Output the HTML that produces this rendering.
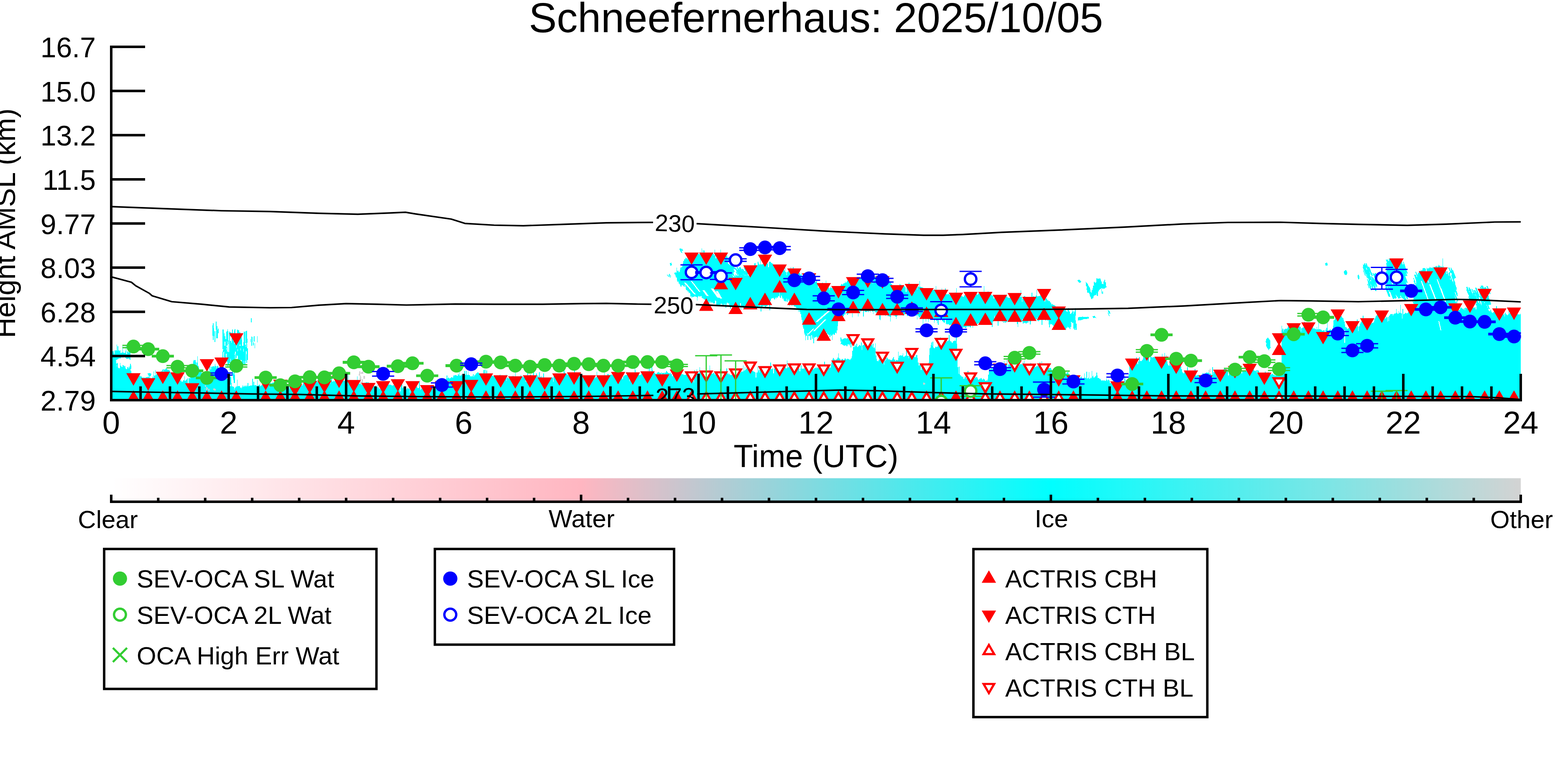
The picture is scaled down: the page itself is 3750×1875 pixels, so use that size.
<!DOCTYPE html><html><head><meta charset="utf-8"><title>Schneefernerhaus: 2025/10/05</title><style>html,body{margin:0;padding:0;background:#fff;font-family:"Liberation Sans",sans-serif}svg{display:block}</style></head><body><svg width="3750" height="1875" viewBox="0 0 3750 1875"><defs><clipPath id="ax"><rect x="266.0" y="0" width="3371.5" height="957.0"/></clipPath><linearGradient id="cb" x1="0" x2="1" y1="0" y2="0"><stop offset="0" stop-color="#ffffff"/><stop offset="0.33333" stop-color="#ffb6c1"/><stop offset="0.66667" stop-color="#00ffff"/><stop offset="1" stop-color="#d3d3d3"/></linearGradient></defs><rect width="3750" height="1875" fill="#fff"/><g clip-path="url(#ax)"><g shape-rendering="crispEdges"><path d="M266 957V841.1H267.4V842H268.8V840H270.2V840.4H271.6V844.6H273V847.7H274.4V838.1H275.8V838.4H277.2V837.8H278.6V824.4H280V838.7H281.4V828.3H282.8V837.4H284.2V839.3H285.6V837.6H287V838.4H288.4V844.3H289.8V844H291.2V843.4H292.6V828.1H294V841.7H295.4V843.7H296.8V843.6H298.2V843.5H299.6V839.1H301V826.4H302.4V847.1H303.8V840.1H305.2V840.6H306.6V843.7H308V840.9H309.4V840.3H310.8V841.6H312.2V872.4H313.6V892.4H315V893.4H316.4V896H317.8V895H319.2V895H320.6V896.2H322V899.6H323.4V901.5H324.8V900.5H326.2V892.7H327.6V896.5H329V895.6H330.4V892.7H331.8V895.7H333.2V898.1H334.6V898.9H336V900.6H337.4V900.3H338.8V902.2H340.2V902.5H341.6V905.4H343V902H344.4V903.2H345.8V905.1H347.2V903.1H348.6V901.6H350V902H351.4V901.7H352.8V901.3H354.2V901.3H355.6V903.4H357V897.4H358.4V903.4H359.8V905.5H361.2V908.6H362.6V905H364V899.6H365.4V903.3H366.8V887.7H368.2V898.1H369.6V898.5H371V884.9H372.4V897.4H373.8V893.9H375.2V895.1H376.6V891.7H378V894.6H379.4V892.4H380.8V893.2H382.2V890.7H383.6V896.9H385V886.5H386.4V887.8H387.8V885.1H389.2V882.9H390.6V891.2H392V883.4H393.4V883.7H394.8V882.9H396.2V880.9H397.6V881.3H399V882.8H400.4V884.2H401.8V886.2H403.2V884H404.6V886.6H406V888.2H407.4V890.8H408.8V892.8H410.2V892.4H411.6V894.5H413V896.6H414.4V896.2H415.8V893.2H417.2V893.4H418.6V895.2H420V895.2H421.4V895.4H422.8V894.2H424.2V899.7H425.6V903.4H427V904.8H428.4V905.7H429.8V906H431.2V909.5H432.6V910.2H434V912.5H435.4V913H436.8V911.4H438.2V909.3H439.6V910.4H441V900.1H442.4V910.7H443.8V909.2H445.2V908.1H446.6V906H448V903.7H449.4V917.1H450.8V905.4H452.2V904.4H453.6V905.7H455V900.2H456.4V892.4H457.8V879.6H459.2V873.6H460.6V870.1H462V863.5H463.4V860.5H464.8V861.9H466.2V860.7H467.6V865.8H469V873.4H470.4V866.5H471.8V852H473.2V875.1H474.6V879.4H476V882.6H477.4V884.8H478.8V887.4H480.2V887.6H481.6V892.4H483V891.8H484.4V894.9H485.8V898.1H487.2V899.5H488.6V897.9H490V900.1H491.4V897.3H492.8V899.6H494.2V899.3H495.6V897.6H497V878H498.4V896.3H499.8V894.9H501.2V875.2H502.6V883.6H504V882.6H505.4V876.8H506.8V877.9H508.2V878.9H509.6V877H511V877H512.4V877.5H513.8V869.6H515.2V876.8H516.6V881.3H518V891.5H519.4V901.1H520.8V900.2H522.2V900.6H523.6V899.6H525V900.9H526.4V902H527.8V903.3H529.2V900.6H530.6V900.6H532V901.5H533.4V904.5H534.8V904H536.2V905.4H537.6V908.7H539V908.1H540.4V918.1H541.8V906.1H543.2V906.3H544.6V906.4H546V912.2H547.4V916.8H548.8V922.2H550.2V923.5H551.6V921H553V915.6H554.4V923.6H555.8V924H557.2V924.6H558.6V925.2H560V932.2H561.4V927.7H562.8V924.6H564.2V925.2H565.6V923.4H567V908.2H568.4V924.2H569.8V923.4H571.2V922.8H572.6V923.7H574V927.3H575.4V927.3H576.8V928.5H578.2V926.4H579.6V921.8H581V922.3H582.4V925.1H583.8V923.9H585.2V921.5H586.6V924.1H588V924.8H589.4V922.4H590.8V924.4H592.2V915.7H593.6V924.3H595V923H596.4V923H597.8V922.4H599.2V921.7H600.6V922.1H602V921.9H603.4V906.1H604.8V920.8H606.2V913.2H607.6V920.6H609V921.9H610.4V920.6H611.8V920.8H613.2V923.4H614.6V909.4H616V922.6H617.4V921.7H618.8V920.4H620.2V920.3H621.6V923.4H623V923.9H624.4V921.5H625.8V919.8H627.2V917.9H628.6V916.9H630V911.1H631.4V917H632.8V913.8H634.2V896.3H635.6V916.9H637V916.7H638.4V912.6H639.8V914H641.2V916.9H642.6V916.1H644V925.9H645.4V915.5H646.8V916.1H648.2V916.9H649.6V915H651V916.4H652.4V915.4H653.8V915.2H655.2V919.7H656.6V919.6H658V922.2H659.4V924H660.8V922.6H662.2V923.2H663.6V920.9H665V919.6H666.4V919.8H667.8V924.3H669.2V924.3H670.6V923.9H672V923H673.4V916.8H674.8V921.2H676.2V919.4H677.6V918.7H679V919.3H680.4V930.3H681.8V919.8H683.2V920.3H684.6V919.5H686V920.5H687.4V919.4H688.8V919H690.2V921.1H691.6V930.6H693V915.2H694.4V918.8H695.8V918.3H697.2V918.6H698.6V918.1H700V919.5H701.4V920.2H702.8V919.8H704.2V920.6H705.6V919.8H707V920.2H708.4V923.2H709.8V920.6H711.2V920.6H712.6V919H714V921.8H715.4V919.8H716.8V918.5H718.2V919.4H719.6V919.7H721V921.3H722.4V921.8H723.8V919.4H725.2V907.8H726.6V918.7H728V914.7H729.4V913.4H730.8V915.8H732.2V920.5H733.6V925.2H735V913.2H736.4V913.6H737.8V911.8H739.2V912.7H740.6V911.4H742V910H743.4V914.5H744.8V912.3H746.2V912.3H747.6V910.4H749V912.8H750.4V914.3H751.8V911.8H753.2V911.2H754.6V910.4H756V909.7H757.4V911.4H758.8V913.6H760.2V913.7H761.6V912.8H763V904.7H764.4V915.5H765.8V916.9H767.2V918.1H768.6V918.2H770V918.4H771.4V917.9H772.8V917.5H774.2V919.4H775.6V919.1H777V919.4H778.4V917.7H779.8V918.9H781.2V917.8H782.6V920.3H784V915.4H785.4V913.8H786.8V917.3H788.2V917.7H789.6V915H791V914.2H792.4V901.7H793.8V912H795.2V912.7H796.6V910.1H798V911.1H799.4V912.3H800.8V910.1H802.2V910.3H803.6V909.8H805V892.9H806.4V917.6H807.8V909.9H809.2V911.9H810.6V913.1H812V910.5H813.4V909.3H814.8V917.3H816.2V909.7H817.6V908.4H819V908.7H820.4V900.1H821.8V911H823.2V911.1H824.6V916.7H826V906.8H827.4V908.9H828.8V911.3H830.2V912H831.6V891.1H833V911.1H834.4V912.5H835.8V915.3H837.2V914.3H838.6V914.4H840V914.3H841.4V913.8H842.8V912.7H844.2V916.9H845.6V920H847V927.9H848.4V918.6H849.8V917.8H851.2V917.4H852.6V917.3H854V900.1H855.4V920.1H856.8V917.8H858.2V917.9H859.6V917.2H861V908.2H862.4V917.5H863.8V913.7H865.2V914.6H866.6V915.3H868V915.8H869.4V916H870.8V917.5H872.2V915.3H873.6V916.6H875V914.1H876.4V914.4H877.8V915.6H879.2V914.1H880.6V915.2H882V918.4H883.4V923.6H884.8V916.9H886.2V916.8H887.6V916.6H889V919.1H890.4V922H891.8V924.9H893.2V923.7H894.6V923.3H896V924.4H897.4V922.5H898.8V922H900.2V925.7H901.6V926H903V920.4H904.4V926.8H905.8V930.7H907.2V928.9H908.6V930.5H910V920.1H911.4V925.3H912.8V926.2H914.2V927.3H915.6V925.7H917V925.4H918.4V925.1H919.8V924.8H921.2V926.9H922.6V926.1H924V924.3H925.4V922.7H926.8V918.1H928.2V919.6H929.6V919.1H931V921H932.4V919.8H933.8V920.3H935.2V920.9H936.6V922.1H938V922.5H939.4V920.9H940.8V921.1H942.2V921.5H943.6V905.5H945V921.4H946.4V922.2H947.8V924.2H949.2V927.7H950.6V928.9H952V929.7H953.4V927.9H954.8V927.7H956.2V935.6H957.6V927.1H959V920.5H960.4V909.4H961.8V928.9H963.2V927.4H964.6V923.7H966V929.1H967.4V928H968.8V929.7H970.2V929H971.6V931.7H973V929.5H974.4V928.1H975.8V929.4H977.2V930.2H978.6V929.7H980V939.3H981.4V929.1H982.8V931.5H984.2V929H985.6V927.6H987V916.6H988.4V923.8H989.8V926.8H991.2V927.2H992.6V929.6H994V927.7H995.4V924.9H996.8V924.3H998.2V928.3H999.6V927.9H1001V927.5H1002.4V912.1H1003.8V925.8H1005.2V931.8H1006.6V929.4H1008V929.4H1009.4V930.6H1010.8V922.7H1012.2V930.5H1013.6V927.6H1015V930.2H1016.4V927.9H1017.8V927.4H1019.2V928.1H1020.6V926.4H1022V926.1H1023.4V924.9H1024.8V925.8H1026.2V925.4H1027.6V923.6H1029V925.5H1030.4V926.3H1031.8V928.7H1033.2V928.5H1034.6V928.7H1036V926.1H1037.4V925.3H1038.8V927.9H1040.2V928.4H1041.6V909.7H1043V931.2H1044.4V928.1H1045.8V927.5H1047.2V927.4H1048.6V928H1050V926.8H1051.4V937.2H1052.8V927.6H1054.2V928.7H1055.6V919.4H1057V927.2H1058.4V916.3H1059.8V932.1H1061.2V932.3H1062.6V925.5H1064V919.5H1065.4V912.7H1066.8V904.5H1068.2V898.1H1069.6V904.8H1071V903.9H1072.4V903.2H1073.8V904.6H1075.2V905.1H1076.6V903.6H1078V902.5H1079.4V901.7H1080.8V902.6H1082.2V902.5H1083.6V899.1H1085V897.2H1086.4V898.2H1087.8V896.9H1089.2V896.5H1090.6V897.6H1092V898H1093.4V899H1094.8V894.1H1096.2V896.3H1097.6V881.8H1099V898.5H1100.4V898.4H1101.8V898.7H1103.2V895.8H1104.6V898.4H1106V897.8H1107.4V898.6H1108.8V898.8H1110.2V887.1H1111.6V896.1H1113V896.9H1114.4V887.1H1115.8V895.7H1117.2V897H1118.6V888.4H1120V895.9H1121.4V897.2H1122.8V897.3H1124.2V900H1125.6V900.2H1127V901.2H1128.4V898.5H1129.8V900.6H1131.2V895.3H1132.6V900.5H1134V897.7H1135.4V896.7H1136.8V895.4H1138.2V892.8H1139.6V891.8H1141V889.5H1142.4V890.5H1143.8V891.2H1145.2V893.5H1146.6V894.6H1148V894.8H1149.4V895.9H1150.8V897.2H1152.2V905.1H1153.6V897.7H1155V897.8H1156.4V884.9H1157.8V894.3H1159.2V883.9H1160.6V896.4H1162V895.1H1163.4V886.2H1164.8V897.5H1166.2V896.3H1167.6V897.2H1169V898.9H1170.4V897.5H1171.8V899.1H1173.2V897.5H1174.6V896.1H1176V896H1177.4V899.3H1178.8V899.7H1180.2V899.4H1181.6V898.8H1183V900.3H1184.4V900.6H1185.8V901.6H1187.2V903.3H1188.6V902.8H1190V900.2H1191.4V900.3H1192.8V897.6H1194.2V897H1195.6V895.7H1197V899.1H1198.4V898.5H1199.8V896.6H1201.2V898.4H1202.6V900.6H1204V899.8H1205.4V900.9H1206.8V901H1208.2V902.3H1209.6V896.2H1211V910.6H1212.4V902.6H1213.8V903.5H1215.2V904.9H1216.6V899.1H1218V903.5H1219.4V903.1H1220.8V902.9H1222.2V905.3H1223.6V905H1225V901.5H1226.4V899.4H1227.8V901.1H1229.2V901.5H1230.6V900.9H1232V887.7H1233.4V902.1H1234.8V902.8H1236.2V902.4H1237.6V901.2H1239V900H1240.4V905.9H1241.8V903H1243.2V902.1H1244.6V896.9H1246V899.4H1247.4V899.9H1248.8V899H1250.2V901.8H1251.6V899.9H1253V901.3H1254.4V899.3H1255.8V901H1257.2V912.8H1258.6V902H1260V900.9H1261.4V887.7H1262.8V902H1264.2V903.3H1265.6V901.3H1267V896.4H1268.4V895.6H1269.8V901.5H1271.2V902.6H1272.6V902.4H1274V899.9H1275.4V888.9H1276.8V900.5H1278.2V899H1279.6V902.9H1281V899H1282.4V892.7H1283.8V902.7H1285.2V898H1286.6V900.8H1288V902.3H1289.4V890.1H1290.8V903.8H1292.2V901.2H1293.6V902.6H1295V900.1H1296.4V903.9H1297.8V906.3H1299.2V892.8H1300.6V909.2H1302V907H1303.4V907.1H1304.8V904.7H1306.2V905.8H1307.6V912.2H1309V904.5H1310.4V904.4H1311.8V906.2H1313.2V905.5H1314.6V905.2H1316V904H1317.4V903.2H1318.8V901.6H1320.2V902.8H1321.6V903H1323V913H1324.4V896.8H1325.8V898.4H1327.2V897.8H1328.6V896.6H1330V897.7H1331.4V896.9H1332.8V897.4H1334.2V896.9H1335.6V895.9H1337V895H1338.4V896.4H1339.8V894.5H1341.2V896.9H1342.6V898.6H1344V897.2H1345.4V895.5H1346.8V893.7H1348.2V878.6H1349.6V891H1351V892.2H1352.4V893.6H1353.8V895.2H1355.2V894.1H1356.6V896.5H1358V896.7H1359.4V895.7H1360.8V895.8H1362.2V898.5H1363.6V899.2H1365V895.9H1366.4V898.5H1367.8V899.1H1369.2V898.8H1370.6V896.5H1372V896.8H1373.4V885H1374.8V898H1376.2V896H1377.6V897.7H1379V895.5H1380.4V896H1381.8V898.6H1383.2V893.9H1384.6V901.7H1386V894.9H1387.4V897.4H1388.8V901.8H1390.2V903.4H1391.6V904.5H1393V901.9H1394.4V901.3H1395.8V901.2H1397.2V900.1H1398.6V899.2H1400V899.8H1401.4V900.6H1402.8V901.2H1404.2V901.8H1405.6V901H1407V901.8H1408.4V901.5H1409.8V899.9H1411.2V901.4H1412.6V903.1H1414V901.3H1415.4V902.2H1416.8V900.6H1418.2V902.7H1419.6V901.8H1421V904.9H1422.4V903.6H1423.8V901.7H1425.2V901.6H1426.6V888.7H1428V899.4H1429.4V901.5H1430.8V900.7H1432.2V898.7H1433.6V901.5H1435V904H1436.4V902.2H1437.8V904.6H1439.2V903.6H1440.6V909.5H1442V901.2H1443.4V902.8H1444.8V891.4H1446.2V902.3H1447.6V900.8H1449V901.9H1450.4V898.2H1451.8V895.7H1453.2V893.8H1454.6V896.3H1456V897.1H1457.4V897.2H1458.8V896.7H1460.2V895.9H1461.6V895.5H1463V896.3H1464.4V897.2H1465.8V897.6H1467.2V897.3H1468.6V895.9H1470V896H1471.4V877.4H1472.8V888.7H1474.2V896.7H1475.6V895.6H1477V895.4H1478.4V894.8H1479.8V895H1481.2V896.8H1482.6V897.7H1484V890.1H1485.4V899H1486.8V897H1488.2V907H1489.6V898.7H1491V901.9H1492.4V898.7H1493.8V896.4H1495.2V897.3H1496.6V897.3H1498V897H1499.4V890.3H1500.8V894.9H1502.2V899.2H1503.6V892.2H1505V911.6H1506.4V899H1507.8V900.3H1509.2V901.8H1510.6V900.4H1512V898.8H1513.4V899.2H1514.8V897.6H1516.2V898.6H1517.6V879.2H1519V884.8H1520.4V895.4H1521.8V901.3H1523.2V894.3H1524.6V896.1H1526V895.7H1527.4V895.6H1528.8V897.6H1530.2V897.3H1531.6V895.6H1533V894.6H1534.4V893.4H1535.8V892.8H1537.2V898.3H1538.6V892.6H1540V893.3H1541.4V891.7H1542.8V903.4H1544.2V894.1H1545.6V893.4H1547V894.7H1548.4V894.5H1549.8V880.2H1551.2V891.1H1552.6V871.7H1554V875.7H1555.4V890.2H1556.8V889.2H1558.2V869.7H1559.6V885.4H1561V888.1H1562.4V888.8H1563.8V890.4H1565.2V892.3H1566.6V893.5H1568V899.2H1569.4V894H1570.8V891.3H1572.2V891.1H1573.6V889.4H1575V890.2H1576.4V891.2H1577.8V892.5H1579.2V891.9H1580.6V889.9H1582V898.8H1583.4V892.1H1584.8V891.9H1586.2V892H1587.6V891.4H1589V893.8H1590.4V891.3H1591.8V890.6H1593.2V886.8H1594.6V888.6H1596V889.6H1597.4V891.5H1598.8V891.8H1600.2V892.7H1601.6V892.4H1603V890.9H1604.4V894.6H1605.8V893.8H1607.2V899.6H1608.6V896.2H1610V897.9H1611.4V897.5H1612.8V896H1614.2V896.1H1615.6V895.5H1617V894.2H1618.4V894.7H1619.8V896.3H1621.2V896.1H1622.6V893.7H1624V893.1H1625.4V891.9H1626.8V891.4H1628.2V894.9H1629.6V894.8H1631V895.1H1632.4V894.7H1633.8V895.9H1635.2V895.6H1636.6V896.8H1638V897.3H1639.4V896.4H1640.8V894.7H1642.2V893.7H1643.6V891.9H1645V889.3H1646.4V893.6H1647.8V895H1649.2V895.1H1650.6V896.7H1652V898.1H1653.4V896.9H1654.8V908.4H1656.2V900.4H1657.6V910.6H1659V914.6H1660.4V885.6H1661.8V897.9H1663.2V897H1664.6V894.6H1666V882.5H1667.4V892.9H1668.8V891.6H1670.2V891.6H1671.6V891.5H1673V878.4H1674.4V886.8H1675.8V886.3H1677.2V886.9H1678.6V889.3H1680V893.7H1681.4V893.1H1682.8V893.4H1684.2V893.3H1685.6V892.4H1687V890.5H1688.4V892.5H1689.8V887.8H1691.2V891.7H1692.6V892.8H1694V892.1H1695.4V890.4H1696.8V874.1H1698.2V891.1H1699.6V892.1H1701V890.8H1702.4V893.8H1703.8V893.9H1705.2V892.4H1706.6V892.2H1708V892.6H1709.4V895.9H1710.8V895.4H1712.2V896.8H1713.6V896.3H1715V898.1H1716.4V897.2H1717.8V899.7H1719.2V898.2H1720.6V898.7H1722V882.1H1723.4V895.5H1724.8V895.4H1726.2V896.6H1727.6V893.8H1729V896.3H1730.4V897.6H1731.8V898.9H1733.2V898.3H1734.6V895.9H1736V895.3H1737.4V881.1H1738.8V892.5H1740.2V892.9H1741.6V893.7H1743V896.6H1744.4V894H1745.8V896.8H1747.2V897.1H1748.6V896H1750V897.3H1751.4V894.8H1752.8V893.9H1754.2V894.2H1755.6V894.8H1757V885.9H1758.4V894.7H1759.8V895.1H1761.2V892.2H1762.6V891.1H1764V883.2H1765.4V892.7H1766.8V894.2H1768.2V893H1769.6V891.7H1771V891.2H1772.4V889.1H1773.8V888.4H1775.2V888.5H1776.6V874.3H1778V887.9H1779.4V886.4H1780.8V878.4H1782.2V884.5H1783.6V882.1H1785V882.4H1786.4V875.8H1787.8V884H1789.2V882.8H1790.6V884.2H1792V882.1H1793.4V884.9H1794.8V883H1796.2V882.7H1797.6V883.2H1799V887H1800.4V887.4H1801.8V888.5H1803.2V888.9H1804.6V890.3H1806V891.4H1807.4V902.6H1808.8V890.8H1810.2V891.3H1811.6V876.7H1813V887.7H1814.4V885.1H1815.8V891.3H1817.2V881.5H1818.6V882H1820V881.6H1821.4V882.1H1822.8V883.6H1824.2V881.1H1825.6V879.7H1827V880.2H1828.4V878.8H1829.8V879.6H1831.2V878.7H1832.6V879.3H1834V881.3H1835.4V879.1H1836.8V878.6H1838.2V876.7H1839.6V877.9H1841V877.8H1842.4V866.5H1843.8V882.9H1845.2V883.4H1846.6V881.3H1848V881.2H1849.4V892.8H1850.8V882.2H1852.2V881.3H1853.6V881.8H1855V877.4H1856.4V878.2H1857.8V878.4H1859.2V879.8H1860.6V877.1H1862V876.8H1863.4V876.3H1864.8V878.3H1866.2V879.1H1867.6V878.1H1869V876.6H1870.4V877.1H1871.8V879.1H1873.2V878.2H1874.6V875.5H1876V877.7H1877.4V877.8H1878.8V881.2H1880.2V880.9H1881.6V861.6H1883V879.7H1884.4V877.6H1885.8V878.8H1887.2V878.4H1888.6V873.7H1890V878H1891.4V880.3H1892.8V879.3H1894.2V880.7H1895.6V881.8H1897V881.8H1898.4V882.1H1899.8V880.3H1901.2V881.7H1902.6V881.2H1904V880.4H1905.4V874.2H1906.8V879.8H1908.2V879.9H1909.6V879.2H1911V882.2H1912.4V888H1913.8V881.5H1915.2V873.8H1916.6V881.9H1918V881.3H1919.4V881.9H1920.8V882H1922.2V880.5H1923.6V880.6H1925V880.6H1926.4V877.5H1927.8V883.3H1929.2V882.5H1930.6V882.7H1932V880.5H1933.4V881H1934.8V882.2H1936.2V883.1H1937.6V881.3H1939V881.3H1940.4V881.3H1941.8V884.2H1943.2V882.7H1944.6V883.8H1946V882.3H1947.4V881.1H1948.8V879.4H1950.2V880.2H1951.6V878H1953V880.9H1954.4V879H1955.8V880.7H1957.2V880.1H1958.6V876.4H1960V875H1961.4V876.8H1962.8V873.1H1964.2V873.1H1965.6V875.9H1967V876.8H1968.4V876.5H1969.8V876.3H1971.2V864.7H1972.6V881.7H1974V882.3H1975.4V880.6H1976.8V880.7H1978.2V878H1979.6V877.7H1981V876H1982.4V878.4H1983.8V880.6H1985.2V878.9H1986.6V873.9H1988V868.3H1989.4V864H1990.8V858.9H1992.2V856.3H1993.6V857.9H1995V859.6H1996.4V861.4H1997.8V860.8H1999.2V860.4H2000.6V859.4H2002V858.1H2003.4V855.3H2004.8V844.5H2006.2V856.6H2007.6V857.6H2009V858.7H2010.4V862.4H2011.8V859.5H2013.2V859.2H2014.6V857.8H2016V860.7H2017.4V860.8H2018.8V859.7H2020.2V857.1H2021.6V857.6H2023V859.4H2024.4V860H2025.8V857.8H2027.2V858H2028.6V859.1H2030V860.3H2031.4V859.7H2032.8V861.1H2034.2V857.5H2035.6V856.1H2037V851.8H2038.4V839.4H2039.8V830H2041.2V829.6H2042.6V811.4H2044V830H2045.4V826.1H2046.8V828.4H2048.2V822.3H2049.6V830.1H2051V829.8H2052.4V828H2053.8V825.5H2055.2V825H2056.6V826.9H2058V826.6H2059.4V818.7H2060.8V837.1H2062.2V826H2063.6V824.8H2065V825.2H2066.4V823.9H2067.8V822.9H2069.2V822.4H2070.6V824.1H2072V822.8H2073.4V823.4H2074.8V824.3H2076.2V808.6H2077.6V825H2079V824.8H2080.4V826.7H2081.8V825.1H2083.2V824.3H2084.6V825.7H2086V829.9H2087.4V821.8H2088.8V831.9H2090.2V831.3H2091.6V834.3H2093V821H2094.4V850.1H2095.8V858.3H2097.2V862.8H2098.6V863.8H2100V863.5H2101.4V861H2102.8V857.7H2104.2V859H2105.6V857.5H2107V858.7H2108.4V859H2109.8V859.1H2111.2V859.7H2112.6V860.6H2114V871.5H2115.4V862.1H2116.8V863.2H2118.2V856.2H2119.6V861.2H2121V854H2122.4V857H2123.8V858.5H2125.2V859.6H2126.6V859.3H2128V860.3H2129.4V860.5H2130.8V861.5H2132.2V860.7H2133.6V857H2135V858.1H2136.4V854H2137.8V860.3H2139.2V860.1H2140.6V863.6H2142V862.6H2143.4V860.9H2144.8V860.9H2146.2V861.5H2147.6V840.7H2149V855.8H2150.4V850.8H2151.8V848.8H2153.2V849.7H2154.6V851.4H2156V850.1H2157.4V849.5H2158.8V845.3H2160.2V853.4H2161.6V854.1H2163V851.6H2164.4V851.2H2165.8V850.4H2167.2V832.4H2168.6V850.7H2170V850.9H2171.4V850.9H2172.8V856.6H2174.2V850.6H2175.6V851.2H2177V851.6H2178.4V852.1H2179.8V853.4H2181.2V851H2182.6V850H2184V851.9H2185.4V852H2186.8V854.9H2188.2V854.2H2189.6V849.8H2191V848.6H2192.4V848.9H2193.8V856.3H2195.2V866.6H2196.6V873.9H2198V874.5H2199.4V872.1H2200.8V870H2202.2V884.5H2203.6V872.8H2205V869.9H2206.4V873.9H2207.8V873.2H2209.2V876.4H2210.6V876.2H2212V877H2213.4V878H2214.8V877.7H2216.2V876.8H2217.6V875.6H2219V877.5H2220.4V868.2H2221.8V848.8H2223.2V833.3H2224.6V830.7H2226V824.9H2227.4V819H2228.8V827.3H2230.2V816.5H2231.6V831.3H2233V832.2H2234.4V832.6H2235.8V830.7H2237.2V828.7H2238.6V830.3H2240V829.9H2241.4V829.4H2242.8V815H2244.2V822.1H2245.6V819.7H2247V817.2H2248.4V806.5H2249.8V817.9H2251.2V816.9H2252.6V815.1H2254V809.3H2255.4V811.8H2256.8V819.9H2258.2V820.2H2259.6V820.3H2261V818.4H2262.4V817.7H2263.8V814.2H2265.2V816.1H2266.6V814.3H2268V814.9H2269.4V801.3H2270.8V813.2H2272.2V815.8H2273.6V816.6H2275V816.9H2276.4V819.5H2277.8V818.9H2279.2V815.6H2280.6V815.5H2282V814H2283.4V814.5H2284.8V815.2H2286.2V800.4H2287.6V821.8H2289V850.2H2290.4V877.9H2291.8V894H2293.2V877.4H2294.6V895.4H2296V896.6H2297.4V897.7H2298.8V900.3H2300.2V901.3H2301.6V901H2303V900.8H2304.4V906.1H2305.8V905H2307.2V901.4H2308.6V902.4H2310V904.8H2311.4V905.4H2312.8V906.4H2314.2V887H2315.6V908H2317V907.1H2318.4V897.4H2319.8V907.5H2321.2V903.6H2322.6V902.8H2324V901.9H2325.4V902.1H2326.8V902.8H2328.2V901.9H2329.6V906.2H2331V901.2H2332.4V902.8H2333.8V901.7H2335.2V901.8H2336.6V903.3H2338V905.5H2339.4V907.5H2340.8V907.7H2342.2V905.5H2343.6V903.9H2345V905.7H2346.4V904.4H2347.8V906.6H2349.2V908.4H2350.6V906H2352V904.5H2353.4V906.6H2354.8V909.1H2356.2V910.6H2357.6V909.7H2359V910H2360.4V910.3H2361.8V905.9H2363.2V895.6H2364.6V888H2366V882.4H2367.4V882.8H2368.8V881.8H2370.2V880.7H2371.6V883.3H2373V880H2374.4V879.2H2375.8V878.5H2377.2V877.9H2378.6V878H2380V879.1H2381.4V878.3H2382.8V877.1H2384.2V884.4H2385.6V876.7H2387V876.8H2388.4V878.6H2389.8V877.8H2391.2V877.4H2392.6V874.6H2394V874.1H2395.4V873.2H2396.8V870.8H2398.2V871H2399.6V876.3H2401V862.8H2402.4V871.2H2403.8V871.1H2405.2V870.2H2406.6V870H2408V859.2H2409.4V880.6H2410.8V871.1H2412.2V871.8H2413.6V871H2415V869.6H2416.4V868.7H2417.8V873.6H2419.2V870.3H2420.6V852.6H2422V873.1H2423.4V871.6H2424.8V872.7H2426.2V872.4H2427.6V873.4H2429V872.7H2430.4V873H2431.8V876.2H2433.2V876.6H2434.6V877H2436V875.7H2437.4V872.5H2438.8V870.9H2440.2V871.4H2441.6V871.1H2443V869.9H2444.4V871.7H2445.8V866.9H2447.2V868.8H2448.6V861.9H2450V870.2H2451.4V871.5H2452.8V872.4H2454.2V874.1H2455.6V871.3H2457V870.2H2458.4V871.4H2459.8V872H2461.2V871.9H2462.6V870.6H2464V868H2465.4V869.1H2466.8V871.4H2468.2V870.5H2469.6V873.1H2471V877.6H2472.4V878.2H2473.8V878.7H2475.2V877.8H2476.6V876.6H2478V876H2479.4V876.1H2480.8V873H2482.2V875.5H2483.6V876.9H2485V877.7H2486.4V867.3H2487.8V878.6H2489.2V877.1H2490.6V863.9H2492V878H2493.4V879.9H2494.8V881.3H2496.2V885H2497.6V881.4H2499V881.6H2500.4V874.5H2501.8V881.5H2503.2V880.4H2504.6V880.6H2506V878.7H2507.4V880H2508.8V880.8H2510.2V879.7H2511.6V879.5H2513V880.1H2514.4V884.2H2515.8V885.7H2517.2V886.5H2518.6V886.5H2520V887.8H2521.4V887.7H2522.8V887.9H2524.2V886.3H2525.6V886.9H2527V887.2H2528.4V889.6H2529.8V897.2H2531.2V888.1H2532.6V887.9H2534V890.1H2535.4V901.6H2536.8V891.4H2538.2V891.1H2539.6V890.8H2541V890.2H2542.4V888.8H2543.8V889.6H2545.2V893.1H2546.6V891.5H2548V891.8H2549.4V893.7H2550.8V890.7H2552.2V889.6H2553.6V895.4H2555V889.8H2556.4V897.1H2557.8V899.4H2559.2V901.9H2560.6V903.5H2562V899.8H2563.4V899.8H2564.8V899.1H2566.2V900.8H2567.6V899.8H2569V898.8H2570.4V899.4H2571.8V903.3H2573.2V904.4H2574.6V901.2H2576V903.4H2577.4V904.1H2578.8V904.2H2580.2V904H2581.6V907.5H2583V903.8H2584.4V902.4H2585.8V900.4H2587.2V904H2588.6V905.5H2590V904.2H2591.4V904.3H2592.8V893.1H2594.2V903.3H2595.6V903.5H2597V904.7H2598.4V888.8H2599.8V905.1H2601.2V904.8H2602.6V902.6H2604V890.2H2605.4V906.1H2606.8V904.9H2608.2V903.1H2609.6V905.3H2611V887.2H2612.4V899.7H2613.8V898.3H2615.2V902.5H2616.6V903.2H2618V901.2H2619.4V900.3H2620.8V898.1H2622.2V891H2623.6V898.4H2625V903.8H2626.4V904.1H2627.8V904.1H2629.2V906.2H2630.6V908.1H2632V905.8H2633.4V910H2634.8V909.9H2636.2V910H2637.6V909.4H2639V911.2H2640.4V910.4H2641.8V910.2H2643.2V911.3H2644.6V908.7H2646V904.6H2647.4V908.7H2648.8V911.6H2650.2V907.5H2651.6V908.5H2653V911H2654.4V916.1H2655.8V916.1H2657.2V916H2658.6V916.8H2660V917.3H2661.4V918.8H2662.8V917.1H2664.2V914.4H2665.6V916.1H2667V924.2H2668.4V917.1H2669.8V917.7H2671.2V900.8H2672.6V897.7H2674V917.2H2675.4V900.6H2676.8V918.2H2678.2V918.9H2679.6V920.9H2681V922.4H2682.4V922.2H2683.8V919.8H2685.2V919.6H2686.6V920.9H2688V921H2689.4V899.9H2690.8V919.5H2692.2V908.5H2693.6V917.9H2695V919H2696.4V918.8H2697.8V913.1H2699.2V895.3H2700.6V875.8H2702V866.8H2703.4V865.5H2704.8V865.1H2706.2V864.6H2707.6V866.3H2709V866H2710.4V866.3H2711.8V862.9H2713.2V865.7H2714.6V863.8H2716V864.3H2717.4V855H2718.8V865.8H2720.2V871.4H2721.6V864.3H2723V864.6H2724.4V853.7H2725.8V864.4H2727.2V862.7H2728.6V864.3H2730V862.5H2731.4V860.6H2732.8V858.1H2734.2V853H2735.6V852.9H2737V853.8H2738.4V854.8H2739.8V848.8H2741.2V856.8H2742.6V854.8H2744V855.3H2745.4V854.7H2746.8V854.4H2748.2V864.5H2749.6V861.4H2751V851.5H2752.4V853.2H2753.8V854.8H2755.2V855H2756.6V854.1H2758V853.7H2759.4V853.8H2760.8V854.8H2762.2V853.3H2763.6V855.2H2765V852.9H2766.4V856.1H2767.8V857.3H2769.2V857.1H2770.6V859H2772V859.1H2773.4V855.9H2774.8V856.1H2776.2V856.4H2777.6V856.2H2779V845.5H2780.4V859.1H2781.8V860.3H2783.2V861.7H2784.6V843.9H2786V859.5H2787.4V859.4H2788.8V850.1H2790.2V864.2H2791.6V869.5H2793V871.7H2794.4V873.5H2795.8V874.8H2797.2V866.2H2798.6V871.9H2800V874.5H2801.4V871.4H2802.8V873.9H2804.2V874.7H2805.6V870.6H2807V876.2H2808.4V863.5H2809.8V875.9H2811.2V873.2H2812.6V871.3H2814V871H2815.4V870.9H2816.8V873.3H2818.2V872H2819.6V874.7H2821V874.3H2822.4V860.6H2823.8V876.9H2825.2V883.4H2826.6V888.9H2828V890.5H2829.4V892H2830.8V894H2832.2V889.8H2833.6V888.5H2835V887.5H2836.4V887.1H2837.8V887.4H2839.2V878.1H2840.6V887.6H2842V889.6H2843.4V888.6H2844.8V887.2H2846.2V887.5H2847.6V888.6H2849V890.4H2850.4V892.4H2851.8V892.4H2853.2V892H2854.6V898H2856V893.3H2857.4V882.5H2858.8V896.4H2860.2V898.6H2861.6V896.3H2863V896.9H2864.4V896.7H2865.8V896H2867.2V898.3H2868.6V897.8H2870V897.4H2871.4V898.9H2872.8V898.5H2874.2V897.3H2875.6V892.2H2877V893.1H2878.4V894.1H2879.8V894.7H2881.2V893.1H2882.6V892H2884V891.1H2885.4V890.7H2886.8V891.2H2888.2V891.9H2889.6V889.1H2891V892.2H2892.4V891.6H2893.8V892.5H2895.2V894.4H2896.6V897.2H2898V898H2899.4V878.1H2900.8V895.4H2902.2V890.4H2903.6V888H2905V889.1H2906.4V890.2H2907.8V890.9H2909.2V890.7H2910.6V888H2912V886.7H2913.4V885.9H2914.8V888.1H2916.2V888.4H2917.6V888.6H2919V889.2H2920.4V887.6H2921.8V886.6H2923.2V887.2H2924.6V884.2H2926V883H2927.4V882.9H2928.8V881.1H2930.2V882.6H2931.6V882.7H2933V886.2H2934.4V884.3H2935.8V883.5H2937.2V898.1H2938.6V880.3H2940V878.8H2941.4V884.3H2942.8V884.5H2944.2V879.3H2945.6V883.5H2947V885.3H2948.4V886.4H2949.8V884.4H2951.2V884.4H2952.6V897.2H2954V884.5H2955.4V884.5H2956.8V889.3H2958.2V886.1H2959.6V883.3H2961V883.3H2962.4V881.1H2963.8V880.1H2965.2V882.3H2966.6V882.4H2968V887.8H2969.4V893.4H2970.8V885.6H2972.2V886.4H2973.6V887.3H2975V888.6H2976.4V885.9H2977.8V886.1H2979.2V885.9H2980.6V888.4H2982V883H2983.4V882.9H2984.8V884.5H2986.2V883.6H2987.6V880.9H2989V881.9H2990.4V883.6H2991.8V885.1H2993.2V883.9H2994.6V885.4H2996V884.9H2997.4V884.3H2998.8V885.6H3000.2V887.1H3001.6V886.3H3003V887.8H3004.4V884.5H3005.8V892.7H3007.2V884.8H3008.6V885.6H3010V887.6H3011.4V896.5H3012.8V896.8H3014.2V898.7H3015.6V898.3H3017V898.3H3018.4V893H3019.8V901H3021.2V900.6H3022.6V899H3024V897.2H3025.4V889.1H3026.8V894.2H3028.2V894.4H3029.6V892.8H3031V892.6H3032.4V890.2H3033.8V890.7H3035.2V892.1H3036.6V890.5H3038V893.5H3039.4V895.5H3040.8V893.8H3042.2V893.8H3043.6V893.6H3045V896.6H3046.4V896.1H3047.8V898H3049.2V898.1H3050.6V895.4H3052V897.5H3053.4V897.3H3054.8V896.3H3056.2V899.4H3057.6V889.4H3059V897.8H3060.4V898.7H3061.8V898.5H3063.2V880.8H3064.6V779H3066V788.7H3067.4V786.3H3068.8V793.3H3070.2V788.3H3071.6V788.3H3073V786.6H3074.4V786.3H3075.8V786.6H3077.2V785.8H3078.6V784H3080V781.1H3081.4V780.2H3082.8V778.7H3084.2V778.8H3085.6V783.1H3087V784.3H3088.4V784.3H3089.8V781.9H3091.2V782H3092.6V783.9H3094V783H3095.4V785.7H3096.8V779.9H3098.2V779.9H3099.6V778.5H3101V777.9H3102.4V777.1H3103.8V780.7H3105.2V780.9H3106.6V780.6H3108V780.1H3109.4V781.9H3110.8V793.4H3112.2V785H3113.6V784.7H3115V783.3H3116.4V782.9H3117.8V780.5H3119.2V769.7H3120.6V781.7H3122V782.4H3123.4V772.1H3124.8V780.5H3126.2V781.8H3127.6V782.1H3129V782H3130.4V784.5H3131.8V784.6H3133.2V786.5H3134.6V786.4H3136V775.7H3137.4V782.2H3138.8V780.8H3140.2V785.5H3141.6V783.7H3143V785.6H3144.4V786.4H3145.8V787H3147.2V787.7H3148.6V782.3H3150V787.3H3151.4V787.7H3152.8V769.3H3154.2V786.7H3155.6V787.5H3157V787.1H3158.4V787.9H3159.8V788.7H3161.2V790.9H3162.6V790.8H3164V789.7H3165.4V789.9H3166.8V789.8H3168.2V799.3H3169.6V788.3H3171V788.7H3172.4V783.6H3173.8V770.9H3175.2V791.7H3176.6V790.1H3178V789.7H3179.4V789.1H3180.8V787.3H3182.2V788.9H3183.6V789.6H3185V791.4H3186.4V786.3H3187.8V778.6H3189.2V765.5H3190.6V764.7H3192V764H3193.4V758.5H3194.8V757.7H3196.2V756.5H3197.6V753.1H3199V751.5H3200.4V752.1H3201.8V752.6H3203.2V752.2H3204.6V752.2H3206V753.8H3207.4V755.7H3208.8V758.6H3210.2V759.5H3211.6V761.4H3213V765H3214.4V768.9H3215.8V775.6H3217.2V782.4H3218.6V782.9H3220V782.5H3221.4V786.2H3222.8V787.4H3224.2V785.4H3225.6V769H3227V782.8H3228.4V781.9H3229.8V781.4H3231.2V782H3232.6V770H3234V769.4H3235.4V779.5H3236.8V789.6H3238.2V778.6H3239.6V778.8H3241V771.5H3242.4V770.5H3243.8V781.5H3245.2V764H3246.6V780.5H3248V792.2H3249.4V781.2H3250.8V779.4H3252.2V773.8H3253.6V769.9H3255V770.7H3256.4V767.7H3257.8V766.4H3259.2V754.7H3260.6V767.9H3262V770.4H3263.4V770.1H3264.8V771.5H3266.2V773.6H3267.6V773.1H3269V774.3H3270.4V773.6H3271.8V773.8H3273.2V766.3H3274.6V771.9H3276V770.9H3277.4V762.5H3278.8V773.6H3280.2V773.3H3281.6V772.4H3283V771.9H3284.4V771H3285.8V767.8H3287.2V762H3288.6V759.4H3290V756.1H3291.4V755.3H3292.8V753.1H3294.2V752H3295.6V756.4H3297V753.7H3298.4V753.7H3299.8V756H3301.2V757.7H3302.6V758.5H3304V758.6H3305.4V756.2H3306.8V756.6H3308.2V756.5H3309.6V760.6H3311V759.8H3312.4V762.2H3313.8V756H3315.2V759.1H3316.6V758.9H3318V768.7H3319.4V758.1H3320.8V767.7H3322.2V754.6H3323.6V753.4H3325V750.6H3326.4V750.8H3327.8V751.1H3329.2V751.3H3330.6V754.7H3332V751.5H3333.4V750.6H3334.8V749.2H3336.2V750H3337.6V748.3H3339V739.1H3340.4V747.5H3341.8V750.6H3343.2V750H3344.6V743.6H3346V747.6H3347.4V747.6H3348.8V729.2H3350.2V749.2H3351.6V749.6H3353V761.7H3354.4V739.1H3355.8V751.5H3357.2V751.3H3358.6V750.4H3360V749.2H3361.4V748.1H3362.8V749.8H3364.2V749.2H3365.6V748.9H3367V747.1H3368.4V744.7H3369.8V742.9H3371.2V729.5H3372.6V754.2H3374V744H3375.4V743.4H3376.8V744.7H3378.2V744.2H3379.6V733.7H3381V735.1H3382.4V715.4H3383.8V701.6H3385.2V688.9H3386.6V674.4H3388V663.6H3389.4V660.3H3390.8V653.9H3392.2V651.8H3393.6V648.3H3395V648.1H3396.4V647.5H3397.8V644.9H3399.2V646.8H3400.6V645.6H3402V641.8H3403.4V641.4H3404.8V640.5H3406.2V640.9H3407.6V642.4H3409V642.5H3410.4V651H3411.8V640.2H3413.2V642.3H3414.6V643.4H3416V641.2H3417.4V641H3418.8V638.3H3420.2V639.7H3421.6V640.3H3423V640.1H3424.4V641.4H3425.8V637.9H3427.2V640.2H3428.6V638.4H3430V639.2H3431.4V638.9H3432.8V636.9H3434.2V635.5H3435.6V638.3H3437V645.4H3438.4V636.8H3439.8V633.1H3441.2V634.6H3442.6V635.7H3444V644.8H3445.4V636.7H3446.8V638.2H3448.2V639.4H3449.6V618.3H3451V637H3452.4V639.6H3453.8V640.9H3455.2V644.3H3456.6V647.3H3458V651H3459.4V655.2H3460.8V649.1H3462.2V658.9H3463.6V668H3465V663.7H3466.4V651.1H3467.8V668.5H3469.2V668.3H3470.6V668H3472V668.7H3473.4V673.9H3474.8V679.7H3476.2V685.1H3477.6V697.5H3479V709H3480.4V720.5H3481.8V732.6H3483.2V720.3H3484.6V738.4H3486V739.7H3487.4V740.6H3488.8V741H3490.2V741H3491.6V738.2H3493V734.9H3494.4V735.7H3495.8V738.2H3497.2V738.4H3498.6V739.5H3500V739.6H3501.4V737.4H3502.8V742.1H3504.2V736.4H3505.6V735.9H3507V737.2H3508.4V738.1H3509.8V738H3511.2V738.8H3512.6V736.2H3514V736.5H3515.4V737.6H3516.8V734.4H3518.2V735.6H3519.6V735.3H3521V735.4H3522.4V736.1H3523.8V735.1H3525.2V735.5H3526.6V734.8H3528V734.9H3529.4V739.8H3530.8V734H3532.2V734.7H3533.6V732.2H3535V732.2H3536.4V735.4H3537.8V730.1H3539.2V724.8H3540.6V731.5H3542V732H3543.4V710.1H3544.8V728.4H3546.2V731.2H3547.6V727.6H3549V727.4H3550.4V728.4H3551.8V727.9H3553.2V710.3H3554.6V730.4H3556V732H3557.4V736.3H3558.8V740.3H3560.2V742.6H3561.6V743.8H3563V744.9H3564.4V740.7H3565.8V743.9H3567.2V747.1H3568.6V748.4H3570V749.1H3571.4V745.5H3572.8V746.9H3574.2V746.3H3575.6V744.8H3577V744.3H3578.4V732.2H3579.8V741.7H3581.2V742.5H3582.6V743.5H3584V743.6H3585.4V742.8H3586.8V745.6H3588.2V747.3H3589.6V749.5H3591V748.6H3592.4V747.4H3593.8V748.3H3595.2V751.8H3596.6V751.2H3598V757.2H3599.4V747.8H3600.8V750.6H3602.2V752.4H3603.6V753.5H3605V753.8H3606.4V751.9H3607.8V735.2H3609.2V748.6H3610.6V747.5H3612V748.2H3613.4V748H3614.8V747.6H3616.2V749.2H3617.6V749.3H3619V748.6H3620.4V747.3H3621.8V749.8H3623.2V750.9H3624.6V751.6H3626V750.9H3627.4V750.8H3628.8V750.6H3630.2V751.6H3631.6V751.9H3633V752H3634.4V752H3635.8V749.7H3637V957Z" fill="#00ffff"/><path d="M1612 644V644H1613.4V651.5H1614.8V650.6H1616.2V651.7H1617.6V640.2H1619V647H1620.4V648.1H1621.8V647.4H1623.2V650.8H1624.6V649.3H1626V644.7H1627.4V640.4H1628.8V639.5H1630.2V638H1631.6V634.1H1633V629.2H1634.4V624.1H1635.8V620.2H1637.2V620H1638.6V617H1640V615.6H1641.4V618.3H1642.8V616.7H1644.2V620.2H1645.6V612.3H1647V610.2H1648.4V608.1H1649.8V608.2H1651.2V604H1652.6V608.5H1654V610H1655.4V609.3H1656.8V608.8H1658.2V607.3H1659.6V606.4H1661V605.6H1662.4V607H1663.8V606.2H1665.2V606.6H1666.6V606.9H1668V605.1H1669.4V606.9H1670.8V608.3H1672.2V607.6H1673.6V604.6H1675V603H1676.4V603.5H1677.8V593.5H1679.2V607.2H1680.6V598.1H1682V604.9H1683.4V598.6H1684.8V610.2H1686.2V606.9H1687.6V606.7H1689V610.6H1690.4V611H1691.8V610.4H1693.2V611.4H1694.6V609.1H1696V609.4H1697.4V607.8H1698.8V607.6H1700.2V607.1H1701.6V609H1703V608.9H1704.4V607.4H1705.8V606.6H1707.2V611H1708.6V597.2H1710V608.5H1711.4V618.4H1712.8V609H1714.2V610.2H1715.6V610.2H1717V611H1718.4V612.6H1719.8V612.4H1721.2V611.4H1722.6V597.3H1724V610.9H1725.4V612.4H1726.8V611.2H1728.2V610.9H1729.6V611.2H1731V609.7H1732.4V609.8H1733.8V609H1735.2V612.5H1736.6V614.9H1738V606.3H1739.4V627.1H1740.8V633.6H1742.2V643.2H1743.6V645.3H1745V649.2H1746.4V651.5H1747.8V653.9H1749.2V655H1750.6V657.8H1752V661.1H1753.4V661.7H1754.8V662.9H1756.2V660.6H1757.6V659.6H1759V661.4H1760.4V663.3H1761.8V664.3H1763.2V666.5H1764.6V664.5H1766V663H1767.4V660.6H1768.8V661.5H1770.2V665.1H1771.6V666.1H1773V653.6H1774.4V660.3H1775.8V661.3H1777.2V661.8H1778.6V661.6H1780V660H1781.4V659.4H1782.8V659.1H1784.2V659.6H1785.6V658.4H1787V661.4H1788.4V660.5H1789.8V658H1791.2V655.1H1792.6V652.6H1794V649.4H1795.4V648.5H1796.8V647.9H1798.2V647.8H1799.6V646.6H1801V644.8H1802.4V643.1H1803.8V629.9H1805.2V629.2H1806.6V643.7H1808V634.1H1809.4V634.9H1810.8V635.3H1812.2V625.7H1813.6V630.1H1815V631.3H1816.4V633H1817.8V618.4H1819.2V632.2H1820.6V633.1H1822V632.3H1823.4V631.9H1824.8V629.6H1826.2V627.6H1827.6V627H1829V628.7H1830.4V619.1H1831.8V628.8H1833.2V624.9H1834.6V630.5H1836V629.4H1837.4V638.7H1838.8V626.2H1840.2V626.3H1841.6V626.2H1843V626.7H1844.4V628.7H1845.8V629.3H1847.2V630.6H1848.6V632.9H1850V634.7H1851.4V632.9H1852.8V634.3H1854.2V637.8H1855.6V641.8H1857V639.6H1858.4V634.5H1859.8V641.8H1861.2V640.3H1862.6V639.5H1864V642.2H1865.4V642H1866.8V644.8H1868.2V645.3H1869.6V653.6H1871V646.4H1872.4V644.2H1873.8V644.6H1875.2V647.3H1876.6V636.5H1878V649.5H1879.4V650.9H1880.8V657.6H1882.2V651.1H1883.6V649.4H1885V647.6H1886.4V648.2H1887.8V650.4H1889.2V650.5H1890.6V638.8H1892V650.2H1893.4V649.1H1894.8V651.1H1896.2V639.3H1897.6V649.8H1899V649.4H1900.4V650.6H1901.8V653.8H1903.2V655.4H1904.6V656H1906V654.4H1907.4V655.1H1908.8V654.2H1910.2V651.6H1911.6V652.5H1913V656H1914.4V657.3H1915.8V652.7H1917.2V659.6H1918.6V658.9H1920V658.5H1921.4V657.6H1922.8V655.4H1924.2V656.2H1925.6V655.6H1927V658.6H1928.4V659.9H1929.8V661.1H1931.2V664.2H1932.6V654.2H1934V665.7H1935.4V665.1H1936.8V664.2H1938.2V666.7H1939.6V665.8H1941V668.9H1942.4V668.3H1943.8V657.3H1945.2V668.7H1946.6V670H1948V672.4H1949.4V674H1950.8V673.8H1952.2V669.4H1953.6V677.4H1955V679.6H1956.4V687.8H1957.8V682.4H1959.2V683.1H1960.6V690.5H1962V684.5H1963.4V684H1964.8V685H1966.2V675.7H1967.6V682.3H1969V686H1970.4V687.8H1971.8V688H1973.2V686.9H1974.6V670.9H1976V687.1H1977.4V684.8H1978.8V684.2H1980.2V686.9H1981.6V687.5H1983V693.4H1984.4V688.6H1985.8V686.2H1987.2V688.4H1988.6V690.1H1990V687.8H1991.4V690.4H1992.8V689.1H1994.2V688H1995.6V688.9H1997V690.9H1998.4V692.2H1999.8V695.3H2001.2V695.6H2002.6V695H2004V693.2H2005.4V690.8H2006.8V689.5H2008.2V686.4H2009.6V683.1H2011V681H2012.4V679.2H2013.8V682H2015.2V680.2H2016.6V677.2H2018V677.9H2019.4V676.6H2020.8V673H2022.2V676H2023.6V674.5H2025V673H2026.4V670.6H2027.8V668.7H2029.2V670.9H2030.6V668.5H2032V667.6H2033.4V665.4H2034.8V663.2H2036.2V670.7H2037.6V671.3H2039V664.7H2040.4V674.8H2041.8V667.8H2043.2V665.2H2044.6V666.2H2046V666.1H2047.4V665.3H2048.8V667.6H2050.2V663.5H2051.6V662.9H2053V665.5H2054.4V663.4H2055.8V666.7H2057.2V666.9H2058.6V657.3H2060V666H2061.4V653.4H2062.8V667.5H2064.2V668.8H2065.6V669.4H2067V666.7H2068.4V669.2H2069.8V670.4H2071.2V669.7H2072.6V670.3H2074V669.4H2075.4V666.1H2076.8V665.3H2078.2V666.8H2079.6V670.1H2081V671.4H2082.4V669.4H2083.8V666.2H2085.2V669.3H2086.6V677.7H2088V664.4H2089.4V664.9H2090.8V667H2092.2V661.1H2093.6V669.7H2095V655.5H2096.4V671.8H2097.8V670.5H2099.2V668.6H2100.6V667.2H2102V667.6H2103.4V668.6H2104.8V671.4H2106.2V672.1H2107.6V671H2109V672.2H2110.4V668.7H2111.8V674.9H2113.2V674.8H2114.6V676.2H2116V675.1H2117.4V673.8H2118.8V673.4H2120.2V676.1H2121.6V676.5H2123V674.7H2124.4V673.5H2125.8V670.8H2127.2V674.6H2128.6V677.2H2130V676.4H2131.4V678.5H2132.8V681H2134.2V685.7H2135.6V682.1H2137V682.7H2138.4V681.5H2139.8V682.5H2141.2V683.8H2142.6V686.3H2144V685.6H2145.4V684.5H2146.8V685.9H2148.2V685.9H2149.6V683.5H2151V679.4H2152.4V681.3H2153.8V680.4H2155.2V682.5H2156.6V683.4H2158V683.1H2159.4V683.5H2160.8V683.8H2162.2V684.9H2163.6V685.2H2165V687.7H2166.4V698.4H2167.8V684H2169.2V680.9H2170.6V681.8H2172V679.7H2173.4V676.1H2174.8V683.2H2176.2V685.2H2177.6V681.7H2179V684.7H2180.4V685.6H2181.8V693.7H2183.2V688.9H2184.6V689.8H2186V699.7H2187.4V688.3H2188.8V688.5H2190.2V684.4H2191.6V684.1H2193V693.1H2194.4V685.5H2195.8V684H2197.2V685.7H2198.6V671.6H2200V685.9H2201.4V685.7H2202.8V687.3H2204.2V686.7H2205.6V688.1H2207V687.5H2208.4V689.4H2209.8V689.7H2211.2V690.7H2212.6V690.2H2214V692.1H2215.4V693.2H2216.8V695.2H2218.2V694.7H2219.6V694.3H2221V695.5H2222.4V696.8H2223.8V698.2H2225.2V696.6H2226.6V695.2H2228V692H2229.4V692.9H2230.8V694H2232.2V693H2233.6V692H2235V692.9H2236.4V693.8H2237.8V684.1H2239.2V693.6H2240.6V692.8H2242V693.5H2243.4V694.9H2244.8V699H2246.2V698.7H2247.6V698.8H2249V700.6H2250.4V699.2H2251.8V690.2H2253.2V703.5H2254.6V706H2256V704.2H2257.4V706H2258.8V704.2H2260.2V690.2H2261.6V702H2263V704.4H2264.4V704.3H2265.8V704.3H2267.2V702.6H2268.6V703.9H2270V703.6H2271.4V706H2272.8V704.6H2274.2V706H2275.6V703.4H2277V703.8H2278.4V703.3H2279.8V702.6H2281.2V701.6H2282.6V700.3H2284V699.2H2285.4V699.5H2286.8V689.2H2288.2V702.3H2289.6V703.1H2291V706.7H2292.4V709.1H2293.8V707.1H2295.2V707.6H2296.6V708H2298V706.8H2299.4V707.8H2300.8V708.4H2302.2V710.4H2303.6V710.2H2305V708.3H2306.4V706.1H2307.8V704.9H2309.2V704.7H2310.6V704.6H2312V704.7H2313.4V703.5H2314.8V700.5H2316.2V700.4H2317.6V700.2H2319V699.9H2320.4V702.1H2321.8V702.7H2323.2V701.6H2324.6V702.4H2326V703.7H2327.4V703.7H2328.8V704.9H2330.2V705.2H2331.6V706H2333V707.8H2334.4V704.2H2335.8V704.3H2337.2V705.1H2338.6V702.4H2340V702.1H2341.4V702.6H2342.8V703H2344.2V699.9H2345.6V702.4H2347V697.8H2348.4V699.4H2349.8V698.2H2351.2V697.7H2352.6V684H2354V708.3H2355.4V699.4H2356.8V700.2H2358.2V700.4H2359.6V701.8H2361V702.1H2362.4V697.4H2363.8V702.5H2365.2V701H2366.6V702.1H2368V703.8H2369.4V703.8H2370.8V706.4H2372.2V706.6H2373.6V707.2H2375V706.1H2376.4V714H2377.8V709.2H2379.2V707.3H2380.6V709.2H2382V708.1H2383.4V708.9H2384.8V710H2386.2V710.1H2387.6V709.7H2389V709.9H2390.4V708.3H2391.8V721.1H2393.2V709.4H2394.6V710.9H2396V711.4H2397.4V709.7H2398.8V707.9H2400.2V707.3H2401.6V705.8H2403V703.6H2404.4V705.3H2405.8V706.5H2407.2V709H2408.6V711.2H2410V711.7H2411.4V712.1H2412.8V712.7H2414.2V711.5H2415.6V709.8H2417V701.7H2418.4V708H2419.8V706.6H2421.2V707.6H2422.6V707.8H2424V706.1H2425.4V707.2H2426.8V706.5H2428.2V706.6H2429.6V705.2H2431V703.3H2432.4V704.8H2433.8V709.6H2435.2V706.4H2436.6V708.1H2438V708.4H2439.4V709.7H2440.8V694H2442.2V709.9H2443.6V722.4H2445V712.8H2446.4V715.1H2447.8V708.5H2449.2V708.1H2450.6V708.1H2452V712.8H2453.4V711.9H2454.8V712.8H2456.2V713.6H2457.6V712.4H2459V712.4H2460.4V712.8H2461.8V713.2H2463.2V715.3H2464.6V717.4H2466V713.2H2467.4V700.4H2468.8V711.5H2470.2V709.4H2471.6V708H2473V708.7H2474.4V710.2H2475.8V708.7H2477.2V706.5H2478.6V693.1H2480V708.3H2481.4V709H2482.8V707.6H2484.2V708H2485.6V707.5H2487V707.2H2488.4V700.3H2489.8V701.5H2491.2V703H2492.6V708.6H2494V692.3H2495.4V704.9H2496.8V701.7H2498.2V720.5H2499.6V712.5H2501V714H2502.4V713.6H2503.8V719.2H2505.2V716.8H2506.6V719.8H2508V719.6H2509.4V719.7H2510.8V722H2512.2V723.8H2513.6V727.1H2515V729.1H2516.4V726.8H2517.8V730.4H2519.2V728.8H2520.6V731.4H2522V730.3H2523.4V732.4H2524.8V734.4H2526.2V735.5H2527.6V736.1H2529V737.7H2530.4V741H2531.8V749.5H2533.2V741.7H2534.6V742.4H2536V741.5H2537.4V740.2H2538.8V743.6H2540.2V743.9H2541.6V742.7H2543V742H2544.4V745.1H2545.8V742.2H2547.2V744.8H2548.6V743.8H2550V742.8H2551.4V746.2H2552.8V748.7H2554.2V747.2H2555.6V749H2557V750H2558.4V750.5H2559.8V750H2561.2V750.5H2562.6V749.8H2564V742.7H2565.4V746.3H2566.8V750.9H2568V770.5H2566.8V772.4H2565.4V773.2H2564V771H2562.6V770.4H2561.2V772.2H2559.8V786.6H2558.4V772.6H2557V776.2H2555.6V781.2H2554.2V781.4H2552.8V783.6H2551.4V784.2H2550V782.7H2548.6V778.9H2547.2V785.7H2545.8V783.5H2544.4V783.7H2543V782.3H2541.6V782.9H2540.2V783.5H2538.8V789.2H2537.4V782H2536V784.6H2534.6V785.2H2533.2V786.7H2531.8V788.1H2530.4V784.9H2529V783.2H2527.6V781.1H2526.2V773.9H2524.8V778.5H2523.4V780.2H2522V777.5H2520.6V779.3H2519.2V779.1H2517.8V776.8H2516.4V775.4H2515V774.6H2513.6V775.8H2512.2V773.7H2510.8V782.9H2509.4V775.9H2508V765.4H2506.6V766.9H2505.2V763.2H2503.8V765H2502.4V767.4H2501V766.1H2499.6V764.7H2498.2V753.6H2496.8V760H2495.4V760H2494V759.8H2492.6V776.8H2491.2V760.5H2489.8V759.7H2488.4V762.3H2487V765H2485.6V766.7H2484.2V768.8H2482.8V766.9H2481.4V759.1H2480V763.9H2478.6V762.6H2477.2V763.6H2475.8V765.2H2474.4V762.9H2473V762.5H2471.6V758.4H2470.2V759H2468.8V763.1H2467.4V766.4H2466V769.3H2464.6V775.6H2463.2V768.9H2461.8V764.4H2460.4V772.4H2459V768.5H2457.6V771.6H2456.2V772.4H2454.8V774.3H2453.4V771.9H2452V771.9H2450.6V771.8H2449.2V772.4H2447.8V774H2446.4V762.8H2445V769.8H2443.6V767.5H2442.2V768.7H2440.8V770.7H2439.4V769.1H2438V770.1H2436.6V768.9H2435.2V781.7H2433.8V774.7H2432.4V766.6H2431V766.6H2429.6V766.6H2428.2V766.3H2426.8V763.9H2425.4V764H2424V765.3H2422.6V763.7H2421.2V765.8H2419.8V765.3H2418.4V767.1H2417V768.2H2415.6V765.7H2414.2V769.9H2412.8V770.4H2411.4V769.2H2410V766.8H2408.6V770.2H2407.2V768.8H2405.8V771.6H2404.4V769.9H2403V766.3H2401.6V771.7H2400.2V764.3H2398.8V768.8H2397.4V768.8H2396V762.3H2394.6V767.9H2393.2V758.4H2391.8V763.9H2390.4V762.8H2389V762.4H2387.6V779.1H2386.2V763.6H2384.8V760.6H2383.4V763.1H2382V761.3H2380.6V759.3H2379.2V755H2377.8V767.4H2376.4V768.5H2375V769.9H2373.6V782.1H2372.2V774.2H2370.8V775.4H2369.4V775.9H2368V775.4H2366.6V773.1H2365.2V774.7H2363.8V777.2H2362.4V774.1H2361V774.3H2359.6V774.9H2358.2V767.7H2356.8V774.9H2355.4V775.1H2354V774.7H2352.6V774.5H2351.2V773H2349.8V774.2H2348.4V772.4H2347V771.9H2345.6V774.4H2344.2V772.9H2342.8V777.4H2341.4V773H2340V772.7H2338.6V774.2H2337.2V774.7H2335.8V776H2334.4V774.3H2333V776.1H2331.6V776.5H2330.2V776.2H2328.8V769.9H2327.4V783.5H2326V776.3H2324.6V778.7H2323.2V779.3H2321.8V783.1H2320.4V781.1H2319V780H2317.6V780.8H2316.2V779.5H2314.8V780.7H2313.4V778.4H2312V782.1H2310.6V784.6H2309.2V783.8H2307.8V782.6H2306.4V782.5H2305V781.8H2303.6V784H2302.2V784.5H2300.8V782.7H2299.4V782.3H2298V790.9H2296.6V776.7H2295.2V776.6H2293.8V778.9H2292.4V779.2H2291V783H2289.6V781.1H2288.2V781.8H2286.8V782.5H2285.4V781H2284V783.3H2282.6V779.6H2281.2V781.4H2279.8V777.7H2278.4V776.9H2277V776.5H2275.6V775.6H2274.2V778.4H2272.8V777.2H2271.4V778.3H2270V776.6H2268.6V774.9H2267.2V774.5H2265.8V776.1H2264.4V774H2263V775.1H2261.6V765.2H2260.2V771.2H2258.8V771.5H2257.4V769.8H2256V768.9H2254.6V767.5H2253.2V763.6H2251.8V765.3H2250.4V765.8H2249V766.1H2247.6V764.6H2246.2V764.7H2244.8V777.4H2243.4V766.1H2242V772.7H2240.6V767.4H2239.2V764.2H2237.8V765.3H2236.4V766.5H2235V771.9H2233.6V761.3H2232.2V759.5H2230.8V761H2229.4V755.1H2228V763.9H2226.6V763.7H2225.2V762.9H2223.8V763.1H2222.4V764.2H2221V770.3H2219.6V763.3H2218.2V763.2H2216.8V760.1H2215.4V768.7H2214V757H2212.6V758.4H2211.2V755.4H2209.8V763.4H2208.4V777.1H2207V759.1H2205.6V756.8H2204.2V756H2202.8V757.1H2201.4V756.6H2200V758.8H2198.6V758.8H2197.2V756.3H2195.8V754.2H2194.4V763.6H2193V751.9H2191.6V755.1H2190.2V752.4H2188.8V753.3H2187.4V752H2186V751H2184.6V751H2183.2V749H2181.8V750.1H2180.4V749.4H2179V747.7H2177.6V750.5H2176.2V747.2H2174.8V746.9H2173.4V750.3H2172V749.8H2170.6V756.3H2169.2V749.5H2167.8V750.5H2166.4V744.8H2165V751.6H2163.6V752H2162.2V751.9H2160.8V755.4H2159.4V752.6H2158V750.8H2156.6V752.3H2155.2V751.4H2153.8V751.3H2152.4V752H2151V751.1H2149.6V753.3H2148.2V754.3H2146.8V755H2145.4V757.4H2144V763.3H2142.6V756.9H2141.2V754.8H2139.8V755.1H2138.4V752.4H2137V754.9H2135.6V752.8H2134.2V754.2H2132.8V754.3H2131.4V757.9H2130V769.3H2128.6V756.5H2127.2V755.8H2125.8V756.4H2124.4V756.2H2123V753.8H2121.6V751.9H2120.2V751.1H2118.8V755H2117.4V753.5H2116V751.5H2114.6V749.3H2113.2V749H2111.8V749.8H2110.4V749.3H2109V749.3H2107.6V751.1H2106.2V766.3H2104.8V764.2H2103.4V753.6H2102V748.9H2100.6V748.8H2099.2V751.3H2097.8V748.9H2096.4V747.4H2095V745.4H2093.6V746.7H2092.2V744.1H2090.8V744.4H2089.4V751.3H2088V745.3H2086.6V745.2H2085.2V737H2083.8V743.1H2082.4V746.9H2081V744.2H2079.6V744.2H2078.2V747.3H2076.8V745.3H2075.4V744.3H2074V745.9H2072.6V745.8H2071.2V745.6H2069.8V745.5H2068.4V742.9H2067V740.3H2065.6V756.8H2064.2V743.1H2062.8V741.6H2061.4V743H2060V744.5H2058.6V744.2H2057.2V747.5H2055.8V747.3H2054.4V748.8H2053V757.4H2051.6V741.6H2050.2V743.9H2048.8V738.3H2047.4V739.5H2046V739.7H2044.6V742.8H2043.2V745.7H2041.8V745.3H2040.4V748.2H2039V758.5H2037.6V747.8H2036.2V746.4H2034.8V746.5H2033.4V747.2H2032V748.7H2030.6V749.9H2029.2V748.1H2027.8V752.6H2026.4V749.4H2025V750.3H2023.6V743.7H2022.2V752.4H2020.8V752.1H2019.4V753.8H2018V756.4H2016.6V756.6H2015.2V756.7H2013.8V760.1H2012.4V763.9H2011V764.5H2009.6V767H2008.2V767H2006.8V768.4H2005.4V768.9H2004V779.6H2002.6V790H2001.2V798.1H1999.8V796.3H1998.4V795.7H1997V800.1H1995.6V801.2H1994.2V798.1H1992.8V799.9H1991.4V812.6H1990V801.8H1988.6V803.1H1987.2V800.3H1985.8V805.7H1984.4V801.4H1983V801.1H1981.6V799.9H1980.2V796.8H1978.8V799.2H1977.4V794.4H1976V802.6H1974.6V802.1H1973.2V802H1971.8V806.9H1970.4V807.9H1969V806.4H1967.6V809H1966.2V809H1964.8V805.8H1963.4V807.6H1962V806.2H1960.6V805.3H1959.2V815.9H1957.8V806.2H1956.4V808.2H1955V815H1953.6V804.9H1952.2V806.6H1950.8V806.3H1949.4V807.8H1948V807H1946.6V821.1H1945.2V804.7H1943.8V809.8H1942.4V801.1H1941V802.4H1939.6V813H1938.2V803.4H1936.8V804H1935.4V803H1934V801.5H1932.6V812.6H1931.2V796.3H1929.8V803.2H1928.4V803.7H1927V814.3H1925.6V800H1924.2V795.8H1922.8V785.9H1921.4V781.5H1920V774.1H1918.6V765.1H1917.2V758.8H1915.8V750.5H1914.4V745.9H1913V745.5H1911.6V739.1H1910.2V746.2H1908.8V741.1H1907.4V738.8H1906V737.3H1904.6V735.5H1903.2V732.7H1901.8V733.3H1900.4V732.5H1899V730.5H1897.6V729.9H1896.2V729.1H1894.8V731H1893.4V728.4H1892V726.3H1890.6V724.9H1889.2V732.1H1887.8V718.5H1886.4V714.7H1885V718.4H1883.6V721.8H1882.2V714.4H1880.8V721H1879.4V720.2H1878V720.7H1876.6V719.6H1875.2V717.5H1873.8V714.4H1872.4V715.1H1871V711.4H1869.6V707.3H1868.2V712.7H1866.8V711.6H1865.4V700H1864V709.1H1862.6V708H1861.2V710.7H1859.8V711.6H1858.4V711.2H1857V714.6H1855.6V712.3H1854.2V716H1852.8V715.5H1851.4V713.7H1850V712.3H1848.6V712.9H1847.2V714.4H1845.8V713.9H1844.4V717.8H1843V720.3H1841.6V742.1H1840.2V730.8H1838.8V725.2H1837.4V726H1836V731H1834.6V732.2H1833.2V732.5H1831.8V733.6H1830.4V734.3H1829V732.4H1827.6V731H1826.2V731.7H1824.8V732.8H1823.4V732.7H1822V733.6H1820.6V744.7H1819.2V725.9H1817.8V733.3H1816.4V735H1815V731.6H1813.6V736.1H1812.2V734.2H1810.8V734.6H1809.4V735.7H1808V739.5H1806.6V736.3H1805.2V736.8H1803.8V734H1802.4V737.4H1801V735.6H1799.6V736.4H1798.2V734.8H1796.8V734.9H1795.4V734.9H1794V734.9H1792.6V736H1791.2V735.6H1789.8V735.4H1788.4V734.4H1787V737.1H1785.6V728.3H1784.2V737.2H1782.8V739.5H1781.4V739.3H1780V738.1H1778.6V736.9H1777.2V735.2H1775.8V734.6H1774.4V734H1773V741.2H1771.6V725.4H1770.2V738.7H1768.8V735H1767.4V731.6H1766V733.2H1764.6V731.5H1763.2V741.7H1761.8V730.4H1760.4V746.7H1759V727.4H1757.6V727H1756.2V730.4H1754.8V730.6H1753.4V732.2H1752V732.3H1750.6V734.3H1749.2V730.5H1747.8V737.8H1746.4V730.9H1745V730.3H1743.6V725.1H1742.2V726.5H1740.8V723.9H1739.4V723.5H1738V728.2H1736.6V736.1H1735.2V726.2H1733.8V728.6H1732.4V726.4H1731V731.7H1729.6V730.3H1728.2V727.5H1726.8V725.5H1725.4V727.6H1724V726.4H1722.6V730.8H1721.2V730.3H1719.8V731.1H1718.4V730H1717V729.4H1715.6V728.9H1714.2V730.1H1712.8V719.5H1711.4V718.3H1710V724.7H1708.6V725.5H1707.2V726.2H1705.8V725.4H1704.4V722.8H1703V722.3H1701.6V723.8H1700.2V723.6H1698.8V721.2H1697.4V725.3H1696V723.6H1694.6V720.7H1693.2V722.4H1691.8V731.4H1690.4V719.9H1689V718.7H1687.6V717.2H1686.2V716.1H1684.8V715.5H1683.4V713.8H1682V713.6H1680.6V712.9H1679.2V711.7H1677.8V707.7H1676.4V708.4H1675V709.5H1673.6V708.5H1672.2V707.3H1670.8V708.7H1669.4V712H1668V719.2H1666.6V709.9H1665.2V710.3H1663.8V709.4H1662.4V708.7H1661V708.9H1659.6V710.4H1658.2V709.9H1656.8V710.7H1655.4V708.1H1654V712.1H1652.6V708.9H1651.2V701.6H1649.8V700.2H1648.4V700.5H1647V696.8H1645.6V696.9H1644.2V693.6H1642.8V694.4H1641.4V692H1640V678.8H1638.6V685.9H1637.2V682.3H1635.8V685.2H1634.4V682.6H1633V682H1631.6V681.8H1630.2V686.1H1628.8V685.2H1627.4V681.3H1626V679.5H1624.6V677.8H1623.2V673.3H1621.8V673.9H1620.4V670.6H1619V664.6H1617.6V662.7H1616.2V659.3H1614.8V655.5H1613.4V644H1612Z" fill="#00ffff"/><path d="M277.2 862L282.4 858.3L284.8 856.9L288.4 857.3L289.8 854.5L295.2 855.1L298.1 853.2L300.6 856.5L303.4 858.4L309 856.8L309.8 859.5L313.5 862.1L312.3 865.4L312.6 867.9L313.9 872.2L313.2 874.9L313.2 879.1L313.4 881.2L315.1 886.3L314.5 888.7L314.1 888L310.1 883.7L309.6 882.9L307.9 880.1L302.9 883.2L299.8 880.3L300 878.5L297.3 875.2L293.9 876.5L294.3 879.3L290.5 876.6L290.1 873.9L287.6 876L286.4 879.9L284.9 881.6L280.9 876.6L278.7 875.5L280.7 872.1L278 867.7L278.3 866.3Z" fill="#ffffff"/><path d="M310.5 879.4h1.3v6.6h-1.3ZM306.6 876.8h1.5v12.7h-1.5ZM299 875.3h1.4v11.8h-1.4ZM293.2 872.7h2.2v13.2h-2.2ZM310.3 874.5h1.5v10.4h-1.5ZM280.2 868.3h1.5v10.6h-1.5ZM291.5 878.7h1.8v11.3h-1.8ZM286.8 868.3h1.3v9.3h-1.3ZM295.8 880h1.4v12.7h-1.4ZM308.5 877.6h2.1v13.3h-2.1ZM304.2 877.5h2.2v9.5h-2.2ZM310.7 869.9h1.9v13.5h-1.9ZM294.2 874.4h2.1v10.9h-2.1ZM295.5 878h2.1v9.5h-2.1Z" fill="#00ffff"/><path d="M352.5 893.1L357.7 892.2L362.3 894.1L360 900.7L357.5 899.5L356 899.9L354.7 896.5Z" fill="#00ffff"/><path d="M544.9 793.7h1.4v16.7h-1.4ZM534.9 813.1h2.5v28.2h-2.5ZM576.1 801.4h1.6v19.8h-1.6ZM541.2 793.9h2.7v12.7h-2.7ZM579.9 839.4h1.5v25.6h-1.5ZM549.3 827.8h2.6v24.1h-2.6ZM582.9 792.6h2.3v21.3h-2.3ZM560.9 798.6h1.3v18.4h-1.3ZM586.1 843.3h1.7v20h-1.7ZM584.6 824.2h2.6v27.4h-2.6ZM561 813.9h1.9v21.2h-1.9ZM540.5 806.8h1.3v25.9h-1.3ZM533.7 827.7h2.1v14.2h-2.1ZM558.8 809.3h1.5v29.9h-1.5ZM555.4 800.2h1.6v21.9h-1.6ZM552 835.6h2.1v15.1h-2.1ZM584.4 793.6h1.6v9.4h-1.6ZM576.1 827h1.7v13.2h-1.7ZM541.5 816.8h2.3v8.9h-2.3ZM583.9 849.1h2.7v24.2h-2.7ZM532.1 805.8h2.4v29.3h-2.4ZM555.2 848.3h2.5v21.7h-2.5ZM548.3 799.4h1.4v17.8h-1.4ZM553.5 849.5h1.2v15.3h-1.2ZM533.6 798h1.8v25.2h-1.8ZM548.1 793.3h1.9v29.6h-1.9ZM543.3 790.9h1.5v9.2h-1.5ZM570.9 796.7h2v8.9h-2ZM545.7 851.8h2v10.7h-2ZM576.7 813.6h2v29.7h-2ZM545.3 813.7h1.9v8.8h-1.9ZM545.7 844.8h2v26.3h-2ZM532.9 803.5h1.5v13.3h-1.5ZM544.7 843.5h1.3v11.1h-1.3ZM585.8 823.7h1.8v29.8h-1.8ZM584.2 829.5h2.4v25.4h-2.4ZM560.2 793h2.6v12.6h-2.6ZM584.1 847.1h2.3v15.4h-2.3ZM578.2 828.8h2v25.9h-2ZM569.6 831.6h2.7v13.9h-2.7ZM587.4 791.8h2.7v29.4h-2.7ZM570.4 789.9h1.4v27.8h-1.4ZM588.1 830.4h1.5v9.3h-1.5ZM568.5 824h2.7v24.4h-2.7ZM543.9 787.2h1.2v28.3h-1.2ZM582.7 794.5h2.5v25.8h-2.5ZM582.8 822.8h1.5v27.3h-1.5ZM570.6 808.5h2.4v27.6h-2.4ZM558.8 821.2h1.3v8.6h-1.3ZM566.1 818.8h2.2v27h-2.2ZM539.2 810.6h2v24.9h-2ZM531.6 841.4h1.3v26.2h-1.3ZM563.1 811.8h1.7v25.3h-1.7ZM544.8 818.6h1.4v29.3h-1.4ZM537.8 827.4h2v27.5h-2ZM556.6 842.8h1.3v25.1h-1.3ZM583 799.7h2.5v14.7h-2.5ZM555.9 838.9h2.6v11.7h-2.6ZM541.4 796.7h1.7v18.9h-1.7ZM563 845.8h1.2v23.6h-1.2ZM549.4 822.4h2.3v18.7h-2.3ZM559.6 791.9h2.6v13.4h-2.6ZM552.1 836.8h2.2v29.7h-2.2ZM570.9 826.6h2.7v14.9h-2.7ZM558.6 846.2h2.6v14.7h-2.6ZM577.4 826.8h1.4v17.7h-1.4ZM576.5 810.5h1.4v22.6h-1.4ZM535.9 796.4h1.5v25.8h-1.5ZM584.2 811.2h1.8v20.7h-1.8ZM567.6 793.1h2.7v16.9h-2.7ZM541.6 829.5h1.7v15.2h-1.7ZM532.4 788.3h2.5v28.9h-2.5ZM578.3 839.5h1.5v29h-1.5ZM565.5 819.2h2.7v20.6h-2.7ZM575.9 850h2.2v10.6h-2.2ZM570.8 835.4h2.5v21.6h-2.5ZM548.9 847.3h2.2v16.9h-2.2ZM583.9 832.7h1.6v14.8h-1.6ZM550.3 827.7h2.6v29.9h-2.6ZM554.6 813h1.7v26h-1.7ZM555.3 787.9h2.1v12h-2.1ZM571.9 827h2.7v16h-2.7ZM567.8 797.1h2.8v9.5h-2.8ZM589.3 846.8h1.7v21.3h-1.7ZM536.4 803.8h2.7v12.9h-2.7ZM583.7 837.6h1.6v11.3h-1.6ZM548.7 848.6h2.5v11.6h-2.5ZM571.2 822.6h1.6v29.1h-1.6ZM561.9 797.2h1.3v10.1h-1.3ZM549.7 794.9h2.8v9.3h-2.8ZM548.1 844.9h2.4v23.4h-2.4ZM569.7 848.9h2.4v27.3h-2.4ZM564 832.1h2.1v23.9h-2.1ZM560.7 797h2v26.6h-2ZM535 797.9h1.6v27.2h-1.6ZM554.1 831.3h1.7v27h-1.7ZM553.8 814.5h2.6v8.6h-2.6ZM532.1 849.4h1.5v11.4h-1.5ZM581.1 840.5h2.1v13.1h-2.1ZM559.1 833.7h2.5v12.1h-2.5ZM589.8 832.9h2.7v28.3h-2.7ZM553.4 842.1h2.1v26.3h-2.1ZM537.3 827.3h1.7v28.1h-1.7ZM569.2 845.3h1.3v21.2h-1.3ZM568.3 803.6h2.3v26.9h-2.3ZM549.1 845.2h1.7v21.8h-1.7ZM580.2 845h2.6v27.7h-2.6ZM569.8 832.4h2v21.3h-2ZM589.3 809.9h2.3v9.8h-2.3ZM560.4 822.5h1.6v21.2h-1.6ZM542.9 791.6h2.7v25.2h-2.7ZM572.1 794.6h2.5v29.5h-2.5ZM561 787.1h2.2v26.6h-2.2ZM567.7 788.2h1.3v24.1h-1.3ZM559.2 796.4h2.6v15.9h-2.6ZM575.2 840h1.8v14.6h-1.8ZM566.7 789.2h2.8v17.1h-2.8ZM575.5 843.1h2.3v14.6h-2.3ZM577.5 832.8h1.5v17.6h-1.5ZM532.1 844.7h1.6v28.5h-1.6ZM575.6 813.5h2.5v21.8h-2.5ZM550 827.3h2v13.6h-2ZM532.8 804.1h2.7v14.3h-2.7ZM538.8 836.3h2.8v9.9h-2.8ZM540.8 793h2.7v12.7h-2.7ZM570.5 844.9h1.4v19h-1.4ZM551.1 816.6h1.5v29.8h-1.5ZM545.4 841.8h2.8v10.5h-2.8ZM548.5 823.9h2.7v22.5h-2.7ZM535.5 842h2.3v11.9h-2.3ZM532.6 836.8h1.5v12h-1.5ZM533.1 808.1h2.8v15.2h-2.8ZM566.8 810.7h1.5v29.8h-1.5ZM543.7 849.1h2.3v28.9h-2.3ZM588.7 790.7h2.3v27.9h-2.3ZM570.4 841.8h1.5v10.3h-1.5ZM539.1 818.1h2.1v20h-2.1ZM552.4 835.3h2.4v26.4h-2.4ZM533.2 796.9h1.6v12.8h-1.6ZM564.9 799.6h1.8v21.7h-1.8ZM552.5 833h1.5v28.8h-1.5ZM551.5 850.8h1.2v12.7h-1.2ZM542.3 840.7h2.7v24.1h-2.7ZM560.3 789.7h2.4v14.7h-2.4ZM554.2 796.1h1.9v16.3h-1.9ZM552 816h1.2v11h-1.2ZM577.2 834.6h1.4v17.2h-1.4ZM548.4 823.3h2v27.7h-2ZM588.5 821.3h2.2v12h-2.2ZM566.4 825.9h1.2v23.9h-1.2Z" fill="#00ffff"/><path d="M571.7 838.4h3.9v22.7h-3.9ZM576.1 846.5h2.9v10.5h-2.9ZM583.8 834.2h2.2v24.4h-2.2ZM565.8 816.1h3.1v18.7h-3.1ZM548.5 814.8h3.8v14.5h-3.8ZM577.1 812.2h2.3v22.8h-2.3ZM571.5 810.7h3.7v10h-3.7ZM556 814.7h3.7v25.7h-3.7ZM559 848.3h3.4v18.6h-3.4ZM555.8 847.3h3.9v21.1h-3.9ZM582 818.4h2.3v15.8h-2.3ZM553.5 807.9h3.2v14.8h-3.2ZM548.1 835.5h2.6v15.4h-2.6ZM579.1 826.6h3v15.1h-3ZM574.8 807.6h2v25.6h-2ZM576.5 843h3.6v10.3h-3.6ZM561.9 831h2.1v10.1h-2.1ZM554.9 848h3.5v13.1h-3.5ZM583.3 847.4h2.7v15.5h-2.7ZM567.9 839.9h3.5v11.7h-3.5ZM578.3 843.7h3.9v10.6h-3.9ZM551.5 820.3h3.8v19.8h-3.8Z" fill="#00ffff"/><path d="M520.7 886.6h2.3v8.3h-2.3ZM520 888.4h1.8v19h-1.8ZM558.3 895.1h2.1v13.7h-2.1ZM538.5 881.3h1.8v20h-1.8ZM559.2 899.5h1.6v6.4h-1.6ZM532.8 898.1h2.1v8.5h-2.1ZM527.1 897.1h2.3v19h-2.3ZM518.1 896.1h2.4v12.1h-2.4ZM532.4 901.5h2.4v19.8h-2.4ZM551 898.3h1.4v14.3h-1.4ZM559.3 885.2h1.8v6.2h-1.8ZM529.6 875.4h1.4v19.4h-1.4ZM555 888.3h1.7v8.5h-1.7ZM531.4 872.4h2.1v16.7h-2.1ZM559.1 898.7h2.6v17h-2.6ZM556.5 891.8h1.9v13.5h-1.9ZM550.3 902.2h2.4v17.6h-2.4ZM509.4 883.6h2v7.2h-2ZM538.2 888.7h1.5v18h-1.5ZM545.9 889.7h2.6v9h-2.6ZM510.8 885.2h2v13.5h-2ZM559.1 888.4h1.6v18.4h-1.6ZM533 873.4h1.8v15h-1.8ZM548.8 872.2h2.5v12.5h-2.5ZM508.6 892.4h2.2v15.5h-2.2ZM537 886.5h1.6v19.4h-1.6ZM544.6 892.7h1.9v16.2h-1.9ZM508.9 896.7h2.3v9.9h-2.3ZM559.3 896.7h2.4v11.6h-2.4ZM528.1 879.8h2.1v14h-2.1Z" fill="#00ffff"/><path d="M519.1 793.9h1.5v14.8h-1.5ZM508 788.5h2.1v14.6h-2.1ZM513.2 792.2h2.2v11.8h-2.2ZM518.2 780.1h2v15.5h-2ZM510.7 784.8h1.5v19.3h-1.5ZM519.2 789.3h1.6v19.8h-1.6ZM509.3 793.2h1.7v19.3h-1.7ZM509.3 772.7h1.5v16.9h-1.5ZM521.3 786h2v10.8h-2ZM513 797.7h1.8v20.7h-1.8ZM517 789.7h2.4v19.3h-2.4ZM508.4 778.3h1.6v16.4h-1.6ZM516.2 769h1.8v20.3h-1.8ZM509.6 788.5h1.4v12.4h-1.4Z" fill="#00ffff"/><path d="M603.5 805.9h1.3v12.5h-1.3ZM607.1 809.9h1.8v6.6h-1.8ZM598.6 811.2h1.3v6.7h-1.3ZM605.2 818.7h1.5v7.2h-1.5ZM608.7 821h1.7v11.8h-1.7ZM614.6 803.9h1.5v14.6h-1.5ZM600.5 805.2h2.2v9.1h-2.2ZM601.1 814.1h1.6v12.4h-1.6ZM607.3 804.2h1.4v6.6h-1.4Z" fill="#00ffff"/><path d="M600.5 763.8h1.5v6.5h-1.5ZM600.2 761h1.3v10h-1.3Z" fill="#00ffff"/><path d="M510.4 912.5h2.4v8.2h-2.4ZM478.5 915.1h1.3v20.4h-1.3ZM516.8 917.3h1.7v6.7h-1.7ZM527.2 914h1.4v17.6h-1.4ZM494.7 907.2h2.5v14.1h-2.5ZM519.3 920.5h2.2v12.1h-2.2ZM485.1 910.8h2.2v16.8h-2.2ZM507.5 906.8h1.5v10.3h-1.5ZM497.7 921.2h2.4v9.2h-2.4ZM539.6 906.1h1.9v12.1h-1.9ZM479.6 913.5h1.4v20.5h-1.4ZM519.8 907.4h2.5v15.3h-2.5ZM492.2 905.2h2v7.3h-2ZM479.2 906.7h2.5v13.9h-2.5ZM507.4 913h1.3v16.2h-1.3ZM518.6 908.5h2.5v15.7h-2.5ZM481.8 916.1h1.4v15.7h-1.4ZM496.8 924.9h1.4v22h-1.4ZM527.4 924h2.1v9.8h-2.1ZM481 912.3h2v16.8h-2ZM532.2 906.7h2.4v11.6h-2.4ZM518.9 914h2.6v12.4h-2.6ZM518.2 905.4h1.7v18.8h-1.7ZM508.4 909.3h1.7v13.1h-1.7ZM484.2 917.6h2.3v7.6h-2.3ZM479.8 920.6h1.9v18.9h-1.9ZM527.7 910h1.8v17.8h-1.8ZM494.2 924.3h1.7v12.4h-1.7ZM538.2 912.4h1.4v16.7h-1.4ZM537 910.2h2.6v6.8h-2.6ZM490.1 923.9h2v21.8h-2ZM478.8 906.2h1.7v9.3h-1.7ZM520.8 924.3h1.4v11.7h-1.4ZM517.3 907.7h2v7.4h-2ZM526.7 906.3h2.2v13.2h-2.2ZM531.5 912.7h1.4v20.2h-1.4ZM528.1 920.4h1.9v20.1h-1.9ZM484.9 906h1.4v14.5h-1.4ZM522.1 906.7h1.5v18.5h-1.5ZM478.9 908.5h2v13.3h-2Z" fill="#00ffff"/><path d="M514.9 880.9h1.8v14.9h-1.8ZM517.8 887.2h1.7v15.8h-1.7ZM514.2 879.2h2.9v11h-2.9ZM520 874.7h2.4v18.3h-2.4ZM512.6 878.5h2.2v16.1h-2.2ZM516.2 884.6h2.7v9.6h-2.7ZM519.8 889.5h1.6v15.4h-1.6ZM508 876.1h2v19.3h-2ZM512.4 888.4h2.3v11.8h-2.3ZM513.2 875h2.8v15h-2.8ZM509.9 877.6h1.6v13h-1.6ZM514 887.1h2.3v15.9h-2.3ZM518.3 876.4h2.1v14.8h-2.1ZM515.2 875.8h1.6v17.3h-1.6ZM510 886.9h2.1v19.4h-2.1ZM513 877.9h2.4v11.3h-2.4ZM510.1 875.9h1.7v13.5h-1.7ZM515.8 887.1h2.2v17.3h-2.2Z" fill="#00ffff"/><path d="M493.1 926h2.2v5.7h-2.2ZM493.6 926.3h2.3v2.7h-2.3ZM494.7 928.1h2v2.4h-2ZM489.8 928.3h1.6v4.8h-1.6ZM497.8 929.7h2.4v4.6h-2.4ZM490.4 921.1h1.6v4.1h-1.6ZM490.7 923.2h2.2v2.1h-2.2ZM493 928.6h2.5v4.1h-2.5ZM493.5 927h1.9v3.8h-1.9ZM498 930h2.6v5.4h-2.6Z" fill="#d3d3d3"/><path d="M512.4 930.3h1.7v4h-1.7ZM510.1 928.9h2.7v2.8h-2.7ZM513.5 930h2.5v3.7h-2.5ZM510.7 929.2h2.9v2.5h-2.9ZM510.3 931.1h2.5v2.2h-2.5Z" fill="#d3d3d3"/><path d="M861.1 911.5h3.2v7.1h-3.2ZM860.2 891.9h2v3.9h-2ZM866.8 887.6h1.9v6.2h-1.9ZM861.5 900.6h2.7v8h-2.7ZM858.2 893.9h3.2v3.9h-3.2ZM867.7 916.7h3v8h-3ZM869.4 916.1h3.2v4.5h-3.2ZM863.8 914.5h2.4v6.4h-2.4ZM862.4 900.5h1.7v4.9h-1.7ZM867.8 916.3h2.9v8.9h-2.9ZM864.7 914.2h2.9v3.8h-2.9ZM863.3 889.6h2.5v4.2h-2.5ZM861 901.8h2.3v6.6h-2.3ZM859.6 903.1h2v4.4h-2ZM860.3 897.8h2.8v3.4h-2.8ZM869.4 898.8h3.4v7.3h-3.4ZM858.5 888.1h3.2v7.8h-3.2ZM865.7 888.9h3.2v5.5h-3.2ZM868.6 916.5h3.2v4.2h-3.2ZM862.5 912.8h3.4v3.8h-3.4ZM865.2 913.1h2.7v4.3h-2.7ZM865 907.4h3v5.2h-3Z" fill="#d3d3d3"/><path d="M2207.7 917.5h2.9v2.3h-2.9ZM2208.9 915.3h2.5v2.5h-2.5ZM2209.1 917.4h2.7v1.8h-2.7ZM2207.8 915.1h2v2.8h-2ZM2208.8 918h1.7v2.3h-1.7ZM2210.9 917.3h2.5v1.3h-2.5Z" fill="#d3d3d3"/><path d="M2892.7 882.1h1.7v4.2h-1.7ZM2892.9 882.2h2.5v4.6h-2.5ZM2891.7 892h2v2.7h-2ZM2890.4 884.8h1.8v2.8h-1.8ZM2891.7 890.7h1.8v4.4h-1.8ZM2892.3 887.1h2.2v2.7h-2.2Z" fill="#d3d3d3"/><path d="M2595.2 673.1L2597.7 675L2600 677.6L2601.8 679.4L2602.2 681.9L2604.4 684.9L2606.9 688.9L2608.2 694.5L2608.3 697.8L2611.8 700.5L2610.4 696.6L2613.5 692.8L2613.4 689.6L2614.7 687.8L2616.1 683.4L2618.2 681.9L2618.3 675.9L2621.6 675.4L2622.2 671.3L2621.6 667L2623 664.9L2625.7 666.8L2631.3 665.7L2632.8 670.2L2634.2 673.1L2635 675.9L2635.6 679L2636.8 679L2640.5 681L2644.1 682.6L2647.4 686.8L2643.4 688L2642.5 689.8L2638.6 690.7L2634.3 689.3L2630.8 691.7L2627.4 695.7L2627.2 696.4L2624.2 701.9L2622.1 702.3L2619.4 705.6L2615.6 707.7L2615.1 713.3L2612.2 713.6L2611.5 715.9L2610 715.2L2608.3 710.1L2605.8 707.5L2606.7 706.8L2605 701L2602.6 699.1L2600.7 695.2L2600.3 694.6L2598.2 691.8L2599.5 686.9L2596.8 682.6L2597.5 681.2L2597.4 675.7Z" fill="#00ffff"/><path d="M2622.5 693.8h1.5v13.6h-1.5ZM2634 690.5h1.3v11h-1.3ZM2599.3 680.3h1.5v11.7h-1.5ZM2621.6 678.2h2.1v12.6h-2.1ZM2616.9 700h2v5.6h-2ZM2639.1 672.8h1.8v11.4h-1.8ZM2642.9 674.7h2.1v9.9h-2.1ZM2628 677.9h2.1v5.7h-2.1ZM2620.3 699.9h2v6.3h-2ZM2636.2 697.4h1.6v5.2h-1.6ZM2600.4 692.1h2.2v8.2h-2.2ZM2615.6 692.8h1.4v12.8h-1.4ZM2624.2 698.6h1.6v9.7h-1.6ZM2610.6 693.2h1.8v6.7h-1.8ZM2624.1 685.7h1.9v6.2h-1.9ZM2641.1 678.2h2.1v8h-2.1ZM2625.2 676.7h2v5.1h-2ZM2614.4 682.9h1.8v7.5h-1.8ZM2632.3 677.9h2.2v5.7h-2.2ZM2640.8 668.7h1.9v10.1h-1.9ZM2616.9 691.4h1.8v13.6h-1.8ZM2616.4 674.3h1.4v7.3h-1.4Z" fill="#00ffff"/><path d="M2576.5 670.3L2581.7 668.5L2584 671.5L2586 673.9L2582.6 676.6L2579.3 674.7Z" fill="#00ffff"/><path d="M2577.4 761.6L2580.3 760.5L2583.3 761L2586.3 758.8L2589.5 758.5L2592.7 758.3L2595.2 758.3L2598.6 758.5L2601.4 757.3L2604.4 758.1L2603.8 762.5L2601.1 762.3L2596.2 763.5L2594 763.3L2590.3 763.6L2587.8 765.2L2584.6 765.9L2580.5 765.6L2578.5 766.6Z" fill="#00ffff"/><path d="M2612.6 756.3L2615.4 756.1L2617.6 755.2L2621.6 760.6L2618.1 759.5L2614.9 760.8Z" fill="#00ffff"/><path d="M2649 747.5l1.6 0l2.6 6.5l-1.6 0ZM2649.3 748.3l1.6 0l2.9 7.2l-1.6 0ZM2651 743.9l1.5 0l1.6 4l-1.5 0ZM2651.5 742.6l1.4 0l2.9 7.2l-1.4 0ZM2649.4 742.3l1.8 0l3.2 8l-1.8 0Z" fill="#00ffff"/><path d="M3027.9 811.3L3029 811L3032.4 807.2L3035.3 811.2L3037.8 814.5L3038.1 818L3037.6 822.7L3038 826L3038.2 827.7L3038.8 832.2L3035.6 834.4L3034.7 838.2L3033.2 835.9L3031.6 832.8L3029.4 830.2L3028.2 827.9L3028 824.6L3028.9 821.3L3027 818.7L3027.7 814.4Z" fill="#00ffff"/><path d="M2034 821.1h1.6v9.4h-1.6ZM2025 812.2h1.7v7.2h-1.7ZM2014.2 812.6h2.2v5.3h-2.2ZM2009.7 806.5h2.1v8.3h-2.1ZM2022.8 817.5h1.6v6.2h-1.6ZM2030.1 815h2.4v7.9h-2.4ZM2035.2 811.2h2.1v8.6h-2.1ZM2024.4 816.2h1.6v5.9h-1.6ZM2021.8 817.2h2.2v7.5h-2.2ZM2026.3 808.1h2v5.1h-2ZM2031 808.3h1.6v4.7h-1.6ZM2010.1 809.7h2.7v7.4h-2.7ZM2017.9 811.3h2v5.7h-2ZM2030 814.3h1.7v5.6h-1.7ZM2030.2 817h1.9v9h-1.9ZM2023.7 820.6h2.9v7.6h-2.9Z" fill="#00ffff"/><path d="M2012.5 812.8L2014.6 811.9L2017.9 809.7L2021 808.6L2024.2 809.5L2028.5 810.6L2030.9 811.9L2035.2 811.1L2034.7 816.4L2035.9 818.5L2035.5 823.1L2031.8 823.4L2030.4 822.8L2026 823.9L2023.3 824.9L2020.9 827L2016.2 825.6L2012.3 822.4L2010.4 822.7L2011.4 819.8L2012.2 814.8Z" fill="#00ffff"/><path d="M1626.3 596.6l1.7 0l4.2 8.4l-1.7 0ZM1629.2 595.2l2.5 0l2.6 5.2l-2.5 0ZM1625.5 593.5l2.1 0l3.3 6.7l-2.1 0ZM1624.7 595.4l2 0l4.2 8.3l-2 0Z" fill="#00ffff"/><path d="M1602.3 629.6L1605.6 628.1L1606 631.3L1607.3 633.5L1603.2 636L1602.7 633.5Z" fill="#00ffff"/><path d="M1598.2 656.8l1.7 0l4.1 6.9l-1.7 0ZM1595.3 657.3l1.9 0l3 5l-1.9 0ZM1599.1 654.7l2 0l4 6.7l-2 0Z" fill="#00ffff"/><path d="M1749.7 614.1l2.2 0l7.4 14.7l-2.2 0ZM1749.2 627.5l1.7 0l8.5 17l-1.7 0ZM1749.9 627.7l2 0l4.1 8.2l-2 0ZM1744.8 613.3l1.5 0l5.3 10.6l-1.5 0ZM1737 618.5l1.9 0l4.4 8.8l-1.9 0ZM1746.9 627.8l2.8 0l8.1 16.3l-2.8 0ZM1748.5 648l2.5 0l6.5 12.9l-2.5 0ZM1748.3 632.7l2.3 0l3.9 7.7l-2.3 0ZM1743.4 618.8l1.8 0l3.6 7.1l-1.8 0ZM1745.8 642.9l2.1 0l6.9 13.9l-2.1 0ZM1736.4 612.2l2.3 0l6.9 13.9l-2.3 0ZM1742.4 618.5l1.8 0l3.7 7.5l-1.8 0ZM1737.8 634.8l2.3 0l4.8 9.7l-2.3 0ZM1742 632.8l2.7 0l7.5 14.9l-2.7 0ZM1738.1 648.5l2.7 0l8.1 16.2l-2.7 0ZM1742.3 648.2l1.9 0l7.9 15.7l-1.9 0ZM1745.6 644.3l2.8 0l7.5 15l-2.8 0ZM1743.4 637.5l2.5 0l3.5 6.9l-2.5 0ZM1738 639.5l2.1 0l8.4 16.8l-2.1 0ZM1737 613.6l1.7 0l6.1 12.2l-1.7 0ZM1746.3 635.2l2.5 0l6 12l-2.5 0ZM1738.1 629.4l2.3 0l3.3 6.6l-2.3 0ZM1747.1 617.9l3 0l7.1 14.3l-3 0ZM1740.5 619.9l2.7 0l4.5 9l-2.7 0ZM1737.1 641.5l2.6 0l4.6 9.1l-2.6 0ZM1748.4 644.2l2.3 0l4.2 8.3l-2.3 0ZM1740.4 645.3l1.8 0l4.8 9.5l-1.8 0ZM1741.7 615.3l2.6 0l4.3 8.7l-2.6 0ZM1740.6 619l1.9 0l8.6 17.2l-1.9 0ZM1747.1 638l2.5 0l6.3 12.7l-2.5 0ZM1744.1 644l1.9 0l7.2 14.3l-1.9 0ZM1745.2 631.3l1.7 0l8.5 17.1l-1.7 0ZM1742.3 648.7l2.6 0l3.4 6.8l-2.6 0ZM1748.6 635.1l2.7 0l3.3 6.7l-2.7 0ZM1739.7 631.7l2 0l7.9 15.8l-2 0ZM1739.4 616.4l1.7 0l5.1 10.1l-1.7 0ZM1745.7 643.5l2.3 0l3.3 6.7l-2.3 0ZM1747.1 641.6l2.3 0l4.6 9.2l-2.3 0ZM1745.6 631.8l2.9 0l9 18l-2.9 0ZM1749.5 616.8l2.4 0l3.1 6.3l-2.4 0ZM1744.1 622.1l2.7 0l4.5 8.9l-2.7 0ZM1747.1 612.5l2.6 0l3.7 7.5l-2.6 0ZM1741.9 617.9l2 0l8.7 17.4l-2 0ZM1737.1 627.6l2.5 0l5.4 10.9l-2.5 0ZM1746.7 615.1l2.9 0l5.8 11.7l-2.9 0ZM1742.8 645.7l2.7 0l8.4 16.8l-2.7 0ZM1745.1 616.2l2 0l8.9 17.8l-2 0ZM1740.3 631.2l2.7 0l6.2 12.4l-2.7 0ZM1743.6 647l2.5 0l7.7 15.4l-2.5 0ZM1739.8 636.2l2.6 0l6 12l-2.6 0Z" fill="#00ffff"/><path d="M1772.8 659.4l2.9 0l5.3 10.6l-2.9 0ZM1780.5 650.5l3 0l6.7 13.3l-3 0ZM1778.6 638.9l3.5 0l3.8 7.7l-3.5 0ZM1775.9 644.3l1.8 0l6.7 13.4l-1.8 0ZM1766.6 648.6l1.8 0l4.1 8.3l-1.8 0ZM1770.2 653.5l2.8 0l4.6 9.2l-2.8 0ZM1781.6 639.3l1.7 0l4.4 8.8l-1.7 0ZM1774.3 647.9l2 0l5.2 10.4l-2 0ZM1776.6 656.2l3.1 0l5.2 10.5l-3.1 0ZM1763.5 646.3l2 0l7.8 15.6l-2 0ZM1761.5 638.8l3.1 0l6.4 12.7l-3.1 0ZM1759.2 649.5l2.2 0l5 10l-2.2 0ZM1763.6 647.2l3.3 0l3.7 7.4l-3.3 0ZM1762.8 650.8l2.8 0l6.2 12.4l-2.8 0ZM1769.4 650.6l1.8 0l7.7 15.4l-1.8 0ZM1762.8 645.3l2.3 0l6.7 13.4l-2.3 0ZM1767.4 639.9l2.8 0l3.6 7.3l-2.8 0ZM1763.5 649.1l2.1 0l4.2 8.4l-2.1 0ZM1762.6 659.8l2.5 0l6.1 12.2l-2.5 0ZM1763.5 658.1l1.8 0l5.8 11.6l-1.8 0ZM1762.3 660.8l2.3 0l4.6 9.2l-2.3 0ZM1760.3 659l2.6 0l4.2 8.5l-2.6 0ZM1775.4 650.9l2 0l4.9 9.8l-2 0ZM1774.6 644.2l3.4 0l6.1 12.2l-3.4 0ZM1780.1 654.1l1.8 0l6 12l-1.8 0ZM1777.5 659.8l1.6 0l4.7 9.5l-1.6 0ZM1770.8 648.4l3 0l7.2 14.5l-3 0ZM1768.4 650.8l2.8 0l5.4 10.8l-2.8 0ZM1773.4 653.8l3.1 0l4.1 8.2l-3.1 0ZM1759.3 644.3l1.6 0l5.8 11.6l-1.6 0ZM1772.5 645.7l1.7 0l4.7 9.4l-1.7 0ZM1767.1 651.9l3.2 0l3.2 6.5l-3.2 0ZM1781.6 650.5l3.1 0l5.8 11.5l-3.1 0ZM1773.7 654l2.5 0l5.4 10.8l-2.5 0ZM1766.7 640.5l2.8 0l6.9 13.8l-2.8 0ZM1758.1 656.7l2.3 0l7.9 15.9l-2.3 0ZM1780 643.2l3.1 0l6.2 12.3l-3.1 0ZM1767.7 645l2.6 0l3.7 7.4l-2.6 0ZM1765.4 649.4l2 0l6.1 12.2l-2 0ZM1767.8 639l3 0l6.3 12.6l-3 0ZM1765.1 643l2.4 0l6.2 12.4l-2.4 0ZM1777.6 656l2.4 0l5.3 10.5l-2.4 0ZM1771.9 652.4l2.6 0l5.4 10.8l-2.6 0ZM1766.9 654.6l1.8 0l5.4 10.9l-1.8 0ZM1773.2 645.8l2.7 0l4.7 9.4l-2.7 0ZM1778.9 647.7l2.8 0l5 10l-2.8 0ZM1778.4 657.2l1.6 0l7.9 15.9l-1.6 0ZM1770.7 646.7l2.1 0l4.8 9.6l-2.1 0ZM1772.2 656.2l1.6 0l6.3 12.6l-1.6 0ZM1769.2 657.8l2.1 0l4.9 9.9l-2.1 0ZM1766.6 652.7l1.8 0l4.5 9l-1.8 0ZM1758.3 641.1l1.6 0l6.4 12.8l-1.6 0ZM1765.9 644.6l3.2 0l7.1 14.1l-3.2 0ZM1759 641.3l1.8 0l4.3 8.5l-1.8 0ZM1769.5 660.6l2.9 0l5 10l-2.9 0ZM1770.2 660.1l2.8 0l5 9.9l-2.8 0ZM1760.8 646.9l2.5 0l3.2 6.4l-2.5 0ZM1773.2 642.6l2.9 0l5.4 10.8l-2.9 0ZM1765.8 660.4l2.2 0l3.4 6.8l-2.2 0ZM1781.5 661.3l1.9 0l5.5 10.9l-1.9 0Z" fill="#00ffff"/><path d="M2543.6 741.1h1.9v13.2h-1.9ZM2544.2 754.1h1.9v11h-1.9ZM2552.5 768.8h1.9v7.6h-1.9ZM2540.9 745.4h3.5v7.1h-3.5ZM2550.1 774.6h3.3v7.6h-3.3ZM2556.2 762.9h2v13.9h-2ZM2547.4 762.5h1.5v7.6h-1.5ZM2564.7 760.7h2.5v9.1h-2.5ZM2569.1 746.9h2.3v7.5h-2.3ZM2545.4 750.4h3v6.4h-3ZM2565.8 750.6h2v10.5h-2ZM2570.5 770.2h1.8v13.9h-1.8ZM2545.5 765.9h2.9v8.3h-2.9ZM2553.5 737.2h3.3v8.4h-3.3ZM2550.3 762.3h2.3v15.1h-2.3ZM2556 769.5h2.5v14.7h-2.5ZM2557.4 753.5h2.8v11.1h-2.8ZM2547.8 769.8h2v9.5h-2ZM2570.8 736.6h2.6v10.9h-2.6ZM2554.1 768.4h2.5v14.1h-2.5ZM2540.1 774.4h2.2v10.4h-2.2ZM2547 743.7h1.8v7.2h-1.8ZM2561.5 747.6h2.8v12.1h-2.8ZM2542.3 765.6h3.1v8.3h-3.1ZM2568.4 753.6h2.5v9.8h-2.5ZM2568.8 774.2h2.3v14.6h-2.3ZM2552.8 763.2h3.1v10h-3.1ZM2550.9 758.5h2.6v12.2h-2.6ZM2566.9 770.7h2.8v15.4h-2.8ZM2552.7 751.3h3.2v11.5h-3.2ZM2563.5 739.6h1.6v8.9h-1.6ZM2549.7 768.3h1.5v13.5h-1.5ZM2564 760h1.6v11.7h-1.6ZM2540.5 738.8h2.3v16.5h-2.3ZM2541.8 767.7h2.2v11.8h-2.2ZM2552.6 744.1h3.1v6.4h-3.1ZM2568.3 749.7h3.2v12.9h-3.2ZM2540.8 774.9h2.2v7.4h-2.2ZM2542 743.9h2v7.9h-2ZM2554.4 760.8h3v12h-3ZM2570.3 744.6h2.7v10.3h-2.7ZM2546.5 737.5h2.5v16h-2.5ZM2551.9 761.2h2.2v9.3h-2.2ZM2544.8 752.7h2.6v9.8h-2.6ZM2568 766.6h2.7v13.9h-2.7ZM2567.6 742.5h1.8v17.4h-1.8ZM2568.2 755.3h3.5v14.4h-3.5ZM2541.1 748.4h2.1v7.5h-2.1ZM2548 761.7h2v16h-2ZM2553.1 740.6h1.8v7h-1.8ZM2542 768.8h2.9v9.5h-2.9ZM2564.5 745.4h2.8v11.5h-2.8ZM2554.5 760.2h3.2v6.9h-3.2ZM2571.8 773.7h2.7v15.6h-2.7ZM2546.9 740.1h1.9v11.3h-1.9ZM2559.7 772.4h2.7v9.3h-2.7ZM2547.2 773.7h2.7v13.8h-2.7ZM2556.4 745.2h2.5v17.3h-2.5ZM2570.7 766.2h2.1v16.7h-2.1ZM2560.6 759.5h3.2v6.8h-3.2Z" fill="#00ffff"/><path d="M2578.1 758.8L2581.6 758.2L2584 757.8L2586.9 758.3L2589.4 756.9L2591.6 761.8L2589.8 762.5L2586.2 763.4L2583.4 764.2L2579.5 764.9L2578.9 762.5Z" fill="#00ffff"/><path d="M3265.5 634.4l2.5 0l3.2 8.4l-2.5 0ZM3260.9 633.7l2.5 0l4.9 12.8l-2.5 0ZM3271.8 638.2l3 0l7.6 19.9l-3 0ZM3261.4 629.6l2.8 0l3.8 9.9l-2.8 0ZM3266.4 648.2l2.5 0l7.5 19.7l-2.5 0ZM3265.5 629.5l2.7 0l3.1 8.3l-2.7 0ZM3267.4 644.8l2.5 0l5.6 14.8l-2.5 0ZM3266.9 647.7l2.2 0l3.5 9.3l-2.2 0ZM3262.3 646.2l1.9 0l7 18.5l-1.9 0ZM3259.1 633.4l2.7 0l4.5 11.8l-2.7 0ZM3263.7 644.5l2.3 0l4.4 11.6l-2.3 0ZM3260.6 642.2l2.8 0l5.4 14.2l-2.8 0ZM3271.3 639.4l2.9 0l3.4 8.8l-2.9 0ZM3271.2 638.4l2.9 0l5.3 13.8l-2.9 0ZM3261.6 633.6l2.5 0l6.2 16.3l-2.5 0ZM3267.6 646.2l2.1 0l5.4 14.1l-2.1 0ZM3261.2 632.7l2.1 0l4.7 12.4l-2.1 0ZM3268.4 641.6l2.1 0l5.4 14.1l-2.1 0ZM3266.8 636.4l2.5 0l6.7 17.6l-2.5 0ZM3267.7 636.2l2.6 0l5.4 14.2l-2.6 0ZM3271.4 639.6l2.5 0l4.5 11.8l-2.5 0ZM3259.7 635.4l2.3 0l3.2 8.4l-2.3 0ZM3261.6 636.6l2.5 0l6.6 17.5l-2.5 0ZM3258.5 637.7l2.7 0l3.1 8.1l-2.7 0ZM3265 646.7l2.7 0l4.2 11.2l-2.7 0ZM3259.9 647.1l1.6 0l4.8 12.7l-1.6 0Z" fill="#00ffff"/><path d="M3268.2 649.8l2.5 0l5.1 13.5l-2.5 0ZM3270.8 649.8l2.6 0l4.3 11.2l-2.6 0ZM3270.9 671.2l1.7 0l6.6 17.3l-1.7 0ZM3278.7 661.2l3 0l5.2 13.8l-3 0ZM3269.9 646.7l2.1 0l8 21.2l-2.1 0ZM3272 657.2l2.9 0l5 13.1l-2.9 0ZM3272.2 653.4l2.3 0l6.2 16.2l-2.3 0ZM3287.1 674.5l1.8 0l4.9 13l-1.8 0ZM3284.7 679.6l2.6 0l3.2 8.4l-2.6 0ZM3285.4 668.1l2.7 0l4.2 11.1l-2.7 0ZM3282.6 652.6l1.8 0l6.4 17l-1.8 0ZM3268.8 657.4l2.1 0l4.8 12.7l-2.1 0ZM3280.9 674.4l3 0l8.2 21.5l-3 0ZM3287.9 672.9l1.8 0l4.7 12.3l-1.8 0ZM3280.5 664.6l1.6 0l6.6 17.4l-1.6 0ZM3271.9 677.3l2.5 0l6.2 16.4l-2.5 0ZM3269.9 659.6l2.5 0l7.9 20.7l-2.5 0ZM3287.8 652.7l2.7 0l5.5 14.4l-2.7 0ZM3276.9 672.8l1.7 0l6 15.9l-1.7 0ZM3270 679.4l1.8 0l3.7 9.7l-1.8 0ZM3274.7 670.3l2.2 0l7.6 20l-2.2 0ZM3278 672.8l2.1 0l4.5 11.9l-2.1 0ZM3280.3 667.6l1.7 0l3.2 8.5l-1.7 0ZM3270.8 670.7l3 0l6.7 17.7l-3 0ZM3283.4 654.7l3 0l7.1 18.7l-3 0ZM3275 646.4l1.9 0l5 13.3l-1.9 0ZM3271.5 647.5l2.8 0l3.7 9.7l-2.8 0ZM3269 666.9l1.8 0l4.1 10.9l-1.8 0ZM3284.4 656.2l2.2 0l4 10.6l-2.2 0ZM3281.9 663.8l2.1 0l7.6 20l-2.1 0ZM3278.5 670.4l2.6 0l5.5 14.5l-2.6 0ZM3277.3 650.5l2.7 0l3.7 9.7l-2.7 0ZM3282.9 678.1l2.4 0l6.7 17.7l-2.4 0ZM3271.3 675l2.1 0l3.7 9.7l-2.1 0ZM3270.8 658.9l2.1 0l4.7 12.3l-2.1 0ZM3282.2 664.4l2.7 0l4.3 11.4l-2.7 0ZM3282.7 674.1l2.4 0l3.2 8.5l-2.4 0ZM3285.9 654.8l2.7 0l4.1 10.8l-2.7 0ZM3275.3 659.6l2.1 0l7.4 19.4l-2.1 0ZM3272 653.3l2.5 0l4.9 12.8l-2.5 0Z" fill="#00ffff"/><path d="M3315.4 633.4l3.8 0l6.1 16.1l-3.8 0ZM3333.8 669.9l2.9 0l4.6 12l-2.9 0ZM3349.1 655.6l3.7 0l11 28.9l-3.7 0ZM3328.3 618.1l2.1 0l9.5 25.1l-2.1 0ZM3312.4 670.6l3.6 0l10.2 26.9l-3.6 0ZM3354 632.5l2.1 0l4.4 11.6l-2.1 0ZM3355 626.1l1.8 0l5 13.2l-1.8 0ZM3314.2 620.8l2.2 0l6.5 17.1l-2.2 0ZM3325.6 684.9l3.6 0l5.1 13.3l-3.6 0ZM3344.5 658.9l3.5 0l8.2 21.5l-3.5 0ZM3337.8 634.5l2.3 0l6.3 16.6l-2.3 0ZM3329.6 689.1l2 0l7 18.5l-2 0ZM3333 676.5l3.3 0l7.2 18.9l-3.3 0ZM3316 622.5l1.9 0l8.8 23.2l-1.9 0ZM3325.3 645.7l1.9 0l5.3 13.9l-1.9 0ZM3312.3 686.5l3.9 0l9 23.8l-3.9 0ZM3333.6 686.7l3.2 0l10.4 27.3l-3.2 0ZM3335.1 654.6l2.6 0l5.5 14.5l-2.6 0ZM3343.8 632.1l2.9 0l10.3 27l-2.9 0ZM3338.6 677.2l2.1 0l8.7 22.9l-2.1 0ZM3322.9 618.1l3.9 0l4 10.5l-3.9 0ZM3338.1 687.8l2.5 0l9.7 25.6l-2.5 0ZM3354.6 684.4l2 0l7.3 19.1l-2 0ZM3326 630l2 0l6.6 17.3l-2 0ZM3343.4 688.5l3.5 0l5.4 14.2l-3.5 0ZM3337.7 652.8l2.6 0l10.7 28.1l-2.6 0ZM3348.1 620.5l2.2 0l11.1 29.3l-2.2 0ZM3312.2 681.5l3.3 0l9.3 24.4l-3.3 0ZM3345.7 645.2l2.5 0l4.7 12.3l-2.5 0ZM3354 688.7l2.8 0l5.5 14.6l-2.8 0ZM3331.8 683.1l3.6 0l3.8 10.1l-3.6 0ZM3323.2 657.5l2 0l4.8 12.6l-2 0ZM3350.9 654.2l3.7 0l11.2 29.4l-3.7 0ZM3345.1 623.4l4 0l8.3 21.8l-4 0ZM3334.1 622.7l4 0l5.2 13.7l-4 0ZM3355 635.8l3.4 0l6.2 16.4l-3.4 0ZM3334.3 631.4l3.2 0l11.3 29.7l-3.2 0ZM3328.1 619.6l3.5 0l7.7 20.2l-3.5 0ZM3319.8 624.3l3.8 0l9.3 24.5l-3.8 0ZM3328.6 652.1l2.9 0l8.6 22.7l-2.9 0ZM3317.6 637.8l2.2 0l5.4 14.1l-2.2 0ZM3315.9 646.2l3.7 0l5.5 14.4l-3.7 0ZM3326.2 687.3l2.4 0l10 26.2l-2.4 0ZM3318.8 659.2l3 0l7.4 19.5l-3 0ZM3317.4 656.2l2.8 0l9.6 25.2l-2.8 0ZM3323.2 684.4l4 0l6.1 15.9l-4 0ZM3342.3 618.2l2.1 0l7.2 18.9l-2.1 0ZM3346.6 648.3l3.9 0l4.5 11.7l-3.9 0ZM3347.2 661.8l2 0l8.1 21.4l-2 0ZM3355.2 639.7l2.9 0l7.8 20.5l-2.9 0ZM3332.8 619.3l2.9 0l10.6 27.9l-2.9 0ZM3329.3 680l3.4 0l10.3 27.2l-3.4 0ZM3351.9 643.2l2.6 0l4.6 12.1l-2.6 0ZM3338.5 674.7l3.2 0l9.4 24.7l-3.2 0ZM3338.4 666l1.8 0l8.2 21.5l-1.8 0ZM3336.1 637.8l3.1 0l4.3 11.4l-3.1 0ZM3349 638.4l3.2 0l8.9 23.4l-3.2 0ZM3342 680.8l2 0l9.1 23.9l-2 0ZM3339.2 643.1l3.3 0l7 18.3l-3.3 0ZM3319.6 663.1l2 0l10.9 28.8l-2 0ZM3349.5 669l3.5 0l6.9 18.1l-3.5 0ZM3315.5 629.6l3.2 0l11.4 30l-3.2 0ZM3319.4 627.3l3 0l7.2 18.9l-3 0ZM3355.6 631.4l2.8 0l8.6 22.7l-2.8 0ZM3336.5 685.8l3.6 0l4.7 12.4l-3.6 0ZM3344.2 637.3l3.4 0l4.7 12.4l-3.4 0ZM3349.5 642.9l3 0l4.8 12.8l-3 0ZM3341.5 643.8l2 0l6.9 18.2l-2 0ZM3318.2 634l2.1 0l9.6 25.2l-2.1 0ZM3320.7 651.4l2.3 0l5.4 14.2l-2.3 0ZM3344.4 634.8l2 0l8.1 21.2l-2 0ZM3334.8 668.3l2.2 0l7.2 19l-2.2 0ZM3313.3 637.8l2 0l6.9 18.2l-2 0ZM3330.8 654.6l3.3 0l4.3 11.3l-3.3 0ZM3354.1 668.6l3.6 0l7.2 19l-3.6 0ZM3353.6 686.4l3.5 0l11 29l-3.5 0ZM3353.5 672.8l2.1 0l6.3 16.5l-2.1 0ZM3333.4 668.6l2.6 0l5.8 15.4l-2.6 0ZM3315.6 620.9l3.7 0l5.8 15.2l-3.7 0ZM3314.7 628.8l3.9 0l6.8 18l-3.9 0ZM3321.6 621.1l2.6 0l4.2 11l-2.6 0ZM3312.2 666.3l2.2 0l4.3 11.2l-2.2 0ZM3315.4 637.4l2.2 0l4.5 11.8l-2.2 0ZM3320.5 634.8l2.6 0l8.6 22.7l-2.6 0ZM3321.1 618.9l3.7 0l10.4 27.3l-3.7 0ZM3353.7 669.1l2.5 0l7.1 18.7l-2.5 0ZM3320.6 649.7l3.9 0l7 18.4l-3.9 0ZM3320.8 668.3l3.2 0l9.4 24.6l-3.2 0ZM3339 621l2.9 0l4.9 12.9l-2.9 0ZM3338.6 687.3l2.3 0l9.8 25.7l-2.3 0ZM3318.5 673.7l3.8 0l3.9 10.2l-3.8 0ZM3315.8 661.1l2 0l10.2 26.9l-2 0ZM3316.5 663.5l1.8 0l9.3 24.4l-1.8 0ZM3332.6 675.2l2.7 0l9.7 25.5l-2.7 0ZM3312.4 662.5l2.7 0l7.9 20.7l-2.7 0ZM3338.2 660.1l3 0l7.5 19.6l-3 0ZM3336.7 673.6l1.8 0l9.8 25.8l-1.8 0ZM3346.5 635.5l2.3 0l7 18.4l-2.3 0ZM3325.6 646.7l2 0l7.2 19.1l-2 0ZM3324.9 650.9l3 0l6.7 17.7l-3 0ZM3315 658.2l3.4 0l10.7 28.1l-3.4 0ZM3336.5 676l2.2 0l6.7 17.6l-2.2 0ZM3338.9 635.6l3.5 0l5.9 15.5l-3.5 0ZM3334.4 630.6l3.4 0l5.4 14.3l-3.4 0ZM3340.6 682.7l2.4 0l9.4 24.8l-2.4 0ZM3342.9 681.5l3.8 0l10.5 27.6l-3.8 0ZM3318.4 636l3.6 0l5.1 13.5l-3.6 0ZM3342.5 658.2l2.7 0l5.3 13.9l-2.7 0ZM3342.4 620.3l3.3 0l10.6 27.8l-3.3 0ZM3351.3 686.3l2.5 0l7.7 20.3l-2.5 0ZM3328.7 653.1l2.4 0l8.4 22.1l-2.4 0ZM3324.7 654.9l1.8 0l9.4 24.8l-1.8 0ZM3351.7 664.8l3 0l7.6 20l-3 0ZM3348.2 648.9l2 0l6.3 16.5l-2 0ZM3326.7 622.4l3.2 0l5.7 15.1l-3.2 0ZM3327.7 683.6l3.6 0l7.4 19.4l-3.6 0ZM3321.1 688.4l3.8 0l10.3 27l-3.8 0ZM3347.4 655.3l3.7 0l5 13.1l-3.7 0ZM3354.1 650.9l3.2 0l9.6 25.3l-3.2 0ZM3345.9 683.4l2.1 0l8.7 23l-2.1 0ZM3331.3 657l3.4 0l5.5 14.5l-3.4 0ZM3326.4 624.3l3.4 0l6.5 17.2l-3.4 0ZM3340 641.3l3.3 0l7 18.4l-3.3 0ZM3349.4 625.7l2.7 0l5.3 13.9l-2.7 0ZM3321.6 631l2.1 0l6.1 16l-2.1 0ZM3313.6 648.7l3.2 0l7.1 18.7l-3.2 0ZM3353 685.7l2.4 0l7.4 19.5l-2.4 0ZM3339.2 649.9l3.8 0l8.3 21.8l-3.8 0ZM3345.4 689l3.5 0l10 26.2l-3.5 0ZM3355.8 671l3.3 0l9.5 25l-3.3 0ZM3354.6 656.3l3.2 0l6.8 17.8l-3.2 0ZM3320.4 674.7l2.6 0l7.8 20.4l-2.6 0ZM3341.8 669.1l2.5 0l8.4 22.2l-2.5 0ZM3334.8 618.9l1.9 0l6.9 18.2l-1.9 0ZM3338.2 623.6l3.5 0l5.6 14.6l-3.5 0ZM3343.1 634l3.9 0l4 10.6l-3.9 0ZM3331 622.2l3.6 0l7.8 20.5l-3.6 0ZM3338.1 638.8l2.6 0l7.7 20.3l-2.6 0ZM3353.6 675.3l3.1 0l5.4 14.2l-3.1 0ZM3347.5 632.7l3.1 0l4.9 12.8l-3.1 0ZM3340.1 648.5l3.1 0l7.9 20.8l-3.1 0ZM3342.7 625.1l2.1 0l6.4 16.8l-2.1 0ZM3321.8 683.8l3.6 0l8.5 22.4l-3.6 0ZM3329.8 633.5l3.5 0l4.4 11.7l-3.5 0ZM3349.9 670.7l3.5 0l5.5 14.4l-3.5 0ZM3351.2 640.1l4 0l7.6 19.9l-4 0ZM3320.8 665l3 0l9.7 25.5l-3 0ZM3352.3 654l2.6 0l5 13.2l-2.6 0ZM3325.8 654.6l3.6 0l6.7 17.5l-3.6 0ZM3339.5 675.6l2 0l8.4 22l-2 0Z" fill="#00ffff"/><path d="M3339.1 671.6l3.8 0l10.3 27.1l-3.8 0ZM3341.6 684.5l3.6 0l10.8 28.5l-3.6 0ZM3341.6 670.9l5.9 0l8.4 22.1l-5.9 0ZM3337.8 662.3l4.9 0l11.1 29.1l-4.9 0ZM3331 655.5l3.2 0l8.3 21.9l-3.2 0ZM3340.2 676.8l5.5 0l7.9 20.8l-5.5 0ZM3349.8 667.8l3.4 0l9.5 24.9l-3.4 0ZM3323.7 689l3.6 0l7 18.6l-3.6 0ZM3348.9 677.5l4 0l6.1 16l-4 0ZM3329.3 653.6l4.6 0l5.4 14.1l-4.6 0ZM3331.1 659.7l3.3 0l6.4 17l-3.3 0ZM3323 683.6l4.7 0l9.9 26l-4.7 0ZM3325.7 647.4l3.9 0l6 15.9l-3.9 0ZM3323.7 653.8l3.6 0l6.6 17.2l-3.6 0ZM3341.6 662.9l4.1 0l8.2 21.6l-4.1 0ZM3338.2 679.3l3.2 0l7.2 18.9l-3.2 0ZM3336.4 659l3.3 0l10.1 26.5l-3.3 0ZM3348.2 640.7l4.3 0l8.6 22.7l-4.3 0ZM3331.5 684.4l3.5 0l9.6 25.2l-3.5 0ZM3336.8 670.6l3.3 0l5.5 14.5l-3.3 0ZM3340.1 676.5l4.3 0l8.1 21.4l-4.3 0ZM3337.2 653l5.9 0l10.6 28l-5.9 0ZM3336.5 641l5.4 0l7.7 20.4l-5.4 0ZM3331.7 645.3l5.1 0l6.4 17l-5.1 0ZM3340.7 654.3l5.3 0l9.1 24l-5.3 0ZM3351 681.6l5.4 0l8 20.9l-5.4 0ZM3349.8 683.4l4.8 0l9.9 26l-4.8 0ZM3337.3 682.5l5.2 0l9.1 24l-5.2 0ZM3328.8 644.6l4.8 0l7 18.3l-4.8 0ZM3339.2 649.9l5.9 0l6.5 17l-5.9 0ZM3324.1 686.3l4.7 0l10 26.4l-4.7 0ZM3351.9 674l5.8 0l5.4 14.1l-5.8 0ZM3334.4 685.8l3.4 0l10.3 27l-3.4 0ZM3323.2 641l5.4 0l10.1 26.5l-5.4 0ZM3328.8 645.6l5.4 0l7.5 19.9l-5.4 0ZM3344.2 683.4l5.3 0l11.2 29.5l-5.3 0ZM3347.1 640.8l5.6 0l5.4 14.1l-5.6 0ZM3340.6 656.3l4 0l6.1 16.1l-4 0ZM3332.2 664.8l3.6 0l8.1 21.2l-3.6 0ZM3324.5 650.2l3.3 0l6.1 16.1l-3.3 0ZM3334.4 646.5l4.6 0l10.2 26.8l-4.6 0ZM3335.8 672l3.1 0l6.7 17.8l-3.1 0ZM3324.4 656.9l3.8 0l7.5 19.8l-3.8 0ZM3331.2 681.7l4.3 0l5.4 14.1l-4.3 0ZM3333.5 654.1l3.7 0l9.7 25.6l-3.7 0ZM3323.3 648l4 0l11.3 29.7l-4 0ZM3325.5 688.5l5.9 0l9.2 24.3l-5.9 0ZM3331.9 680.5l3.7 0l5.6 14.7l-3.7 0ZM3345.8 665.8l4.2 0l10.1 26.6l-4.2 0ZM3348.3 643.9l3.6 0l9.1 24l-3.6 0ZM3328 684.2l5.4 0l7.9 20.9l-5.4 0ZM3330.5 676.5l4.9 0l10.8 28.5l-4.9 0ZM3329 673.4l5.4 0l11.1 29.2l-5.4 0ZM3335.3 660l5.3 0l5.9 15.6l-5.3 0ZM3326.7 650.9l3.5 0l5.5 14.5l-3.5 0ZM3333.5 663.8l4.3 0l6.4 16.8l-4.3 0ZM3344.7 644.8l4.6 0l6.1 16.2l-4.6 0ZM3349.1 685.9l3.3 0l8.8 23.1l-3.3 0ZM3348.2 689.6l4.6 0l10.8 28.4l-4.6 0ZM3333.5 669.3l6 0l10.1 26.6l-6 0Z" fill="#00ffff"/><path d="M3517.2 700.4l3 0l7.5 19.8l-3 0ZM3525.3 694.2l2.2 0l8.1 21.3l-2.2 0ZM3512 686.6l1.8 0l5.8 15.2l-1.8 0ZM3511.3 701.1l2.8 0l7.2 18.9l-2.8 0ZM3507 685.7l2.4 0l4.4 11.6l-2.4 0ZM3524.3 706.4l2.5 0l8 21.1l-2.5 0ZM3519.6 692.2l1.9 0l4.7 12.4l-1.9 0ZM3517.3 701l2.2 0l6.1 16l-2.2 0ZM3514.7 691l2.5 0l7.4 19.4l-2.5 0ZM3522.2 706.7l1.7 0l4.5 11.9l-1.7 0ZM3511.5 709.4l2.2 0l7.3 19.1l-2.2 0ZM3522.9 693.6l1.7 0l7.6 20.1l-1.7 0ZM3522 711.5l2.3 0l5.3 13.9l-2.3 0ZM3508 691.7l2 0l4.3 11.3l-2 0ZM3506.6 692.4l2.4 0l3.6 9.5l-2.4 0ZM3514.3 690.4l2 0l8.1 21.2l-2 0ZM3517.2 709.1l3.1 0l7.1 18.6l-3.1 0ZM3519 708.4l2.7 0l3.4 8.9l-2.7 0ZM3512.7 693l2.8 0l7.1 18.8l-2.8 0ZM3512.9 694.2l3.1 0l4.5 11.9l-3.1 0ZM3519.1 691.3l1.6 0l5.9 15.5l-1.6 0ZM3511.2 698l3 0l8.2 21.6l-3 0ZM3517.6 705.4l2.7 0l4.4 11.5l-2.7 0ZM3527.9 688.3l3.2 0l8 21.1l-3.2 0ZM3513.5 706.8l1.8 0l8.3 21.8l-1.8 0ZM3515.7 700.6l2 0l7.3 19.1l-2 0ZM3522.3 703.7l2.7 0l7.6 20l-2.7 0ZM3524.8 700.9l2.3 0l5.9 15.6l-2.3 0ZM3514.4 697l2.2 0l5.7 14.9l-2.2 0ZM3508.3 695.1l2 0l8.1 21.2l-2 0ZM3527.6 707.3l1.9 0l5.5 14.3l-1.9 0ZM3525.2 710.7l2.6 0l4.7 12.3l-2.6 0ZM3522.3 701.4l1.9 0l3.7 9.7l-1.9 0ZM3521.6 701.8l2 0l6.6 17.4l-2 0ZM3525.2 705.7l3 0l5.6 14.8l-3 0ZM3511.9 698.9l3.1 0l5.8 15.3l-3.1 0ZM3526.6 693.5l2 0l7.2 18.9l-2 0ZM3525.3 709l1.6 0l6.7 17.5l-1.6 0ZM3512 688.8l1.6 0l5.7 15.1l-1.6 0ZM3506.4 686.8l2.5 0l7.6 20.1l-2.5 0Z" fill="#00ffff"/><path d="M3542.5 716.8l4.2 0l7.6 20l-4.2 0ZM3534.6 726.5l3.9 0l6.5 17.1l-3.9 0ZM3548.6 724.8l2.9 0l4.7 12.4l-2.9 0ZM3547.5 709.3l2.9 0l7.6 20l-2.9 0ZM3554.7 683.5l2.9 0l7.4 19.5l-2.9 0ZM3526.8 713.4l2.6 0l3.4 8.8l-2.6 0ZM3535.7 690.1l2.2 0l4 10.6l-2.2 0ZM3551.4 686.7l2.2 0l4 10.6l-2.2 0ZM3553.3 707.6l4.4 0l8 21.2l-4.4 0ZM3540.9 700.8l2.7 0l5.4 14.2l-2.7 0ZM3543.8 726.5l3.9 0l6.1 16.1l-3.9 0ZM3552.7 720.4l3.4 0l7.1 18.7l-3.4 0ZM3528.9 700l3.1 0l8.2 21.7l-3.1 0ZM3546.4 694.7l2.5 0l6.6 17.3l-2.5 0ZM3549.6 719.6l3.7 0l3.1 8.3l-3.7 0ZM3528.8 725.7l2.3 0l4.1 10.8l-2.3 0ZM3552.8 710.7l3.2 0l3.1 8.2l-3.2 0ZM3550.9 690.4l2.7 0l7.6 20l-2.7 0ZM3539.3 700.8l3 0l3.4 8.9l-3 0ZM3541.7 710.8l2.4 0l6.3 16.6l-2.4 0ZM3544.2 696.1l2.2 0l8.5 22.4l-2.2 0ZM3549.3 686.8l2.9 0l6.5 17l-2.9 0ZM3539.8 713.9l2 0l7.9 20.8l-2 0ZM3552.5 712.3l3.7 0l3.7 9.7l-3.7 0ZM3550.3 699.8l2.4 0l8.4 22.1l-2.4 0ZM3539.7 693.9l2.8 0l8 21.2l-2.8 0ZM3533.5 728l3.2 0l5.5 14.6l-3.2 0ZM3547 691.1l3.7 0l8 21l-3.7 0ZM3540.8 718.9l2.2 0l8.4 22l-2.2 0ZM3554.8 706.5l3.7 0l7.8 20.5l-3.7 0ZM3554.9 717.4l2.4 0l4.5 11.9l-2.4 0ZM3538 694.6l3.4 0l4.4 11.7l-3.4 0ZM3541.1 700.9l2.4 0l7.7 20.1l-2.4 0ZM3539.2 702.9l4.2 0l6.8 17.8l-4.2 0ZM3543.7 683.1l2.9 0l6.7 17.5l-2.9 0ZM3538.6 708.7l4 0l4.4 11.5l-4 0ZM3537.1 699.4l2.1 0l6.4 16.7l-2.1 0ZM3535.7 727.6l3 0l3.8 9.9l-3 0ZM3549.1 704.3l4.1 0l6.8 17.9l-4.1 0ZM3551.3 702.2l2 0l5.2 13.6l-2 0ZM3548.3 689.2l2.3 0l5.9 15.4l-2.3 0ZM3548.4 703.6l3.5 0l3.7 9.8l-3.5 0ZM3528.7 698.7l3.9 0l4.8 12.6l-3.9 0ZM3544 692.6l3.1 0l5.1 13.4l-3.1 0ZM3550.9 698.7l2.2 0l7.6 20.1l-2.2 0ZM3529.6 718l2.1 0l5.2 13.8l-2.1 0ZM3532 702l2.9 0l3.6 9.4l-2.9 0ZM3555.8 686.4l2.8 0l5.2 13.7l-2.8 0ZM3530.6 725.6l2.5 0l4.7 12.4l-2.5 0ZM3539.2 686.2l2.4 0l5.9 15.6l-2.4 0ZM3540.8 689.5l3.3 0l8.3 21.9l-3.3 0ZM3545.4 693l2.6 0l3.3 8.7l-2.6 0ZM3541.1 683l4.3 0l4.2 11l-4.3 0ZM3534.8 691.3l2.7 0l8 21l-2.7 0ZM3542.6 706.6l2.1 0l6.1 15.9l-2.1 0ZM3546.6 697.8l4.4 0l8.3 21.7l-4.4 0ZM3537.1 721.6l2.4 0l8.8 23.2l-2.4 0ZM3534.8 723.9l2.5 0l8.3 21.9l-2.5 0ZM3532.3 721.8l2.5 0l3.5 9.3l-2.5 0ZM3531.1 695.6l2.3 0l5.8 15.2l-2.3 0Z" fill="#00ffff"/><path d="M3381.3 728.6l2.9 0l8.1 21.4l-2.9 0ZM3388.6 719.8l2.4 0l3 8l-2.4 0ZM3380 707.9l2.3 0l5.3 14.1l-2.3 0ZM3384.7 695.2l3 0l7.4 19.6l-3 0ZM3381.5 714.1l2.1 0l7.8 20.4l-2.1 0ZM3378 688.8l2.3 0l7.1 18.7l-2.3 0ZM3379 705.8l2.8 0l4.8 12.5l-2.8 0ZM3378.7 696.7l3 0l5.1 13.4l-3 0ZM3378.2 720.2l2.1 0l5.3 13.8l-2.1 0ZM3379.3 688.6l3 0l8 21l-3 0ZM3391 698.1l2.3 0l4.3 11.3l-2.3 0ZM3386.4 672.3l1.6 0l8.3 21.8l-1.6 0ZM3379.8 664.7l1.6 0l3.9 10.3l-1.6 0ZM3379.8 678.7l2.3 0l8 21.1l-2.3 0ZM3386 676.5l2.3 0l3.9 10.4l-2.3 0ZM3387.6 655l1.8 0l6.5 17.1l-1.8 0ZM3387 677.1l1.7 0l3.8 10.1l-1.7 0ZM3388.7 692.3l2.9 0l3.5 9.2l-2.9 0ZM3380.4 671l2 0l3.1 8l-2 0ZM3385 721.6l2.2 0l4.6 12.2l-2.2 0ZM3377.3 704.3l2.1 0l4.6 12.2l-2.1 0ZM3380.3 715.1l1.7 0l8.3 21.7l-1.7 0ZM3383.2 656.8l2.9 0l7 18.5l-2.9 0ZM3378 704l2.2 0l4.7 12.3l-2.2 0ZM3385.2 679.5l2 0l6.5 17.1l-2 0ZM3383.9 677.3l1.7 0l5.3 13.9l-1.7 0ZM3381.7 657.1l2.1 0l6.3 16.7l-2.1 0ZM3382.7 721.6l2.3 0l3.9 10.2l-2.3 0ZM3385.8 699.8l2 0l7.1 18.6l-2 0ZM3390.8 702.8l2.4 0l3.4 9l-2.4 0ZM3384.3 724.7l2.5 0l6.9 18.2l-2.5 0ZM3386.9 706.1l2.2 0l5.4 14.3l-2.2 0ZM3384.5 649.6l2.1 0l5.8 15.1l-2.1 0ZM3382.8 694.2l2.1 0l6.5 17.1l-2.1 0ZM3385.2 667.3l2.5 0l8.2 21.7l-2.5 0ZM3387.2 708.5l1.8 0l3.2 8.4l-1.8 0ZM3382.1 684l2.3 0l5.2 13.6l-2.3 0ZM3386 709.2l2.1 0l6.7 17.7l-2.1 0ZM3389.6 714.5l1.5 0l8.2 21.5l-1.5 0ZM3385.2 662.3l2.9 0l7.6 20.1l-2.9 0Z" fill="#00ffff"/><path d="M3471.6 645.5l3.2 0l7.3 19.1l-3.2 0ZM3474.7 670.9l2.2 0l7.4 19.4l-2.2 0ZM3468.6 646.5l2.7 0l7.7 20.3l-2.7 0ZM3463.6 662.7l2.4 0l8.1 21.3l-2.4 0ZM3477.2 698.3l1.7 0l8.8 23.1l-1.7 0ZM3459.5 657.3l2.9 0l5.5 14.5l-2.9 0ZM3474.5 673.8l2.6 0l7.4 19.5l-2.6 0ZM3458.7 671.6l2.3 0l4.5 11.8l-2.3 0ZM3458.2 679.3l1.6 0l9.3 24.4l-1.6 0ZM3469.6 641.4l1.8 0l5.4 14.3l-1.8 0ZM3475.2 683.7l1.9 0l9.2 24.1l-1.9 0ZM3472.4 682l3.3 0l6.5 17.2l-3.3 0ZM3470.5 657l2.5 0l7.9 20.9l-2.5 0ZM3462.3 677.1l2.4 0l3.4 8.9l-2.4 0ZM3469.1 640.2l1.7 0l7.5 19.7l-1.7 0ZM3471 660.5l3.5 0l3.2 8.5l-3.5 0ZM3459.3 649.4l2 0l6.5 17.1l-2 0ZM3468.6 668.4l2.6 0l7 18.4l-2.6 0ZM3463.9 652.7l2.4 0l7.8 20.5l-2.4 0ZM3468.4 695l2.1 0l3.1 8.2l-2.1 0ZM3469.3 643.2l2.3 0l8.2 21.6l-2.3 0ZM3464.3 651.7l1.6 0l9.7 25.4l-1.6 0ZM3474.4 682.3l2.9 0l9.2 24.2l-2.9 0ZM3464.9 673l1.6 0l9.3 24.6l-1.6 0ZM3475 680.4l3.4 0l4.4 11.5l-3.4 0ZM3464 640.3l2.5 0l4.9 12.8l-2.5 0ZM3458.6 675.5l2.2 0l6.1 16l-2.2 0ZM3473.1 677.1l3.2 0l9.6 25.4l-3.2 0ZM3475.2 696l2.5 0l8.9 23.3l-2.5 0ZM3459.4 666.8l3.4 0l7.3 19.2l-3.4 0Z" fill="#00ffff"/><path d="M3169.2 629.9L3174.3 627.5L3174.7 631.3L3175.1 634.6L3170.8 635.7L3169.8 633.3Z" fill="#00ffff"/><path d="M3213.5 649.8L3216 647.3L3219.1 645.2L3220.6 648.3L3222.5 652.5L3221.2 656.1L3219.3 658.2L3214.9 655.9L3214.9 653.6Z" fill="#00ffff"/><path d="M3246.4 659.4l1.8 0l1.6 8.1l-1.8 0ZM3247.9 658.3l1.8 0l1.7 8.5l-1.8 0ZM3247.6 657.2l2.4 0l1.6 8.1l-2.4 0Z" fill="#00ffff"/><path d="M3398 672L3400.5 672L3416.5 716L3414 716ZM3418 680L3421 680L3435 716L3432 716ZM3436 668L3438.2 668L3454.2 712L3452 712ZM3406 650L3407.8 650L3417.8 676L3416 676ZM3445 690L3447.5 690L3458.5 722L3456 722Z" fill="#ffffff"/><path d="M3440 768l2 0l5 22l-2 0Z M3215 790h1.5v30h-1.5Z" fill="#ffffff"/><path d="M1636 676L1640 676L1664 704L1660 704ZM1652 672L1655 672L1675 698L1672 698ZM1680 694L1685 694L1695 708L1690 708ZM1700 690L1706 690L1722 712L1716 712ZM1712 696L1717 696L1727 714L1722 714Z" fill="#ffffff"/><path d="M1950 770L1955 770L1987 742L1982 742ZM1944 792L1948 792L1976 764L1972 764ZM1930 800L1933 800L1947 786L1944 786Z" fill="#ffffff"/></g><path d="M319.2 933.6L336.3 963.4L302 963.4ZM354.3 933.6L371.5 963.4L337.2 963.4ZM389.4 933.6L406.6 963.4L372.3 963.4ZM424.6 933.6L441.7 963.4L407.4 963.4ZM459.7 933.6L476.8 963.4L442.5 963.4ZM494.8 933.6L512 963.4L477.7 963.4ZM529.9 933.6L547.1 963.4L512.8 963.4ZM565.1 933.6L582.2 963.4L547.9 963.4ZM635.3 933.6L652.5 963.4L618.2 963.4ZM670.4 933.6L687.6 963.4L653.3 963.4ZM705.6 933.6L722.7 963.4L688.4 963.4ZM740.7 933.6L757.8 963.4L723.5 963.4ZM775.8 933.6L793 963.4L758.7 963.4ZM810.9 933.6L828.1 963.4L793.8 963.4ZM846.1 933.6L863.2 963.4L828.9 963.4ZM881.2 933.6L898.3 963.4L864 963.4ZM916.3 933.6L933.4 963.4L899.1 963.4ZM951.4 933.6L968.6 963.4L934.3 963.4ZM986.5 933.6L1003.7 963.4L969.4 963.4ZM1021.7 933.6L1038.8 963.4L1004.5 963.4ZM1056.8 933.6L1073.9 963.4L1039.6 963.4ZM1091.9 933.6L1109.1 963.4L1074.8 963.4ZM1127 933.6L1144.2 963.4L1109.9 963.4ZM1162.2 933.6L1179.3 963.4L1145 963.4ZM1197.3 933.6L1214.4 963.4L1180.1 963.4ZM1232.4 933.6L1249.6 963.4L1215.3 963.4ZM1267.5 933.6L1284.7 963.4L1250.4 963.4ZM1302.7 933.6L1319.8 963.4L1285.5 963.4ZM1337.8 933.6L1354.9 963.4L1320.6 963.4ZM1372.9 933.6L1390.1 963.4L1355.8 963.4ZM1408 933.6L1425.2 963.4L1390.9 963.4ZM1443.2 933.6L1460.3 963.4L1426 963.4ZM1478.3 933.6L1495.4 963.4L1461.1 963.4ZM1513.4 933.6L1530.6 963.4L1496.3 963.4ZM1548.5 933.6L1565.7 963.4L1531.4 963.4ZM1583.7 933.6L1600.8 963.4L1566.5 963.4ZM1618.8 933.6L1635.9 963.4L1601.6 963.4ZM2286.2 933.6L2303.3 963.4L2269 963.4ZM2567.2 933.6L2584.3 963.4L2550 963.4ZM2672.5 933.6L2689.7 963.4L2655.4 963.4ZM2707.7 933.6L2724.8 963.4L2690.5 963.4ZM2742.8 933.6L2759.9 963.4L2725.6 963.4ZM2777.9 933.6L2795.1 963.4L2760.8 963.4ZM2813 933.6L2830.2 963.4L2795.9 963.4ZM2848.2 933.6L2865.3 963.4L2831 963.4ZM2883.3 933.6L2900.4 963.4L2866.1 963.4ZM2918.4 933.6L2935.6 963.4L2901.3 963.4ZM2953.5 933.6L2970.7 963.4L2936.4 963.4ZM2988.7 933.6L3005.8 963.4L2971.5 963.4ZM3023.8 933.6L3040.9 963.4L3006.6 963.4ZM3094 933.6L3111.2 963.4L3076.9 963.4ZM3129.1 933.6L3146.3 963.4L3112 963.4ZM3164.3 933.6L3181.4 963.4L3147.1 963.4ZM3199.4 933.6L3216.5 963.4L3182.2 963.4ZM3234.5 933.6L3251.7 963.4L3217.4 963.4ZM3269.6 933.6L3286.8 963.4L3252.5 963.4ZM3304.8 933.6L3321.9 963.4L3287.6 963.4ZM3339.9 933.6L3357 963.4L3322.7 963.4ZM3375 933.6L3392.2 963.4L3357.9 963.4ZM3410.1 933.6L3427.3 963.4L3393 963.4ZM3445.3 933.6L3462.4 963.4L3428.1 963.4ZM3480.4 933.6L3497.5 963.4L3463.2 963.4ZM3515.5 933.6L3532.7 963.4L3498.4 963.4ZM3550.6 933.6L3567.8 963.4L3533.5 963.4ZM3585.8 933.6L3602.9 963.4L3568.6 963.4ZM3620.9 933.6L3638 963.4L3603.7 963.4ZM1689 713.6L1706.2 743.4L1671.9 743.4ZM1724.2 662.2L1741.3 692L1707 692ZM1759.3 721.4L1776.4 751.1L1742.1 751.1ZM1794.4 710.1L1811.6 739.9L1777.3 739.9ZM1829.5 699.8L1846.7 729.5L1812.4 729.5ZM1864.7 669.6L1881.8 699.4L1847.5 699.4ZM1899.8 699.8L1916.9 729.5L1882.6 729.5ZM1934.9 746.8L1952.1 776.5L1917.8 776.5ZM1970 785.2L1987.2 815L1952.9 815ZM2005.2 738.2L2022.3 768L1988 768ZM2040.3 719.1L2057.4 748.9L2023.1 748.9ZM2075.4 713.5L2092.6 743.2L2058.3 743.2ZM2110.5 724.2L2127.7 754L2093.4 754ZM2145.7 724.2L2162.8 754L2128.5 754ZM2180.8 720.8L2197.9 750.5L2163.6 750.5ZM2215.9 733L2233.1 762.8L2198.8 762.8ZM2251 728.1L2268.2 757.9L2233.9 757.9ZM2286.2 757.8L2303.3 787.5L2269 787.5ZM2321.3 749.1L2338.4 778.9L2304.1 778.9ZM2356.4 747.4L2373.6 777.1L2339.3 777.1ZM2391.5 738.2L2408.7 768L2374.4 768ZM2426.7 740L2443.8 769.8L2409.5 769.8ZM2461.8 737.8L2478.9 767.5L2444.6 767.5ZM2496.9 735.4L2514.1 765.1L2479.8 765.1ZM2532 759.1L2549.2 788.9L2514.9 788.9ZM3058.9 819.2L3076 849L3041.7 849ZM302 892.6L336.3 892.6L319.2 922.4ZM337.2 904.5L371.5 904.5L354.3 934.2ZM372.3 888.9L406.6 888.9L389.4 918.6ZM407.4 890.5L441.7 890.5L424.6 920.2ZM442.5 916.4L476.8 916.4L459.7 946.1ZM477.7 859L512 859L494.8 888.8ZM512.8 854.9L547.1 854.9L529.9 884.6ZM547.9 796.9L582.2 796.9L565.1 826.6ZM618.2 903.6L652.5 903.6L635.3 933.4ZM653.3 908.1L687.6 908.1L670.4 937.9ZM688.4 918.1L722.7 918.1L705.6 947.9ZM723.5 911.1L757.8 911.1L740.7 940.9ZM758.7 910.1L793 910.1L775.8 939.9ZM793.8 898.1L828.1 898.1L810.9 927.9ZM828.9 908.8L863.2 908.8L846.1 938.5ZM864 915.8L898.3 915.8L881.2 945.5ZM899.1 911.5L933.4 911.5L916.3 941.2ZM934.3 906.9L968.6 906.9L951.4 936.6ZM969.4 911.5L1003.7 911.5L986.5 941.2ZM1004.5 920.9L1038.8 920.9L1021.7 950.6ZM1039.6 912.1L1073.9 912.1L1056.8 941.9ZM1074.8 911.5L1109.1 911.5L1091.9 941.2ZM1109.9 908.5L1144.2 908.5L1127 938.2ZM1145 892.9L1179.3 892.9L1162.2 922.6ZM1180.1 897.5L1214.4 897.5L1197.3 927.2ZM1215.3 899.9L1249.6 899.9L1232.4 929.6ZM1250.4 897.5L1284.7 897.5L1267.5 927.2ZM1285.5 902.8L1319.8 902.8L1302.7 932.5ZM1320.6 892.9L1354.9 892.9L1337.8 922.6ZM1355.8 890.6L1390.1 890.6L1372.9 920.4ZM1390.9 897.5L1425.2 897.5L1408 927.2ZM1426 897.5L1460.3 897.5L1443.2 927.2ZM1461.1 889.4L1495.4 889.4L1478.3 919.1ZM1496.3 890.6L1530.6 890.6L1513.4 920.4ZM1531.4 887.9L1565.7 887.9L1548.5 917.6ZM1566.5 895.2L1600.8 895.2L1583.7 925ZM1601.6 883.6L1635.9 883.6L1618.8 913.4ZM2514.9 895.4L2549.2 895.4L2532 925.1ZM2550 897.5L2584.3 897.5L2567.2 927.2ZM2655.4 911.9L2689.7 911.9L2672.5 941.6ZM2690.5 857.4L2724.8 857.4L2707.7 887.1ZM2725.6 833.4L2759.9 833.4L2742.8 863.1ZM2760.8 852.9L2795.1 852.9L2777.9 882.6ZM2795.9 864.6L2830.2 864.6L2813 894.4ZM2831 885.9L2865.3 885.9L2848.2 915.6ZM2866.1 897.5L2900.4 897.5L2883.3 927.2ZM2901.3 884L2935.6 884L2918.4 913.8ZM2936.4 875.4L2970.7 875.4L2953.5 905.1ZM2971.5 870L3005.8 870L2988.7 899.8ZM3006.6 891L3040.9 891L3023.8 920.8ZM3076.9 772.9L3111.2 772.9L3094 802.6ZM3112 771L3146.3 771L3129.1 800.8ZM3147.1 793.9L3181.4 793.9L3164.3 823.6ZM3182.2 739.9L3216.5 739.9L3199.4 769.6ZM3217.4 767.9L3251.7 767.9L3234.5 797.6ZM3252.5 760.9L3286.8 760.9L3269.6 790.6ZM3287.6 742.6L3321.9 742.6L3304.8 772.4ZM3322.7 618L3357 618L3339.9 647.8ZM3357.9 726.9L3392.2 726.9L3375 756.6ZM3393 648.8L3427.3 648.8L3410.1 678.5ZM3428.1 639.6L3462.4 639.6L3445.3 669.4ZM3463.2 725.6L3497.5 725.6L3480.4 755.4ZM3498.4 718.6L3532.7 718.6L3515.5 748.4ZM3533.5 690.8L3567.8 690.8L3550.6 720.5ZM3568.6 737.5L3602.9 737.5L3585.8 767.2ZM3603.7 735.6L3638 735.6L3620.9 765.4ZM1636.8 603.9L1671.1 603.9L1653.9 633.6ZM1671.9 603.9L1706.2 603.9L1689 633.6ZM1707 603.9L1741.3 603.9L1724.2 633.6ZM1742.1 664.5L1776.4 664.5L1759.3 694.2ZM1777.3 634.4L1811.6 634.4L1794.4 664.1ZM1812.4 608.9L1846.7 608.9L1829.5 638.6ZM1847.5 632.6L1881.8 632.6L1864.7 662.4ZM1882.6 641.9L1916.9 641.9L1899.8 671.6ZM1917.8 653.5L1952.1 653.5L1934.9 683.2ZM1952.9 676.9L1987.2 676.9L1970 706.6ZM1988 684.1L2022.3 684.1L2005.2 713.9ZM2023.1 662.8L2057.4 662.8L2040.3 692.5ZM2058.3 659L2092.6 659L2075.4 688.8ZM2093.4 660.6L2127.7 660.6L2110.5 690.4ZM2128.5 682L2162.8 682L2145.7 711.8ZM2163.6 679L2197.9 679L2180.8 708.8ZM2198.8 689L2233.1 689L2215.9 718.8ZM2233.9 693L2268.2 693L2251 722.8ZM2269 700L2303.3 700L2286.2 729.8ZM2304.1 697.9L2338.4 697.9L2321.3 727.6ZM2339.3 697.9L2373.6 697.9L2356.4 727.6ZM2374.4 704.9L2408.7 704.9L2391.5 734.6ZM2409.5 700.8L2443.8 700.8L2426.7 730.5ZM2444.6 710L2478.9 710L2461.8 739.8ZM2479.8 690.9L2514.1 690.9L2496.9 720.6ZM2514.9 732.9L2549.2 732.9L2532 762.6ZM3041.7 796.9L3076 796.9L3058.9 826.6Z" fill="#ff0000"/><path d="M1636.8 887.9L1671.1 887.9L1653.9 917.6Z" fill="#ff0000"/><path d="M1645.8 893L1662.1 893L1653.9 907.1Z" fill="#fff"/><path d="M1653.9 933.6L1671.1 963.4L1636.8 963.4Z" fill="#ff0000"/><path d="M1653.9 944L1662.1 958.1L1645.8 958.1Z" fill="#fff"/><path d="M1671.9 885.9L1706.2 885.9L1689 915.6Z" fill="#ff0000"/><path d="M1680.9 891.1L1697.2 891.1L1689 905.2Z" fill="#fff"/><path d="M1689 933.6L1706.2 963.4L1671.9 963.4Z" fill="#ff0000"/><path d="M1689 944L1697.2 958.1L1680.9 958.1Z" fill="#fff"/><path d="M1707 887.9L1741.3 887.9L1724.2 917.6Z" fill="#ff0000"/><path d="M1716 893L1732.3 893L1724.2 907.1Z" fill="#fff"/><path d="M1724.2 933.6L1741.3 963.4L1707 963.4Z" fill="#ff0000"/><path d="M1724.2 944L1732.3 958.1L1716 958.1Z" fill="#fff"/><path d="M1742.1 880.9L1776.4 880.9L1759.3 910.6Z" fill="#ff0000"/><path d="M1751.1 886L1767.4 886L1759.3 900.1Z" fill="#fff"/><path d="M1759.3 933.6L1776.4 963.4L1742.1 963.4Z" fill="#ff0000"/><path d="M1759.3 944L1767.4 958.1L1751.1 958.1Z" fill="#fff"/><path d="M1777.3 864.5L1811.6 864.5L1794.4 894.2Z" fill="#ff0000"/><path d="M1786.3 869.7L1802.6 869.7L1794.4 883.8Z" fill="#fff"/><path d="M1794.4 933.6L1811.6 963.4L1777.3 963.4Z" fill="#ff0000"/><path d="M1794.4 944L1802.6 958.1L1786.3 958.1Z" fill="#fff"/><path d="M1812.4 875.4L1846.7 875.4L1829.5 905.1Z" fill="#ff0000"/><path d="M1821.4 880.6L1837.7 880.6L1829.5 894.7Z" fill="#fff"/><path d="M1829.5 933.6L1846.7 963.4L1812.4 963.4Z" fill="#ff0000"/><path d="M1829.5 944L1837.7 958.1L1821.4 958.1Z" fill="#fff"/><path d="M1847.5 871.4L1881.8 871.4L1864.7 901.1Z" fill="#ff0000"/><path d="M1856.5 876.6L1872.8 876.6L1864.7 890.7Z" fill="#fff"/><path d="M1864.7 933.6L1881.8 963.4L1847.5 963.4Z" fill="#ff0000"/><path d="M1864.7 944L1872.8 958.1L1856.5 958.1Z" fill="#fff"/><path d="M1882.6 868.9L1916.9 868.9L1899.8 898.6Z" fill="#ff0000"/><path d="M1891.6 874.1L1907.9 874.1L1899.8 888.2Z" fill="#fff"/><path d="M1899.8 933.6L1916.9 963.4L1882.6 963.4Z" fill="#ff0000"/><path d="M1899.8 944L1907.9 958.1L1891.6 958.1Z" fill="#fff"/><path d="M1917.8 868.9L1952.1 868.9L1934.9 898.6Z" fill="#ff0000"/><path d="M1926.8 874.1L1943.1 874.1L1934.9 888.2Z" fill="#fff"/><path d="M1934.9 933.6L1952.1 963.4L1917.8 963.4Z" fill="#ff0000"/><path d="M1934.9 944L1943.1 958.1L1926.8 958.1Z" fill="#fff"/><path d="M1952.9 871.4L1987.2 871.4L1970 901.1Z" fill="#ff0000"/><path d="M1961.9 876.6L1978.2 876.6L1970 890.7Z" fill="#fff"/><path d="M1970 933.6L1987.2 963.4L1952.9 963.4Z" fill="#ff0000"/><path d="M1970 944L1978.2 958.1L1961.9 958.1Z" fill="#fff"/><path d="M1988 862.1L2022.3 862.1L2005.2 891.9Z" fill="#ff0000"/><path d="M1997 867.4L2013.3 867.4L2005.2 881.5Z" fill="#fff"/><path d="M2005.2 933.6L2022.3 963.4L1988 963.4Z" fill="#ff0000"/><path d="M2005.2 944L2013.3 958.1L1997 958.1Z" fill="#fff"/><path d="M2023.1 798.9L2057.4 798.9L2040.3 828.6Z" fill="#ff0000"/><path d="M2032.1 804.1L2048.4 804.1L2040.3 818.2Z" fill="#fff"/><path d="M2040.3 933.6L2057.4 963.4L2023.1 963.4Z" fill="#ff0000"/><path d="M2040.3 944L2048.4 958.1L2032.1 958.1Z" fill="#fff"/><path d="M2058.3 809L2092.6 809L2075.4 838.8Z" fill="#ff0000"/><path d="M2067.3 814.2L2083.6 814.2L2075.4 828.3Z" fill="#fff"/><path d="M2075.4 933.6L2092.6 963.4L2058.3 963.4Z" fill="#ff0000"/><path d="M2075.4 944L2083.6 958.1L2067.3 958.1Z" fill="#fff"/><path d="M2093.4 840.9L2127.7 840.9L2110.5 870.6Z" fill="#ff0000"/><path d="M2102.4 846.1L2118.7 846.1L2110.5 860.2Z" fill="#fff"/><path d="M2110.5 933.6L2127.7 963.4L2093.4 963.4Z" fill="#ff0000"/><path d="M2110.5 944L2118.7 958.1L2102.4 958.1Z" fill="#fff"/><path d="M2128.5 864.9L2162.8 864.9L2145.7 894.6Z" fill="#ff0000"/><path d="M2137.5 870.1L2153.8 870.1L2145.7 884.2Z" fill="#fff"/><path d="M2145.7 933.6L2162.8 963.4L2128.5 963.4Z" fill="#ff0000"/><path d="M2145.7 944L2153.8 958.1L2137.5 958.1Z" fill="#fff"/><path d="M2163.6 831.9L2197.9 831.9L2180.8 861.6Z" fill="#ff0000"/><path d="M2172.6 837L2188.9 837L2180.8 851.1Z" fill="#fff"/><path d="M2180.8 933.6L2197.9 963.4L2163.6 963.4Z" fill="#ff0000"/><path d="M2180.8 944L2188.9 958.1L2172.6 958.1Z" fill="#fff"/><path d="M2198.8 868.9L2233.1 868.9L2215.9 898.6Z" fill="#ff0000"/><path d="M2207.8 874L2224.1 874L2215.9 888.1Z" fill="#fff"/><path d="M2215.9 933.6L2233.1 963.4L2198.8 963.4Z" fill="#ff0000"/><path d="M2215.9 944L2224.1 958.1L2207.8 958.1Z" fill="#fff"/><path d="M2233.9 807.9L2268.2 807.9L2251 837.6Z" fill="#ff0000"/><path d="M2242.9 813L2259.2 813L2251 827.1Z" fill="#fff"/><path d="M2251 933.6L2268.2 963.4L2233.9 963.4Z" fill="#ff0000"/><path d="M2251 944L2259.2 958.1L2242.9 958.1Z" fill="#fff"/><path d="M2269 833.9L2303.3 833.9L2286.2 863.6Z" fill="#ff0000"/><path d="M2278 839.1L2294.3 839.1L2286.2 853.2Z" fill="#fff"/><path d="M2304.1 890.5L2338.4 890.5L2321.3 920.2Z" fill="#ff0000"/><path d="M2313.1 895.7L2329.4 895.7L2321.3 909.8Z" fill="#fff"/><path d="M2321.3 933.6L2338.4 963.4L2304.1 963.4Z" fill="#ff0000"/><path d="M2321.3 944L2329.4 958.1L2313.1 958.1Z" fill="#fff"/><path d="M2339.3 913.9L2373.6 913.9L2356.4 943.6Z" fill="#ff0000"/><path d="M2348.3 919L2364.5 919L2356.4 933.1Z" fill="#fff"/><path d="M2356.4 933.6L2373.6 963.4L2339.3 963.4Z" fill="#ff0000"/><path d="M2356.4 944L2364.5 958.1L2348.3 958.1Z" fill="#fff"/><path d="M2374.4 869.5L2408.7 869.5L2391.5 899.2Z" fill="#ff0000"/><path d="M2383.4 874.7L2399.7 874.7L2391.5 888.8Z" fill="#fff"/><path d="M2391.5 933.6L2408.7 963.4L2374.4 963.4Z" fill="#ff0000"/><path d="M2391.5 944L2399.7 958.1L2383.4 958.1Z" fill="#fff"/><path d="M2409.5 861.6L2443.8 861.6L2426.7 891.4Z" fill="#ff0000"/><path d="M2418.5 866.9L2434.8 866.9L2426.7 881Z" fill="#fff"/><path d="M2426.7 933.6L2443.8 963.4L2409.5 963.4Z" fill="#ff0000"/><path d="M2426.7 944L2434.8 958.1L2418.5 958.1Z" fill="#fff"/><path d="M2444.6 869.5L2478.9 869.5L2461.8 899.2Z" fill="#ff0000"/><path d="M2453.6 874.7L2469.9 874.7L2461.8 888.8Z" fill="#fff"/><path d="M2461.8 933.6L2478.9 963.4L2444.6 963.4Z" fill="#ff0000"/><path d="M2461.8 944L2469.9 958.1L2453.6 958.1Z" fill="#fff"/><path d="M2479.8 868.9L2514.1 868.9L2496.9 898.6Z" fill="#ff0000"/><path d="M2488.8 874L2505 874L2496.9 888.1Z" fill="#fff"/><path d="M2496.9 933.6L2514.1 963.4L2479.8 963.4Z" fill="#ff0000"/><path d="M2496.9 944L2505 958.1L2488.8 958.1Z" fill="#fff"/><path d="M2532 933.6L2549.2 963.4L2514.9 963.4Z" fill="#ff0000"/><path d="M2532 944L2540.2 958.1L2523.9 958.1Z" fill="#fff"/><path d="M3041.7 902.1L3076 902.1L3058.9 931.9Z" fill="#ff0000"/><path d="M3050.8 907.4L3067 907.4L3058.9 921.5Z" fill="#fff"/><path d="M3058.9 933.6L3076 963.4L3041.7 963.4Z" fill="#ff0000"/><path d="M3058.9 944L3067 958.1L3050.8 958.1Z" fill="#fff"/><path d="M1689 850.7V975" stroke="#32cd32" stroke-width="3.0" fill="none"/><path d="M1662.5 850.7H1715.5" stroke="#32cd32" stroke-width="3.0" fill="none"/><circle cx="1689" cy="975" r="13.75" fill="#fff" stroke="#32cd32" stroke-width="5.5"/><path d="M1724.2 849V975" stroke="#32cd32" stroke-width="3.0" fill="none"/><path d="M1697.7 849H1750.7" stroke="#32cd32" stroke-width="3.0" fill="none"/><circle cx="1724.2" cy="975" r="13.75" fill="#fff" stroke="#32cd32" stroke-width="5.5"/><path d="M1759.3 863V975" stroke="#32cd32" stroke-width="3.0" fill="none"/><path d="M1732.8 863H1785.8" stroke="#32cd32" stroke-width="3.0" fill="none"/><circle cx="1759.3" cy="975" r="13.75" fill="#fff" stroke="#32cd32" stroke-width="5.5"/><path d="M2251 903.8V960.5" stroke="#32cd32" stroke-width="3.0" fill="none"/><path d="M2224.5 903.8H2277.5" stroke="#32cd32" stroke-width="3.0" fill="none"/><circle cx="2251" cy="960.5" r="13.75" fill="#fff" stroke="#32cd32" stroke-width="5.5"/><path d="M2321.3 922.4V948" stroke="#32cd32" stroke-width="3.0" fill="none"/><path d="M2294.8 922.4H2347.8" stroke="#32cd32" stroke-width="3.0" fill="none"/><path d="M2294.8 948H2347.8" stroke="#32cd32" stroke-width="3.0" fill="none"/><circle cx="2321.3" cy="935.2" r="13.75" fill="#fff" stroke="#32cd32" stroke-width="5.5"/><path d="M3304.8 935.8V975" stroke="#32cd32" stroke-width="3.0" fill="none"/><path d="M3278.3 935.8H3331.3" stroke="#32cd32" stroke-width="3.0" fill="none"/><circle cx="3304.8" cy="975" r="13.75" fill="#fff" stroke="#32cd32" stroke-width="5.5"/><path d="M3339.9 934V975" stroke="#32cd32" stroke-width="3.0" fill="none"/><path d="M3313.4 934H3366.4" stroke="#32cd32" stroke-width="3.0" fill="none"/><circle cx="3339.9" cy="975" r="13.75" fill="#fff" stroke="#32cd32" stroke-width="5.5"/><path d="M292.7 826.1H345.7" stroke="#32cd32" stroke-width="3.0" fill="none"/><path d="M292.7 831.5H345.7" stroke="#32cd32" stroke-width="3.0" fill="none"/><circle cx="319.2" cy="828.8" r="16.5" fill="#32cd32"/><path d="M327.8 835H380.8" stroke="#32cd32" stroke-width="6.4" fill="none"/><circle cx="354.3" cy="835" r="16.5" fill="#32cd32"/><path d="M362.9 851.8H415.9" stroke="#32cd32" stroke-width="6.4" fill="none"/><circle cx="389.4" cy="851.8" r="16.5" fill="#32cd32"/><path d="M398.1 874.3H451.1" stroke="#32cd32" stroke-width="3.0" fill="none"/><path d="M398.1 879.7H451.1" stroke="#32cd32" stroke-width="3.0" fill="none"/><circle cx="424.6" cy="877" r="16.5" fill="#32cd32"/><path d="M433.2 886.8H486.2" stroke="#32cd32" stroke-width="6.4" fill="none"/><circle cx="459.7" cy="886.8" r="16.5" fill="#32cd32"/><path d="M468.3 903.8H521.3" stroke="#32cd32" stroke-width="6.4" fill="none"/><circle cx="494.8" cy="903.8" r="16.5" fill="#32cd32"/><path d="M538.6 872.4H591.6" stroke="#32cd32" stroke-width="3.0" fill="none"/><path d="M538.6 877.8H591.6" stroke="#32cd32" stroke-width="3.0" fill="none"/><circle cx="565.1" cy="875.1" r="16.5" fill="#32cd32"/><path d="M608.8 903H661.8" stroke="#32cd32" stroke-width="6.4" fill="none"/><circle cx="635.3" cy="903" r="16.5" fill="#32cd32"/><path d="M643.9 921.2H696.9" stroke="#32cd32" stroke-width="6.4" fill="none"/><circle cx="670.4" cy="921.2" r="16.5" fill="#32cd32"/><path d="M679.1 911.9H732.1" stroke="#32cd32" stroke-width="6.4" fill="none"/><circle cx="705.6" cy="911.9" r="16.5" fill="#32cd32"/><path d="M714.2 902.1H767.2" stroke="#32cd32" stroke-width="6.4" fill="none"/><circle cx="740.7" cy="902.1" r="16.5" fill="#32cd32"/><path d="M749.3 902.6H802.3" stroke="#32cd32" stroke-width="6.4" fill="none"/><circle cx="775.8" cy="902.6" r="16.5" fill="#32cd32"/><path d="M784.4 892.8H837.4" stroke="#32cd32" stroke-width="6.4" fill="none"/><circle cx="810.9" cy="892.8" r="16.5" fill="#32cd32"/><path d="M819.6 866.5H872.6" stroke="#32cd32" stroke-width="7.0" fill="none"/><circle cx="846.1" cy="866.5" r="16.5" fill="#32cd32"/><path d="M854.7 877H907.7" stroke="#32cd32" stroke-width="7.0" fill="none"/><circle cx="881.2" cy="877" r="16.5" fill="#32cd32"/><path d="M924.9 875.8H977.9" stroke="#32cd32" stroke-width="7.0" fill="none"/><circle cx="951.4" cy="875.8" r="16.5" fill="#32cd32"/><path d="M960 868.8H1013" stroke="#32cd32" stroke-width="6.4" fill="none"/><circle cx="986.5" cy="868.8" r="16.5" fill="#32cd32"/><path d="M995.2 898.6H1048.2" stroke="#32cd32" stroke-width="6.4" fill="none"/><circle cx="1021.7" cy="898.6" r="16.5" fill="#32cd32"/><path d="M1065.4 874.6H1118.4" stroke="#32cd32" stroke-width="7.0" fill="none"/><circle cx="1091.9" cy="874.6" r="16.5" fill="#32cd32"/><path d="M1135.7 864.9H1188.7" stroke="#32cd32" stroke-width="6.4" fill="none"/><circle cx="1162.2" cy="864.9" r="16.5" fill="#32cd32"/><path d="M1170.8 866.7H1223.8" stroke="#32cd32" stroke-width="6.4" fill="none"/><circle cx="1197.3" cy="866.7" r="16.5" fill="#32cd32"/><path d="M1205.9 874.6H1258.9" stroke="#32cd32" stroke-width="6.4" fill="none"/><circle cx="1232.4" cy="874.6" r="16.5" fill="#32cd32"/><path d="M1241 877H1294" stroke="#32cd32" stroke-width="6.4" fill="none"/><circle cx="1267.5" cy="877" r="16.5" fill="#32cd32"/><path d="M1276.2 873H1329.2" stroke="#32cd32" stroke-width="6.4" fill="none"/><circle cx="1302.7" cy="873" r="16.5" fill="#32cd32"/><path d="M1311.3 874.6H1364.3" stroke="#32cd32" stroke-width="6.4" fill="none"/><circle cx="1337.8" cy="874.6" r="16.5" fill="#32cd32"/><path d="M1346.4 870H1399.4" stroke="#32cd32" stroke-width="6.4" fill="none"/><circle cx="1372.9" cy="870" r="16.5" fill="#32cd32"/><path d="M1381.5 871H1434.5" stroke="#32cd32" stroke-width="6.4" fill="none"/><circle cx="1408" cy="871" r="16.5" fill="#32cd32"/><path d="M1416.7 874.6H1469.7" stroke="#32cd32" stroke-width="6.4" fill="none"/><circle cx="1443.2" cy="874.6" r="16.5" fill="#32cd32"/><path d="M1451.8 874.6H1504.8" stroke="#32cd32" stroke-width="6.4" fill="none"/><circle cx="1478.3" cy="874.6" r="16.5" fill="#32cd32"/><path d="M1486.9 865.8H1539.9" stroke="#32cd32" stroke-width="6.4" fill="none"/><circle cx="1513.4" cy="865.8" r="16.5" fill="#32cd32"/><path d="M1522 865.8H1575" stroke="#32cd32" stroke-width="6.4" fill="none"/><circle cx="1548.5" cy="865.8" r="16.5" fill="#32cd32"/><path d="M1557.2 865.8H1610.2" stroke="#32cd32" stroke-width="6.4" fill="none"/><circle cx="1583.7" cy="865.8" r="16.5" fill="#32cd32"/><path d="M1592.3 871.5H1645.3" stroke="#32cd32" stroke-width="3.0" fill="none"/><path d="M1592.3 876.5H1645.3" stroke="#32cd32" stroke-width="3.0" fill="none"/><circle cx="1618.8" cy="874" r="16.5" fill="#32cd32"/><path d="M2400.2 852.5H2453.2" stroke="#32cd32" stroke-width="3.0" fill="none"/><path d="M2400.2 858.5H2453.2" stroke="#32cd32" stroke-width="3.0" fill="none"/><circle cx="2426.7" cy="855.5" r="16.5" fill="#32cd32"/><path d="M2435.3 840.9H2488.3" stroke="#32cd32" stroke-width="3.0" fill="none"/><path d="M2435.3 846.9H2488.3" stroke="#32cd32" stroke-width="3.0" fill="none"/><circle cx="2461.8" cy="843.9" r="16.5" fill="#32cd32"/><path d="M2505.5 887.4H2558.5" stroke="#32cd32" stroke-width="3.0" fill="none"/><path d="M2505.5 896.8H2558.5" stroke="#32cd32" stroke-width="3.0" fill="none"/><circle cx="2532" cy="892.1" r="16.5" fill="#32cd32"/><path d="M2681.2 918.4H2734.2" stroke="#32cd32" stroke-width="6.4" fill="none"/><circle cx="2707.7" cy="918.4" r="16.5" fill="#32cd32"/><path d="M2716.3 836.2H2769.3" stroke="#32cd32" stroke-width="3.0" fill="none"/><path d="M2716.3 842.2H2769.3" stroke="#32cd32" stroke-width="3.0" fill="none"/><circle cx="2742.8" cy="839.2" r="16.5" fill="#32cd32"/><path d="M2751.4 800.8H2804.4" stroke="#32cd32" stroke-width="6.4" fill="none"/><circle cx="2777.9" cy="800.8" r="16.5" fill="#32cd32"/><path d="M2786.5 857.9H2839.5" stroke="#32cd32" stroke-width="6.4" fill="none"/><circle cx="2813" cy="857.9" r="16.5" fill="#32cd32"/><path d="M2821.7 862.5H2874.7" stroke="#32cd32" stroke-width="6.4" fill="none"/><circle cx="2848.2" cy="862.5" r="16.5" fill="#32cd32"/><path d="M2927 881H2980" stroke="#32cd32" stroke-width="3.0" fill="none"/><path d="M2927 887H2980" stroke="#32cd32" stroke-width="3.0" fill="none"/><circle cx="2953.5" cy="884" r="16.5" fill="#32cd32"/><path d="M2962.2 854.1H3015.2" stroke="#32cd32" stroke-width="6.4" fill="none"/><circle cx="2988.7" cy="854.1" r="16.5" fill="#32cd32"/><path d="M2997.3 860.7H3050.3" stroke="#32cd32" stroke-width="3.0" fill="none"/><path d="M2997.3 866.7H3050.3" stroke="#32cd32" stroke-width="3.0" fill="none"/><circle cx="3023.8" cy="863.7" r="16.5" fill="#32cd32"/><path d="M3032.4 879.5H3085.4" stroke="#32cd32" stroke-width="3.0" fill="none"/><path d="M3032.4 886.1H3085.4" stroke="#32cd32" stroke-width="3.0" fill="none"/><circle cx="3058.9" cy="882.8" r="16.5" fill="#32cd32"/><path d="M3067.5 799.4H3120.5" stroke="#32cd32" stroke-width="6.4" fill="none"/><circle cx="3094" cy="799.4" r="16.5" fill="#32cd32"/><path d="M3102.6 749.8H3155.6" stroke="#32cd32" stroke-width="3.0" fill="none"/><path d="M3102.6 755.8H3155.6" stroke="#32cd32" stroke-width="3.0" fill="none"/><circle cx="3129.1" cy="752.8" r="16.5" fill="#32cd32"/><path d="M3137.8 758.9H3190.8" stroke="#32cd32" stroke-width="7.0" fill="none"/><circle cx="3164.3" cy="758.9" r="16.5" fill="#32cd32"/><path d="M503.4 891.9H556.4" stroke="#0000ff" stroke-width="3.0" fill="none"/><path d="M503.4 896.9H556.4" stroke="#0000ff" stroke-width="3.0" fill="none"/><circle cx="529.9" cy="894.4" r="16.5" fill="#0000ff"/><path d="M889.8 888.4H942.8" stroke="#0000ff" stroke-width="3.0" fill="none"/><path d="M889.8 899.6H942.8" stroke="#0000ff" stroke-width="3.0" fill="none"/><circle cx="916.3" cy="894" r="16.5" fill="#0000ff"/><path d="M1030.3 915.8H1083.3" stroke="#0000ff" stroke-width="3.0" fill="none"/><path d="M1030.3 925.8H1083.3" stroke="#0000ff" stroke-width="3.0" fill="none"/><circle cx="1056.8" cy="920.8" r="16.5" fill="#0000ff"/><path d="M1100.5 868.6H1153.5" stroke="#0000ff" stroke-width="3.0" fill="none"/><path d="M1100.5 873.6H1153.5" stroke="#0000ff" stroke-width="3.0" fill="none"/><circle cx="1127" cy="871.1" r="16.5" fill="#0000ff"/><path d="M1767.9 592.8H1820.9" stroke="#0000ff" stroke-width="3.0" fill="none"/><path d="M1767.9 598.8H1820.9" stroke="#0000ff" stroke-width="3.0" fill="none"/><circle cx="1794.4" cy="595.8" r="16.5" fill="#0000ff"/><path d="M1803 591.8H1856" stroke="#0000ff" stroke-width="6.4" fill="none"/><circle cx="1829.5" cy="591.8" r="16.5" fill="#0000ff"/><path d="M1838.2 589.4H1891.2" stroke="#0000ff" stroke-width="3.0" fill="none"/><path d="M1838.2 597.4H1891.2" stroke="#0000ff" stroke-width="3.0" fill="none"/><circle cx="1864.7" cy="593.4" r="16.5" fill="#0000ff"/><path d="M1873.3 666.3H1926.3" stroke="#0000ff" stroke-width="3.0" fill="none"/><path d="M1873.3 674.3H1926.3" stroke="#0000ff" stroke-width="3.0" fill="none"/><circle cx="1899.8" cy="670.3" r="16.5" fill="#0000ff"/><path d="M1908.4 661.2H1961.4" stroke="#0000ff" stroke-width="3.0" fill="none"/><path d="M1908.4 670.2H1961.4" stroke="#0000ff" stroke-width="3.0" fill="none"/><circle cx="1934.9" cy="665.7" r="16.5" fill="#0000ff"/><path d="M1943.5 707.6H1996.5" stroke="#0000ff" stroke-width="3.0" fill="none"/><path d="M1943.5 719.6H1996.5" stroke="#0000ff" stroke-width="3.0" fill="none"/><circle cx="1970" cy="713.6" r="16.5" fill="#0000ff"/><path d="M1978.7 739.7H2031.7" stroke="#0000ff" stroke-width="7.0" fill="none"/><circle cx="2005.2" cy="739.7" r="16.5" fill="#0000ff"/><path d="M2013.8 694.5H2066.8" stroke="#0000ff" stroke-width="3.0" fill="none"/><path d="M2013.8 704.5H2066.8" stroke="#0000ff" stroke-width="3.0" fill="none"/><circle cx="2040.3" cy="699.5" r="16.5" fill="#0000ff"/><path d="M2048.9 655.7H2101.9" stroke="#0000ff" stroke-width="3.0" fill="none"/><path d="M2048.9 665.1H2101.9" stroke="#0000ff" stroke-width="3.0" fill="none"/><circle cx="2075.4" cy="660.4" r="16.5" fill="#0000ff"/><path d="M2084 665.8H2137" stroke="#0000ff" stroke-width="3.0" fill="none"/><path d="M2084 674.4H2137" stroke="#0000ff" stroke-width="3.0" fill="none"/><circle cx="2110.5" cy="670.1" r="16.5" fill="#0000ff"/><path d="M2119.2 705.7H2172.2" stroke="#0000ff" stroke-width="3.0" fill="none"/><path d="M2119.2 713.7H2172.2" stroke="#0000ff" stroke-width="3.0" fill="none"/><circle cx="2145.7" cy="709.7" r="16.5" fill="#0000ff"/><path d="M2154.3 736.5H2207.3" stroke="#0000ff" stroke-width="3.0" fill="none"/><path d="M2154.3 744.9H2207.3" stroke="#0000ff" stroke-width="3.0" fill="none"/><circle cx="2180.8" cy="740.7" r="16.5" fill="#0000ff"/><path d="M2189.4 786.6H2242.4" stroke="#0000ff" stroke-width="3.0" fill="none"/><path d="M2189.4 793.6H2242.4" stroke="#0000ff" stroke-width="3.0" fill="none"/><circle cx="2215.9" cy="790.1" r="16.5" fill="#0000ff"/><path d="M2259.7 787.8H2312.7" stroke="#0000ff" stroke-width="3.0" fill="none"/><path d="M2259.7 793.8H2312.7" stroke="#0000ff" stroke-width="3.0" fill="none"/><circle cx="2286.2" cy="790.8" r="16.5" fill="#0000ff"/><path d="M2329.9 865.1H2382.9" stroke="#0000ff" stroke-width="3.0" fill="none"/><path d="M2329.9 872.5H2382.9" stroke="#0000ff" stroke-width="3.0" fill="none"/><circle cx="2356.4" cy="868.8" r="16.5" fill="#0000ff"/><path d="M2365 879.3H2418" stroke="#0000ff" stroke-width="3.0" fill="none"/><path d="M2365 886.3H2418" stroke="#0000ff" stroke-width="3.0" fill="none"/><circle cx="2391.5" cy="882.8" r="16.5" fill="#0000ff"/><path d="M2496.9 913.7V949.7" stroke="#0000ff" stroke-width="3.0" fill="none"/><path d="M2470.4 913.7H2523.4" stroke="#0000ff" stroke-width="3.0" fill="none"/><path d="M2470.4 949.7H2523.4" stroke="#0000ff" stroke-width="3.0" fill="none"/><circle cx="2496.9" cy="931.7" r="16.5" fill="#0000ff"/><path d="M2540.7 907H2593.7" stroke="#0000ff" stroke-width="3.0" fill="none"/><path d="M2540.7 918.2H2593.7" stroke="#0000ff" stroke-width="3.0" fill="none"/><circle cx="2567.2" cy="912.6" r="16.5" fill="#0000ff"/><path d="M2646 893.7H2699" stroke="#0000ff" stroke-width="3.0" fill="none"/><path d="M2646 902.1H2699" stroke="#0000ff" stroke-width="3.0" fill="none"/><circle cx="2672.5" cy="897.9" r="16.5" fill="#0000ff"/><path d="M2856.8 905H2909.8" stroke="#0000ff" stroke-width="3.0" fill="none"/><path d="M2856.8 915H2909.8" stroke="#0000ff" stroke-width="3.0" fill="none"/><circle cx="2883.3" cy="910" r="16.5" fill="#0000ff"/><path d="M3172.9 793H3225.9" stroke="#0000ff" stroke-width="3.0" fill="none"/><path d="M3172.9 802.6H3225.9" stroke="#0000ff" stroke-width="3.0" fill="none"/><circle cx="3199.4" cy="797.8" r="16.5" fill="#0000ff"/><path d="M3208 833.1H3261" stroke="#0000ff" stroke-width="3.0" fill="none"/><path d="M3208 843.1H3261" stroke="#0000ff" stroke-width="3.0" fill="none"/><circle cx="3234.5" cy="838.1" r="16.5" fill="#0000ff"/><path d="M3243.1 821.9H3296.1" stroke="#0000ff" stroke-width="3.0" fill="none"/><path d="M3243.1 831.9H3296.1" stroke="#0000ff" stroke-width="3.0" fill="none"/><circle cx="3269.6" cy="826.9" r="16.5" fill="#0000ff"/><path d="M3348.5 695.8H3401.5" stroke="#0000ff" stroke-width="6.4" fill="none"/><circle cx="3375" cy="695.8" r="16.5" fill="#0000ff"/><path d="M3383.6 740H3436.6" stroke="#0000ff" stroke-width="6.4" fill="none"/><circle cx="3410.1" cy="740" r="16.5" fill="#0000ff"/><path d="M3418.8 734.9H3471.8" stroke="#0000ff" stroke-width="6.4" fill="none"/><circle cx="3445.3" cy="734.9" r="16.5" fill="#0000ff"/><path d="M3453.9 759.8H3506.9" stroke="#0000ff" stroke-width="6.4" fill="none"/><circle cx="3480.4" cy="759.8" r="16.5" fill="#0000ff"/><path d="M3489 769.1H3542" stroke="#0000ff" stroke-width="6.4" fill="none"/><circle cx="3515.5" cy="769.1" r="16.5" fill="#0000ff"/><path d="M3524.1 769.8H3577.1" stroke="#0000ff" stroke-width="6.4" fill="none"/><circle cx="3550.6" cy="769.8" r="16.5" fill="#0000ff"/><path d="M3559.3 799H3612.3" stroke="#0000ff" stroke-width="6.4" fill="none"/><circle cx="3585.8" cy="799" r="16.5" fill="#0000ff"/><path d="M3594.4 804.8H3647.4" stroke="#0000ff" stroke-width="6.4" fill="none"/><circle cx="3620.9" cy="804.8" r="16.5" fill="#0000ff"/><path d="M1653.9 633.5V668.9" stroke="#0000ff" stroke-width="3.0" fill="none"/><path d="M1627.4 633.5H1680.4" stroke="#0000ff" stroke-width="3.0" fill="none"/><path d="M1627.4 668.9H1680.4" stroke="#0000ff" stroke-width="3.0" fill="none"/><circle cx="1653.9" cy="651.2" r="13.75" fill="#fff" stroke="#0000ff" stroke-width="5.5"/><path d="M1662.5 651.7H1715.5" stroke="#0000ff" stroke-width="7.0" fill="none"/><circle cx="1689" cy="651.7" r="13.75" fill="#fff" stroke="#0000ff" stroke-width="5.5"/><path d="M1697.7 652.8H1750.7" stroke="#0000ff" stroke-width="3.0" fill="none"/><path d="M1697.7 668.2H1750.7" stroke="#0000ff" stroke-width="3.0" fill="none"/><circle cx="1724.2" cy="660.5" r="13.75" fill="#fff" stroke="#0000ff" stroke-width="5.5"/><path d="M1732.8 619.1H1785.8" stroke="#0000ff" stroke-width="3.0" fill="none"/><path d="M1732.8 625.1H1785.8" stroke="#0000ff" stroke-width="3.0" fill="none"/><circle cx="1759.3" cy="622.1" r="13.75" fill="#fff" stroke="#0000ff" stroke-width="5.5"/><path d="M2251 721.4V763.4" stroke="#0000ff" stroke-width="3.0" fill="none"/><path d="M2224.5 721.4H2277.5" stroke="#0000ff" stroke-width="3.0" fill="none"/><path d="M2224.5 763.4H2277.5" stroke="#0000ff" stroke-width="3.0" fill="none"/><circle cx="2251" cy="742.4" r="13.75" fill="#fff" stroke="#0000ff" stroke-width="5.5"/><path d="M2321.3 648.9V685.9" stroke="#0000ff" stroke-width="3.0" fill="none"/><path d="M2294.8 648.9H2347.8" stroke="#0000ff" stroke-width="3.0" fill="none"/><path d="M2294.8 685.9H2347.8" stroke="#0000ff" stroke-width="3.0" fill="none"/><circle cx="2321.3" cy="667.4" r="13.75" fill="#fff" stroke="#0000ff" stroke-width="5.5"/><path d="M3304.8 639.5V691.5" stroke="#0000ff" stroke-width="3.0" fill="none"/><path d="M3278.3 639.5H3331.3" stroke="#0000ff" stroke-width="3.0" fill="none"/><path d="M3278.3 691.5H3331.3" stroke="#0000ff" stroke-width="3.0" fill="none"/><circle cx="3304.8" cy="665.5" r="13.75" fill="#fff" stroke="#0000ff" stroke-width="5.5"/><path d="M3339.9 644.2V682.2" stroke="#0000ff" stroke-width="3.0" fill="none"/><path d="M3313.4 644.2H3366.4" stroke="#0000ff" stroke-width="3.0" fill="none"/><path d="M3313.4 682.2H3366.4" stroke="#0000ff" stroke-width="3.0" fill="none"/><circle cx="3339.9" cy="663.2" r="13.75" fill="#fff" stroke="#0000ff" stroke-width="5.5"/><path d="M3625 796.5H3640" stroke="#0000ff" stroke-width="4"/><path d="M266 494.2L389.7 498.9L529.5 504L646 505.9L762.4 510.1L855.6 512.4L925.5 509.6L969.7 507.7L995.3 511.9L1079.2 524L1111.8 534.3L1181.7 538.5L1251.6 539.9L1344.7 536.6L1450 532.9L1561.8 531.8M1665.9 534.8L1836.3 544.5L1976 552.9L2115.8 559.4L2209 562.7L2255.6 562.7L2302 560.8L2395.3 555.7L2535 550.1L2689.7 543.1L2829.5 535.7L2936.6 532L3062.4 531.5L3155.6 534.3L3248.7 536.6L3365.2 538.9L3458.4 536.1L3574.8 531L3637 530.6M266 662L314.3 675L324.5 683.4L357.1 701.5L364.1 707.6L410.7 721.5L482.9 727.6L548.1 734.1L646 736L697.2 735.5L762.4 729.9L827.6 726.2L902.2 727.6L972 729.5L1088.5 727.1L1181.7 727.6L1298.1 727.6L1391.3 726.2L1450 725.7L1520 727.2L1558 727.6M1664 728.3L1789.7 734.1L1929.5 740.2L2069 740.6L2255.6 740.2L2441.9 740.2L2581.7 739.2L2698 737.4L2829.5 731.8L2969.2 723.9L3062.4 718.8L3132.3 719.7L3248.7 721.5L3388.5 718.3L3481.7 716L3528.3 716.9L3637 722M266 936.2L366 938L483 939.9L599 942.2L716 943.4L850 946.9L1000 948.5L1200 949.5L1410 948L1562.6 945.7M1667.4 942.2L1800 938.5L2010 932.9L2100 934.5L2223 938.7L2363 942.2L2590 944.3L2803 946.9L3100 947.2L3519 948.5L3580 951L3637 955.5" fill="none" stroke="#000" stroke-width="3.7" stroke-linejoin="round"/><text x="1614" y="554" font-family="Liberation Sans, sans-serif" font-size="57" fill="#000" text-anchor="middle" transform="rotate(2 1614 534)">230</text><text x="1611" y="750" font-family="Liberation Sans, sans-serif" font-size="57" fill="#000" text-anchor="middle" transform="rotate(0.8 1611 730)">250</text><text x="1615.500" y="968" font-family="Liberation Sans, sans-serif" font-size="57" fill="#000" text-anchor="middle" transform="rotate(-1 1615.500 948)">273</text></g><path d="M266.0 109.0V960.0M263.0 957.0H3640.0M266.0 112H347.0M266.0 217.6H347.0M266.0 323.2H347.0M266.0 428.9H347.0M266.0 534.5H347.0M266.0 640.1H347.0M266.0 745.8H347.0M266.0 851.4H347.0M266.0 957H347.0M266 957.0V894.0M336.2 957.0V924.0M406.5 957.0V924.0M476.7 957.0V924.0M546.9 957.0V894.0M617.1 957.0V924.0M687.4 957.0V924.0M757.6 957.0V924.0M827.8 957.0V894.0M898.1 957.0V924.0M968.3 957.0V924.0M1038.5 957.0V924.0M1108.8 957.0V894.0M1179 957.0V924.0M1249.2 957.0V924.0M1319.4 957.0V924.0M1389.7 957.0V894.0M1459.9 957.0V924.0M1530.1 957.0V924.0M1600.4 957.0V924.0M1670.6 957.0V894.0M1740.8 957.0V924.0M1811 957.0V924.0M1881.3 957.0V924.0M1951.5 957.0V894.0M2021.7 957.0V924.0M2092 957.0V924.0M2162.2 957.0V924.0M2232.4 957.0V894.0M2302.6 957.0V924.0M2372.9 957.0V924.0M2443.1 957.0V924.0M2513.3 957.0V894.0M2583.6 957.0V924.0M2653.8 957.0V924.0M2724 957.0V924.0M2794.2 957.0V894.0M2864.5 957.0V924.0M2934.7 957.0V924.0M3004.9 957.0V924.0M3075.2 957.0V894.0M3145.4 957.0V924.0M3215.6 957.0V924.0M3285.9 957.0V924.0M3356.1 957.0V894.0M3426.3 957.0V924.0M3496.5 957.0V924.0M3566.8 957.0V924.0M3637 957.0V894.0" fill="none" stroke="#000" stroke-width="6"/><g font-family="Liberation Sans, sans-serif" fill="#000"><g font-size="68" text-anchor="end"><text x="229" y="137">16.7</text><text x="229" y="242.600">15.0</text><text x="229" y="348.200">13.2</text><text x="229" y="453.900">11.5</text><text x="229" y="559.500">9.77</text><text x="229" y="665.100">8.03</text><text x="229" y="770.800">6.28</text><text x="229" y="876.400">4.54</text><text x="229" y="982">2.79</text></g><g font-size="76" text-anchor="middle"><text x="266" y="1036.600">0</text><text x="546.900" y="1036.600">2</text><text x="827.800" y="1036.600">4</text><text x="1108.800" y="1036.600">6</text><text x="1389.700" y="1036.600">8</text><text x="1670.600" y="1036.600">10</text><text x="1951.500" y="1036.600">12</text><text x="2232.400" y="1036.600">14</text><text x="2513.300" y="1036.600">16</text><text x="2794.200" y="1036.600">18</text><text x="3075.200" y="1036.600">20</text><text x="3356.100" y="1036.600">22</text><text x="3637" y="1036.600">24</text><text x="1951.500" y="1116.500">Time (UTC)</text></g><text x="36" y="534" font-size="68" text-anchor="middle" transform="rotate(-90 36 534)">Height AMSL (km)</text><text x="1951.500" y="77" font-size="100" text-anchor="middle">Schneefernerhaus: 2025/10/05</text><g font-size="60" text-anchor="middle"><text x="258" y="1262.600">Clear</text><text x="1391" y="1260.600">Water</text><text x="2514.500" y="1260.600">Ice</text><text x="3639" y="1262.600">Other</text></g><g font-size="60"><text x="327" y="1405">SEV-OCA SL Wat</text><text x="327" y="1492">SEV-OCA 2L Wat</text><text x="327" y="1588.500">OCA High Err Wat</text><text x="1117" y="1405">SEV-OCA SL Ice</text><text x="1117" y="1492">SEV-OCA 2L Ice</text><text x="2404" y="1404.600">ACTRIS CBH</text><text x="2404" y="1491.500">ACTRIS CTH</text><text x="2404" y="1578.500">ACTRIS CBH BL</text><text x="2404" y="1665.500">ACTRIS CTH BL</text></g></g><rect x="266.0" y="1143.7" width="3371.0" height="56.3" fill="url(#cb)"/><path d="M263.0 1200H3640.0M266 1200V1183M378.4 1200V1190.5M490.7 1200V1190.5M603.1 1200V1190.5M715.5 1200V1190.5M827.8 1200V1190.5M940.2 1200V1190.5M1052.6 1200V1190.5M1164.9 1200V1190.5M1277.3 1200V1190.5M1389.7 1200V1183M1502 1200V1190.5M1614.4 1200V1190.5M1726.8 1200V1190.5M1839.1 1200V1190.5M1951.5 1200V1190.5M2063.9 1200V1190.5M2176.2 1200V1190.5M2288.6 1200V1190.5M2401 1200V1190.5M2513.3 1200V1183M2625.7 1200V1190.5M2738.1 1200V1190.5M2850.4 1200V1190.5M2962.8 1200V1190.5M3075.2 1200V1190.5M3187.5 1200V1190.5M3299.9 1200V1190.5M3412.3 1200V1190.5M3524.6 1200V1190.5M3637 1200V1183" fill="none" stroke="#000" stroke-width="6"/><rect x="249.1" y="1312.9" width="651.2" height="334.7" fill="none" stroke="#000" stroke-width="5.8"/><rect x="1040" y="1312.9" width="572.1" height="228.8" fill="none" stroke="#000" stroke-width="5.8"/><rect x="2328" y="1313.2" width="559.4" height="401.8" fill="none" stroke="#000" stroke-width="5.8"/><circle cx="286.9" cy="1383.8" r="17" fill="#32cd32"/><circle cx="286.9" cy="1470" r="14.2" fill="#fff" stroke="#32cd32" stroke-width="5.6"/><path d="M270 1549.5L303.8 1583.3M303.8 1549.5L270 1583.3" stroke="#32cd32" stroke-width="5" fill="none"/><circle cx="1076.9" cy="1383.8" r="17" fill="#0000ff"/><circle cx="1076.9" cy="1470" r="14.2" fill="#fff" stroke="#0000ff" stroke-width="5.6"/><path d="M2365 1364.1L2382.2 1393.8L2347.8 1393.8ZM2347.8 1460.2L2382.2 1460.2L2365 1489.8Z" fill="#ff0000"/><path d="M2365 1537.2L2382.2 1566.9L2347.8 1566.9Z" fill="#ff0000"/><path d="M2365 1547.6L2373.1 1561.8L2356.9 1561.8Z" fill="#fff"/><path d="M2347.8 1633.2L2382.2 1633.2L2365 1662.8Z" fill="#ff0000"/><path d="M2356.9 1638.3L2373.1 1638.3L2365 1652.5Z" fill="#fff"/></svg></body></html>
